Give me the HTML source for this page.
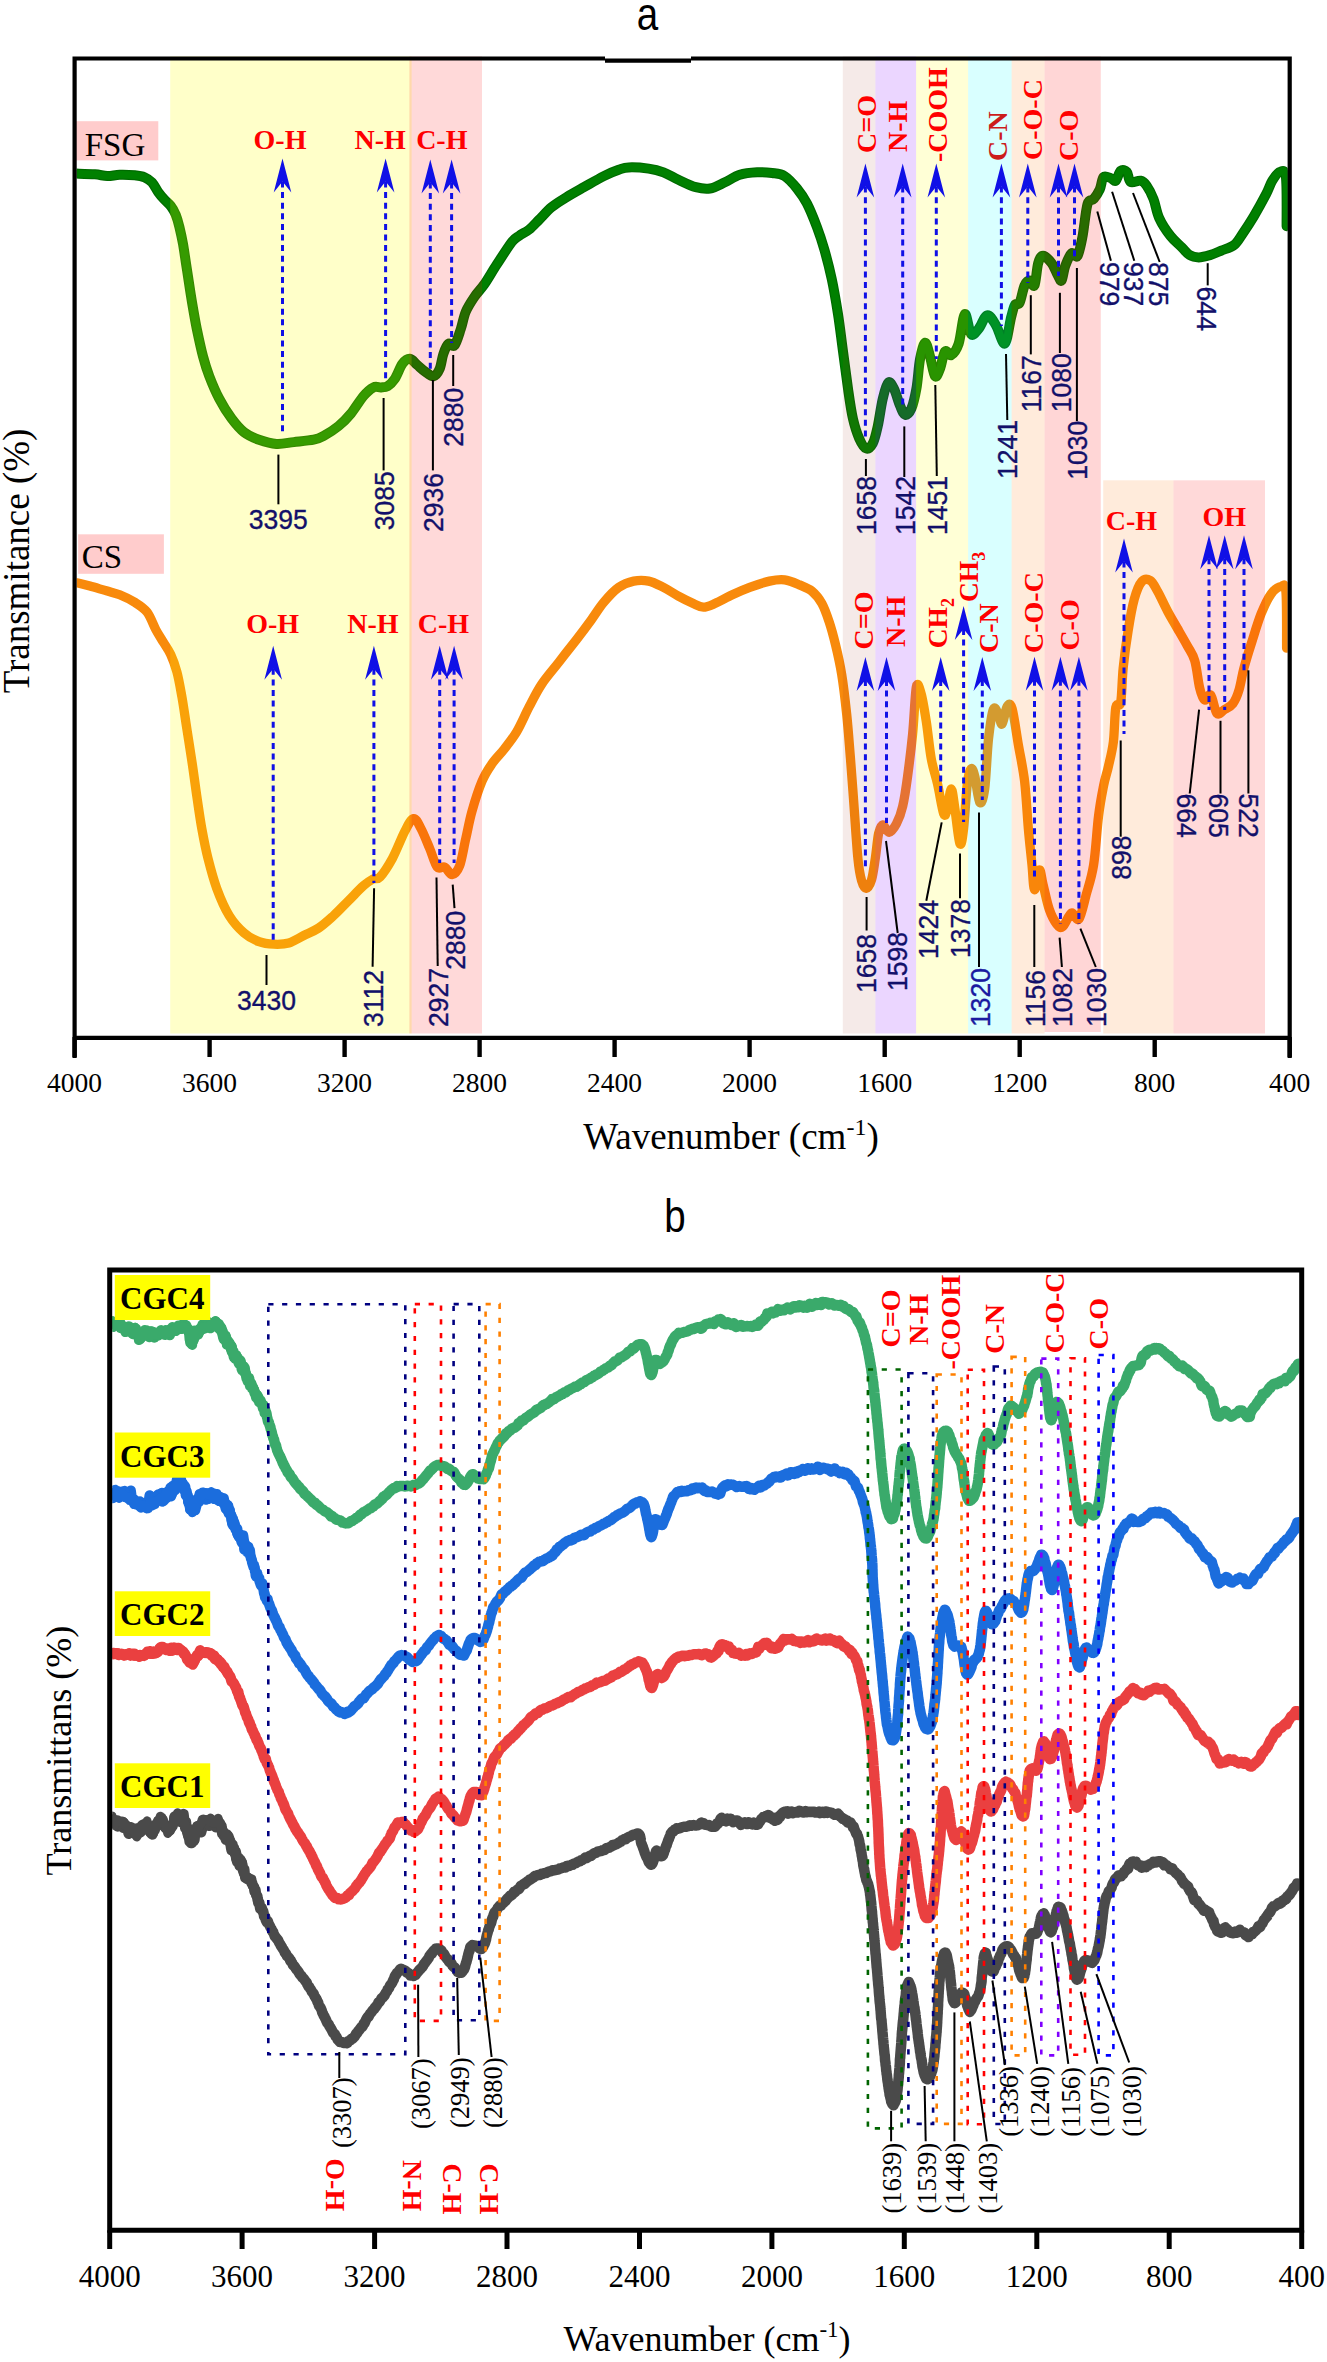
<!DOCTYPE html>
<html><head><meta charset="utf-8"><style>
html,body{margin:0;padding:0;background:#fff;}
svg{display:block;}
</style></head><body>
<svg width="1327" height="2362" viewBox="0 0 1327 2362">
<rect width="1327" height="2362" fill="#fff"/>
<clipPath id="ca"><rect x="76.7" y="60" width="1211" height="975"/></clipPath><g clip-path="url(#ca)">
<path d="M76.2,173.6 C79.3,173.7 89.7,173.9 94.9,174.3 C100.1,174.7 103.2,175.9 107.3,176.0 C111.4,176.1 115.1,174.9 119.7,174.8 C124.3,174.7 130.5,174.9 134.7,175.3 C138.8,175.7 141.7,176.1 144.6,177.3 C147.5,178.5 149.7,179.8 152.0,182.3 C154.3,184.8 156.2,189.3 158.3,192.2 C160.4,195.1 162.4,197.4 164.5,199.7 C166.6,202.0 168.8,203.4 170.7,205.9 C172.6,208.4 174.2,211.1 175.7,214.6 C177.1,218.1 178.2,222.0 179.4,227.0 C180.6,232.0 181.8,237.3 183.1,244.4 C184.3,251.5 185.4,259.8 186.9,269.3 C188.4,278.8 190.2,291.7 191.9,301.6 C193.6,311.6 195.0,319.9 196.8,329.0 C198.7,338.1 200.9,348.5 203.0,356.4 C205.1,364.3 206.6,369.2 209.3,376.2 C212.0,383.2 215.5,391.6 219.2,398.6 C222.9,405.7 227.4,412.9 231.6,418.5 C235.8,424.1 239.5,428.7 244.1,432.2 C248.7,435.7 253.6,437.8 259.0,439.7 C264.4,441.6 270.6,443.5 276.4,443.9 C282.2,444.3 287.6,442.8 293.8,442.1 C300.0,441.4 308.7,440.7 313.7,439.7 C318.7,438.7 319.5,438.2 323.7,435.9 C327.9,433.6 334.1,429.7 338.6,426.0 C343.2,422.3 346.9,418.5 351.0,413.5 C355.1,408.5 359.7,400.5 363.4,396.1 C367.1,391.8 370.5,388.8 373.4,387.4 C376.3,385.9 378.6,387.6 381.0,387.4 C383.4,387.2 385.2,387.6 387.5,386.2 C389.8,384.8 392.4,382.4 394.9,378.7 C397.4,375.0 399.9,367.1 402.4,363.8 C404.9,360.5 407.3,358.6 409.8,358.8 C412.3,359.0 414.8,362.9 417.3,365.0 C419.8,367.1 422.1,369.4 424.8,371.3 C427.5,373.2 431.0,376.6 433.5,376.2 C436.0,375.8 438.1,372.5 439.7,368.8 C441.3,365.1 441.9,358.0 443.4,353.9 C444.8,349.8 446.5,345.3 448.4,343.9 C450.3,342.4 452.5,347.7 454.6,345.2 C456.7,342.7 458.9,334.6 460.8,329.0 C462.7,323.4 463.5,317.0 465.8,311.6 C468.1,306.2 471.4,301.3 474.5,296.7 C477.6,292.1 480.7,289.6 484.4,284.2 C488.1,278.8 492.3,271.3 496.9,264.3 C501.5,257.3 508.1,246.8 511.8,242.0 C515.5,237.2 516.4,237.8 519.3,235.7 C522.2,233.6 525.9,232.2 529.2,229.5 C532.5,226.8 535.5,223.3 539.2,219.6 C542.9,215.9 547.1,210.8 551.6,207.1 C556.1,203.4 561.1,200.5 566.5,197.2 C571.9,193.9 577.7,190.7 583.9,187.2 C590.1,183.7 598.0,179.0 603.8,176.1 C609.6,173.2 614.6,171.2 618.7,169.8 C622.9,168.4 623.7,167.6 628.7,167.4 C633.7,167.2 642.8,167.8 648.6,168.6 C654.4,169.4 658.5,170.4 663.5,172.3 C668.5,174.2 673.0,177.3 678.4,179.8 C683.8,182.3 690.5,185.8 695.8,187.2 C701.1,188.6 705.1,189.3 710.0,188.5 C714.9,187.7 719.9,184.6 724.9,182.3 C729.9,180.0 734.4,176.5 739.8,174.8 C745.2,173.1 751.8,172.6 757.2,172.3 C762.6,172.0 767.5,172.4 772.1,173.0 C776.7,173.6 780.5,173.5 784.6,176.1 C788.8,178.7 793.3,183.9 797.0,188.5 C800.7,193.1 803.6,197.0 806.9,203.4 C810.2,209.8 814.0,219.3 816.9,227.0 C819.8,234.7 821.8,240.7 824.3,249.4 C826.8,258.1 829.5,268.5 831.8,279.3 C834.1,290.1 836.1,302.1 838.0,314.1 C839.9,326.1 841.3,339.0 843.0,351.4 C844.7,363.8 846.4,377.5 848.0,388.7 C849.6,399.9 851.0,410.2 852.9,418.5 C854.8,426.8 857.0,433.4 859.2,438.4 C861.4,443.4 863.8,447.6 866.1,448.4 C868.4,449.2 870.8,447.1 872.8,443.4 C874.8,439.7 876.1,433.5 877.8,426.0 C879.5,418.5 881.0,405.9 882.8,398.6 C884.5,391.4 886.4,384.1 888.3,382.5 C890.2,380.9 892.0,384.8 894.0,388.7 C896.0,392.6 898.3,401.8 900.2,406.1 C902.1,410.5 903.3,414.4 905.2,414.8 C907.1,415.2 909.5,413.0 911.4,408.6 C913.3,404.2 914.9,397.0 916.4,388.7 C917.9,380.4 918.6,366.5 920.1,358.8 C921.6,351.1 923.5,343.1 925.1,342.7 C926.8,342.3 928.4,350.8 930.0,356.4 C931.6,362.0 933.3,374.1 935.0,376.2 C936.7,378.3 938.3,372.9 940.0,368.8 C941.7,364.7 943.1,353.7 945.0,351.4 C946.9,349.1 948.9,356.4 951.2,355.1 C953.5,353.9 956.3,350.7 958.6,343.9 C960.9,337.1 962.7,315.8 964.8,314.1 C966.9,312.5 968.8,331.5 971.1,334.0 C973.4,336.5 975.8,332.1 978.5,329.0 C981.2,325.9 984.3,315.9 987.2,315.3 C990.1,314.7 993.1,320.6 996.0,325.3 C998.9,330.0 1002.3,344.8 1004.8,343.5 C1007.3,342.2 1009.4,323.8 1011.1,317.4 C1012.8,311.0 1013.4,307.6 1014.8,305.1 C1016.2,302.6 1018.1,305.9 1019.7,302.6 C1021.3,299.3 1022.9,289.1 1024.6,285.4 C1026.2,281.7 1027.9,280.5 1029.6,280.5 C1031.2,280.5 1033.1,288.3 1034.5,285.4 C1035.9,282.5 1036.8,268.1 1038.2,263.2 C1039.6,258.3 1040.8,255.8 1043.1,255.8 C1045.3,255.8 1049.2,259.9 1051.7,263.2 C1054.2,266.5 1056.2,272.6 1057.9,275.5 C1059.6,278.4 1060.4,282.1 1061.6,280.5 C1062.8,278.9 1063.6,270.2 1065.3,265.7 C1067.0,261.2 1069.5,255.1 1071.5,253.4 C1073.5,251.8 1075.8,258.7 1077.6,255.8 C1079.4,252.9 1080.9,244.7 1082.6,236.1 C1084.2,227.5 1085.7,210.3 1087.5,204.1 C1089.3,197.9 1091.5,201.6 1093.6,199.1 C1095.6,196.6 1098.1,193.0 1099.8,189.3 C1101.5,185.6 1101.7,178.8 1103.5,177.0 C1105.3,175.2 1108.9,177.6 1110.9,178.2 C1113.0,178.8 1114.2,181.9 1115.8,180.7 C1117.4,179.5 1118.8,172.2 1120.7,170.8 C1122.6,169.4 1125.2,170.2 1126.9,172.0 C1128.6,173.8 1128.3,180.5 1130.6,181.9 C1132.9,183.3 1137.8,180.1 1140.5,180.7 C1143.2,181.3 1144.4,182.5 1146.6,185.6 C1148.8,188.7 1151.4,193.6 1153.5,199.0 C1155.6,204.4 1156.3,211.7 1159.1,217.8 C1161.9,224.0 1166.6,231.0 1170.4,235.9 C1174.2,240.8 1178.5,244.0 1181.7,247.2 C1184.9,250.4 1186.8,253.4 1189.6,255.1 C1192.4,256.8 1195.3,257.4 1198.7,257.4 C1202.1,257.4 1206.2,256.2 1210.0,255.1 C1213.8,254.0 1217.3,252.3 1221.3,250.6 C1225.3,248.9 1230.5,247.8 1234.1,245.0 C1237.7,242.2 1239.4,238.4 1242.7,233.6 C1246.0,228.8 1249.9,223.0 1253.8,216.4 C1257.7,209.8 1263.0,200.1 1266.1,194.2 C1269.2,188.2 1270.0,184.4 1272.3,180.7 C1274.6,177.0 1277.4,172.6 1279.7,172.0 C1282.0,171.4 1284.8,168.0 1285.9,177.0 C1287.1,186.0 1286.5,218.0 1286.6,226.2" fill="none" stroke="#006a00" stroke-width="10" stroke-linejoin="round" stroke-linecap="round"/>
<path d="M76.2,173.6 C79.3,173.7 89.7,173.9 94.9,174.3 C100.1,174.7 103.2,175.9 107.3,176.0 C111.4,176.1 115.1,174.9 119.7,174.8 C124.3,174.7 130.5,174.9 134.7,175.3 C138.8,175.7 141.7,176.1 144.6,177.3 C147.5,178.5 149.7,179.8 152.0,182.3 C154.3,184.8 156.2,189.3 158.3,192.2 C160.4,195.1 162.4,197.4 164.5,199.7 C166.6,202.0 168.8,203.4 170.7,205.9 C172.6,208.4 174.2,211.1 175.7,214.6 C177.1,218.1 178.2,222.0 179.4,227.0 C180.6,232.0 181.8,237.3 183.1,244.4 C184.3,251.5 185.4,259.8 186.9,269.3 C188.4,278.8 190.2,291.7 191.9,301.6 C193.6,311.6 195.0,319.9 196.8,329.0 C198.7,338.1 200.9,348.5 203.0,356.4 C205.1,364.3 206.6,369.2 209.3,376.2 C212.0,383.2 215.5,391.6 219.2,398.6 C222.9,405.7 227.4,412.9 231.6,418.5 C235.8,424.1 239.5,428.7 244.1,432.2 C248.7,435.7 253.6,437.8 259.0,439.7 C264.4,441.6 270.6,443.5 276.4,443.9 C282.2,444.3 287.6,442.8 293.8,442.1 C300.0,441.4 308.7,440.7 313.7,439.7 C318.7,438.7 319.5,438.2 323.7,435.9 C327.9,433.6 334.1,429.7 338.6,426.0 C343.2,422.3 346.9,418.5 351.0,413.5 C355.1,408.5 359.7,400.5 363.4,396.1 C367.1,391.8 370.5,388.8 373.4,387.4 C376.3,385.9 378.6,387.6 381.0,387.4 C383.4,387.2 385.2,387.6 387.5,386.2 C389.8,384.8 392.4,382.4 394.9,378.7 C397.4,375.0 399.9,367.1 402.4,363.8 C404.9,360.5 407.3,358.6 409.8,358.8 C412.3,359.0 414.8,362.9 417.3,365.0 C419.8,367.1 422.1,369.4 424.8,371.3 C427.5,373.2 431.0,376.6 433.5,376.2 C436.0,375.8 438.1,372.5 439.7,368.8 C441.3,365.1 441.9,358.0 443.4,353.9 C444.8,349.8 446.5,345.3 448.4,343.9 C450.3,342.4 452.5,347.7 454.6,345.2 C456.7,342.7 458.9,334.6 460.8,329.0 C462.7,323.4 463.5,317.0 465.8,311.6 C468.1,306.2 471.4,301.3 474.5,296.7 C477.6,292.1 480.7,289.6 484.4,284.2 C488.1,278.8 492.3,271.3 496.9,264.3 C501.5,257.3 508.1,246.8 511.8,242.0 C515.5,237.2 516.4,237.8 519.3,235.7 C522.2,233.6 525.9,232.2 529.2,229.5 C532.5,226.8 535.5,223.3 539.2,219.6 C542.9,215.9 547.1,210.8 551.6,207.1 C556.1,203.4 561.1,200.5 566.5,197.2 C571.9,193.9 577.7,190.7 583.9,187.2 C590.1,183.7 598.0,179.0 603.8,176.1 C609.6,173.2 614.6,171.2 618.7,169.8 C622.9,168.4 623.7,167.6 628.7,167.4 C633.7,167.2 642.8,167.8 648.6,168.6 C654.4,169.4 658.5,170.4 663.5,172.3 C668.5,174.2 673.0,177.3 678.4,179.8 C683.8,182.3 690.5,185.8 695.8,187.2 C701.1,188.6 705.1,189.3 710.0,188.5 C714.9,187.7 719.9,184.6 724.9,182.3 C729.9,180.0 734.4,176.5 739.8,174.8 C745.2,173.1 751.8,172.6 757.2,172.3 C762.6,172.0 767.5,172.4 772.1,173.0 C776.7,173.6 780.5,173.5 784.6,176.1 C788.8,178.7 793.3,183.9 797.0,188.5 C800.7,193.1 803.6,197.0 806.9,203.4 C810.2,209.8 814.0,219.3 816.9,227.0 C819.8,234.7 821.8,240.7 824.3,249.4 C826.8,258.1 829.5,268.5 831.8,279.3 C834.1,290.1 836.1,302.1 838.0,314.1 C839.9,326.1 841.3,339.0 843.0,351.4 C844.7,363.8 846.4,377.5 848.0,388.7 C849.6,399.9 851.0,410.2 852.9,418.5 C854.8,426.8 857.0,433.4 859.2,438.4 C861.4,443.4 863.8,447.6 866.1,448.4 C868.4,449.2 870.8,447.1 872.8,443.4 C874.8,439.7 876.1,433.5 877.8,426.0 C879.5,418.5 881.0,405.9 882.8,398.6 C884.5,391.4 886.4,384.1 888.3,382.5 C890.2,380.9 892.0,384.8 894.0,388.7 C896.0,392.6 898.3,401.8 900.2,406.1 C902.1,410.5 903.3,414.4 905.2,414.8 C907.1,415.2 909.5,413.0 911.4,408.6 C913.3,404.2 914.9,397.0 916.4,388.7 C917.9,380.4 918.6,366.5 920.1,358.8 C921.6,351.1 923.5,343.1 925.1,342.7 C926.8,342.3 928.4,350.8 930.0,356.4 C931.6,362.0 933.3,374.1 935.0,376.2 C936.7,378.3 938.3,372.9 940.0,368.8 C941.7,364.7 943.1,353.7 945.0,351.4 C946.9,349.1 948.9,356.4 951.2,355.1 C953.5,353.9 956.3,350.7 958.6,343.9 C960.9,337.1 962.7,315.8 964.8,314.1 C966.9,312.5 968.8,331.5 971.1,334.0 C973.4,336.5 975.8,332.1 978.5,329.0 C981.2,325.9 984.3,315.9 987.2,315.3 C990.1,314.7 993.1,320.6 996.0,325.3 C998.9,330.0 1002.3,344.8 1004.8,343.5 C1007.3,342.2 1009.4,323.8 1011.1,317.4 C1012.8,311.0 1013.4,307.6 1014.8,305.1 C1016.2,302.6 1018.1,305.9 1019.7,302.6 C1021.3,299.3 1022.9,289.1 1024.6,285.4 C1026.2,281.7 1027.9,280.5 1029.6,280.5 C1031.2,280.5 1033.1,288.3 1034.5,285.4 C1035.9,282.5 1036.8,268.1 1038.2,263.2 C1039.6,258.3 1040.8,255.8 1043.1,255.8 C1045.3,255.8 1049.2,259.9 1051.7,263.2 C1054.2,266.5 1056.2,272.6 1057.9,275.5 C1059.6,278.4 1060.4,282.1 1061.6,280.5 C1062.8,278.9 1063.6,270.2 1065.3,265.7 C1067.0,261.2 1069.5,255.1 1071.5,253.4 C1073.5,251.8 1075.8,258.7 1077.6,255.8 C1079.4,252.9 1080.9,244.7 1082.6,236.1 C1084.2,227.5 1085.7,210.3 1087.5,204.1 C1089.3,197.9 1091.5,201.6 1093.6,199.1 C1095.6,196.6 1098.1,193.0 1099.8,189.3 C1101.5,185.6 1101.7,178.8 1103.5,177.0 C1105.3,175.2 1108.9,177.6 1110.9,178.2 C1113.0,178.8 1114.2,181.9 1115.8,180.7 C1117.4,179.5 1118.8,172.2 1120.7,170.8 C1122.6,169.4 1125.2,170.2 1126.9,172.0 C1128.6,173.8 1128.3,180.5 1130.6,181.9 C1132.9,183.3 1137.8,180.1 1140.5,180.7 C1143.2,181.3 1144.4,182.5 1146.6,185.6 C1148.8,188.7 1151.4,193.6 1153.5,199.0 C1155.6,204.4 1156.3,211.7 1159.1,217.8 C1161.9,224.0 1166.6,231.0 1170.4,235.9 C1174.2,240.8 1178.5,244.0 1181.7,247.2 C1184.9,250.4 1186.8,253.4 1189.6,255.1 C1192.4,256.8 1195.3,257.4 1198.7,257.4 C1202.1,257.4 1206.2,256.2 1210.0,255.1 C1213.8,254.0 1217.3,252.3 1221.3,250.6 C1225.3,248.9 1230.5,247.8 1234.1,245.0 C1237.7,242.2 1239.4,238.4 1242.7,233.6 C1246.0,228.8 1249.9,223.0 1253.8,216.4 C1257.7,209.8 1263.0,200.1 1266.1,194.2 C1269.2,188.2 1270.0,184.4 1272.3,180.7 C1274.6,177.0 1277.4,172.6 1279.7,172.0 C1282.0,171.4 1284.8,168.0 1285.9,177.0 C1287.1,186.0 1286.5,218.0 1286.6,226.2" fill="none" stroke="#008000" stroke-width="7.6" stroke-linejoin="round" stroke-linecap="round"/>
<path d="M76.9,582.8 C79.1,583.3 84.8,584.7 89.9,586.1 C95.0,587.5 102.3,589.7 107.3,591.1 C112.3,592.5 115.1,592.9 119.7,594.8 C124.3,596.7 130.1,599.4 134.7,602.3 C139.3,605.2 143.6,607.7 147.1,612.2 C150.6,616.8 153.1,624.6 155.8,629.6 C158.5,634.6 160.8,638.0 163.3,642.1 C165.8,646.2 168.4,649.5 170.7,654.5 C173.0,659.5 175.0,664.9 176.9,671.9 C178.8,678.9 180.2,687.3 181.9,696.8 C183.6,706.3 185.2,718.3 186.9,729.1 C188.6,739.9 190.2,750.2 191.9,761.4 C193.6,772.6 195.2,785.0 196.8,796.2 C198.5,807.4 199.9,818.2 201.8,828.6 C203.7,839.0 205.5,848.5 208.0,858.4 C210.5,868.3 213.2,878.8 216.7,888.3 C220.2,897.8 224.6,908.1 229.2,915.6 C233.8,923.1 239.1,928.6 244.1,933.0 C249.1,937.4 254.0,939.8 259.0,941.7 C264.0,943.6 268.9,944.0 273.9,944.2 C278.9,944.4 283.8,944.5 288.8,943.0 C293.8,941.5 298.8,938.0 303.8,935.5 C308.8,933.0 313.7,931.3 318.7,928.0 C323.7,924.7 328.6,920.1 333.6,915.6 C338.6,911.1 343.5,905.7 348.5,900.7 C353.5,895.7 359.3,889.4 363.4,885.8 C367.5,882.2 370.2,880.5 373.0,879.0 C375.8,877.5 376.8,880.4 380.0,877.0 C383.2,873.6 388.2,866.0 392.4,858.4 C396.5,850.8 401.4,837.7 404.9,831.1 C408.4,824.5 410.9,819.0 413.6,818.6 C416.3,818.2 418.3,823.6 421.0,828.6 C423.7,833.6 427.0,842.1 429.7,848.5 C432.4,854.9 434.7,864.0 437.2,867.1 C439.7,870.2 442.2,865.9 444.7,867.1 C447.2,868.4 449.6,874.8 452.1,874.6 C454.6,874.4 457.3,871.9 459.6,865.9 C461.9,859.9 463.7,847.6 465.8,838.5 C467.9,829.4 469.3,820.7 472.0,811.2 C474.7,801.7 478.7,789.2 482.0,781.3 C485.3,773.4 488.2,769.3 491.9,763.9 C495.6,758.5 500.2,754.4 504.3,749.0 C508.4,743.6 512.6,738.6 516.8,731.6 C520.9,724.6 525.1,714.6 529.2,706.7 C533.3,698.8 536.6,691.8 541.6,684.3 C546.6,676.8 553.2,669.5 559.0,662.0 C564.8,654.5 571.1,646.6 576.5,639.6 C581.9,632.6 586.9,625.9 591.4,619.7 C595.9,613.5 599.2,607.7 603.8,602.3 C608.3,596.9 613.7,590.9 618.7,587.4 C623.7,583.9 628.7,582.1 633.7,581.1 C638.7,580.1 643.6,580.1 648.6,581.1 C653.6,582.1 658.5,584.9 663.5,587.4 C668.5,589.9 673.4,593.4 678.4,596.1 C683.4,598.8 689.1,601.6 693.3,603.5 C697.4,605.4 699.7,607.2 703.3,607.2 C706.9,607.2 710.1,605.6 714.9,603.5 C719.7,601.4 726.5,597.5 732.3,594.8 C738.1,592.1 743.5,589.7 749.7,587.4 C755.9,585.1 763.8,582.4 769.6,581.1 C775.4,579.9 779.6,579.3 784.6,579.9 C789.6,580.5 795.0,583.0 799.5,584.9 C804.0,586.8 808.2,588.0 811.9,591.1 C815.6,594.2 819.0,598.3 821.9,603.5 C824.8,608.7 827.0,615.4 829.3,622.2 C831.6,629.1 833.4,635.9 835.5,644.6 C837.6,653.3 839.8,662.8 841.7,674.4 C843.6,686.0 845.2,700.1 846.7,714.2 C848.2,728.3 849.2,743.1 850.5,758.9 C851.8,774.6 853.0,792.1 854.2,808.7 C855.4,825.3 856.7,846.4 857.9,858.4 C859.1,870.4 860.2,875.8 861.6,880.8 C863.0,885.8 864.4,888.5 866.1,888.3 C867.8,888.1 870.1,884.6 871.6,879.6 C873.1,874.6 874.1,866.1 875.3,858.4 C876.5,850.7 877.4,839.1 878.6,833.5 C879.9,827.9 881.1,825.0 882.8,824.8 C884.5,824.6 886.7,832.5 889.0,832.3 C891.3,832.1 894.2,828.0 896.5,823.6 C898.8,819.2 900.9,814.1 902.7,806.2 C904.6,798.3 906.0,788.4 907.6,776.4 C909.2,764.4 911.1,749.0 912.6,734.1 C914.1,719.2 915.0,693.4 916.4,686.8 C917.8,680.2 919.6,688.5 921.3,694.3 C922.9,700.1 924.6,710.8 926.3,721.6 C928.0,732.4 929.4,748.6 931.3,759.0 C933.2,769.4 935.4,774.7 937.5,783.8 C939.6,792.9 942.1,809.6 943.7,813.7 C945.4,817.9 946.1,812.9 947.4,808.7 C948.6,804.6 950.0,788.8 951.2,788.8 C952.5,788.8 953.5,799.6 954.9,808.7 C956.3,817.8 958.4,840.2 959.9,843.5 C961.4,846.8 962.4,838.6 963.6,828.6 C964.8,818.6 966.0,793.8 967.3,783.8 C968.5,773.8 969.9,770.1 971.1,768.9 C972.4,767.7 973.3,770.8 974.8,776.4 C976.2,782.0 978.1,800.4 979.8,802.5 C981.4,804.6 983.2,799.4 984.7,788.8 C986.2,778.2 987.0,752.3 988.5,739.0 C990.0,725.7 991.8,713.3 993.4,709.2 C995.0,705.1 996.9,711.7 998.4,714.2 C999.9,716.7 1000.6,725.4 1002.1,724.1 C1003.6,722.8 1005.4,709.1 1007.1,706.5 C1008.8,703.9 1010.2,702.1 1012.1,708.5 C1014.0,714.9 1016.3,732.9 1018.4,745.0 C1020.5,757.1 1022.9,767.4 1024.6,781.2 C1026.2,795.0 1027.1,814.0 1028.3,828.0 C1029.5,842.0 1031.0,854.7 1032.0,865.0 C1033.0,875.3 1033.3,888.8 1034.5,889.6 C1035.7,890.4 1038.0,870.7 1039.4,869.9 C1040.8,869.1 1041.4,878.1 1043.1,884.7 C1044.8,891.3 1047.0,902.8 1049.3,909.4 C1051.6,916.0 1054.5,921.2 1056.7,924.1 C1059.0,927.0 1060.3,928.5 1062.8,926.6 C1065.3,924.8 1068.8,914.2 1071.5,913.0 C1074.2,911.8 1076.5,922.3 1078.9,919.2 C1081.4,916.1 1083.8,903.6 1086.2,894.6 C1088.7,885.6 1091.5,878.1 1093.6,865.0 C1095.7,851.9 1096.9,828.9 1098.6,815.7 C1100.2,802.6 1101.9,794.3 1103.5,786.1 C1105.1,777.9 1106.8,773.8 1108.4,766.4 C1110.1,759.0 1112.2,751.6 1113.4,741.8 C1114.6,731.9 1114.6,713.9 1115.8,707.3 C1117.0,700.7 1119.5,709.0 1120.7,702.4 C1121.9,695.8 1122.0,679.8 1123.2,667.9 C1124.4,656.0 1126.2,642.4 1128.1,630.9 C1129.9,619.4 1132.0,607.1 1134.3,598.9 C1136.6,590.7 1139.0,584.7 1141.7,581.6 C1144.4,578.5 1147.6,578.8 1150.3,580.4 C1153.0,582.0 1154.8,586.4 1157.7,591.5 C1160.6,596.6 1164.3,605.1 1167.6,611.2 C1170.9,617.4 1174.1,622.6 1177.4,628.4 C1180.7,634.1 1184.4,640.4 1187.3,645.7 C1190.2,651.1 1192.7,653.5 1194.7,660.5 C1196.8,667.5 1198.0,681.0 1199.6,687.6 C1201.2,694.2 1202.7,698.7 1204.5,699.9 C1206.3,701.1 1208.6,692.8 1210.7,695.0 C1212.8,697.2 1214.7,710.9 1216.9,713.4 C1219.2,715.9 1221.5,711.3 1224.2,709.7 C1226.9,708.1 1230.4,706.9 1232.9,703.6 C1235.4,700.3 1237.2,696.0 1239.0,690.0 C1240.8,684.0 1241.9,675.7 1244.0,667.9 C1246.1,660.1 1248.5,652.2 1251.4,643.2 C1254.3,634.2 1257.9,621.8 1261.2,613.6 C1264.5,605.4 1267.8,598.4 1271.1,593.9 C1274.4,589.4 1278.4,586.9 1280.9,586.5 C1283.4,586.1 1285.0,581.2 1285.9,591.5 C1286.9,601.8 1286.5,638.7 1286.6,648.1" fill="none" stroke="#f88a0c" stroke-width="9.3" stroke-linejoin="round" stroke-linecap="round"/>
</g>
<rect x="170.2" y="56.4" width="241.4" height="977.1" fill="#ffff00" fill-opacity="0.21"/>
<rect x="409.4" y="56.4" width="72.6" height="977.1" fill="#ff0000" fill-opacity="0.15"/>
<rect x="842.8" y="56.4" width="32.6" height="977.1" fill="#a03020" fill-opacity="0.1"/>
<rect x="875.4" y="56.4" width="40.7" height="977.1" fill="#8000ff" fill-opacity="0.16"/>
<rect x="916.1" y="56.4" width="52.0" height="977.1" fill="#ffff00" fill-opacity="0.16"/>
<rect x="968.1" y="56.4" width="43.5" height="977.1" fill="#00ffff" fill-opacity="0.15"/>
<rect x="1011.6" y="56.4" width="33.0" height="977.1" fill="#ff7000" fill-opacity="0.14"/>
<rect x="1044.6" y="56.4" width="56.2" height="975.6" fill="#ff0000" fill-opacity="0.16"/>
<rect x="1103.2" y="480.3" width="70.3" height="553.2" fill="#ff7000" fill-opacity="0.14"/>
<rect x="1173.5" y="480.3" width="91.5" height="553.2" fill="#ff0000" fill-opacity="0.15"/>
<rect x="73.0" y="121.2" width="85.3" height="39.2" fill="#ff0000" fill-opacity="0.2"/>
<rect x="78.1" y="534.3" width="85.8" height="39.5" fill="#ff0000" fill-opacity="0.2"/>
<line x1="282.5" y1="181.5" x2="282.5" y2="435.0" stroke="#1010e6" stroke-width="3" stroke-dasharray="6 4.6"/>
<path d="M282.5,158.5 L291.3,192.5 L282.5,181.5 L273.7,192.5 Z" fill="#1010e6"/>
<line x1="385.6" y1="181.5" x2="385.6" y2="382.0" stroke="#1010e6" stroke-width="3" stroke-dasharray="6 4.6"/>
<path d="M385.6,158.5 L394.4,192.5 L385.6,181.5 L376.8,192.5 Z" fill="#1010e6"/>
<line x1="430.3" y1="182.5" x2="430.3" y2="371.0" stroke="#1010e6" stroke-width="3" stroke-dasharray="6 4.6"/>
<path d="M430.3,159.5 L439.1,193.5 L430.3,182.5 L421.5,193.5 Z" fill="#1010e6"/>
<line x1="451.6" y1="182.5" x2="451.6" y2="343.0" stroke="#1010e6" stroke-width="3" stroke-dasharray="6 4.6"/>
<path d="M451.6,159.5 L460.4,193.5 L451.6,182.5 L442.8,193.5 Z" fill="#1010e6"/>
<line x1="865.4" y1="186.6" x2="865.4" y2="441.0" stroke="#1010e6" stroke-width="3" stroke-dasharray="6 4.6"/>
<path d="M865.4,163.6 L874.2,197.6 L865.4,186.6 L856.6,197.6 Z" fill="#1010e6"/>
<line x1="902.7" y1="186.6" x2="902.7" y2="407.0" stroke="#1010e6" stroke-width="3" stroke-dasharray="6 4.6"/>
<path d="M902.7,163.6 L911.5,197.6 L902.7,186.6 L893.9,197.6 Z" fill="#1010e6"/>
<line x1="936.3" y1="186.6" x2="936.3" y2="359.0" stroke="#1010e6" stroke-width="3" stroke-dasharray="6 4.6"/>
<path d="M936.3,163.6 L945.1,197.6 L936.3,186.6 L927.5,197.6 Z" fill="#1010e6"/>
<line x1="1001.4" y1="186.6" x2="1001.4" y2="326.0" stroke="#1010e6" stroke-width="3" stroke-dasharray="6 4.6"/>
<path d="M1001.4,163.6 L1010.2,197.6 L1001.4,186.6 L992.6,197.6 Z" fill="#1010e6"/>
<line x1="1027.8" y1="186.6" x2="1027.8" y2="283.0" stroke="#1010e6" stroke-width="3" stroke-dasharray="6 4.6"/>
<path d="M1027.8,163.6 L1036.6,197.6 L1027.8,186.6 L1019.0,197.6 Z" fill="#1010e6"/>
<line x1="1058.5" y1="186.6" x2="1058.5" y2="276.0" stroke="#1010e6" stroke-width="3" stroke-dasharray="6 4.6"/>
<path d="M1058.5,163.6 L1067.3,197.6 L1058.5,186.6 L1049.7,197.6 Z" fill="#1010e6"/>
<line x1="1074.5" y1="186.6" x2="1074.5" y2="260.0" stroke="#1010e6" stroke-width="3" stroke-dasharray="6 4.6"/>
<path d="M1074.5,163.6 L1083.3,197.6 L1074.5,186.6 L1065.7,197.6 Z" fill="#1010e6"/>
<line x1="273.2" y1="668.8" x2="273.2" y2="940.0" stroke="#1010e6" stroke-width="3" stroke-dasharray="6 4.6"/>
<path d="M273.2,645.8 L282.0,679.8 L273.2,668.8 L264.4,679.8 Z" fill="#1010e6"/>
<line x1="373.9" y1="668.8" x2="373.9" y2="883.0" stroke="#1010e6" stroke-width="3" stroke-dasharray="6 4.6"/>
<path d="M373.9,645.8 L382.7,679.8 L373.9,668.8 L365.1,679.8 Z" fill="#1010e6"/>
<line x1="439.7" y1="668.8" x2="439.7" y2="863.0" stroke="#1010e6" stroke-width="3" stroke-dasharray="6 4.6"/>
<path d="M439.7,645.8 L448.5,679.8 L439.7,668.8 L430.9,679.8 Z" fill="#1010e6"/>
<line x1="454.1" y1="668.8" x2="454.1" y2="863.0" stroke="#1010e6" stroke-width="3" stroke-dasharray="6 4.6"/>
<path d="M454.1,645.8 L462.9,679.8 L454.1,668.8 L445.3,679.8 Z" fill="#1010e6"/>
<line x1="865.4" y1="680.0" x2="865.4" y2="869.0" stroke="#1010e6" stroke-width="3" stroke-dasharray="6 4.6"/>
<path d="M865.4,657.0 L874.2,691.0 L865.4,680.0 L856.6,691.0 Z" fill="#1010e6"/>
<line x1="886.5" y1="680.0" x2="886.5" y2="823.0" stroke="#1010e6" stroke-width="3" stroke-dasharray="6 4.6"/>
<path d="M886.5,657.0 L895.3,691.0 L886.5,680.0 L877.7,691.0 Z" fill="#1010e6"/>
<line x1="940.7" y1="680.0" x2="940.7" y2="794.0" stroke="#1010e6" stroke-width="3" stroke-dasharray="6 4.6"/>
<path d="M940.7,657.0 L949.5,691.0 L940.7,680.0 L931.9,691.0 Z" fill="#1010e6"/>
<line x1="963.6" y1="629.0" x2="963.6" y2="822.0" stroke="#1010e6" stroke-width="3" stroke-dasharray="6 4.6"/>
<path d="M963.6,606.0 L972.4,640.0 L963.6,629.0 L954.8,640.0 Z" fill="#1010e6"/>
<line x1="982.3" y1="680.0" x2="982.3" y2="800.0" stroke="#1010e6" stroke-width="3" stroke-dasharray="6 4.6"/>
<path d="M982.3,657.0 L991.1,691.0 L982.3,680.0 L973.5,691.0 Z" fill="#1010e6"/>
<line x1="1034.5" y1="679.8" x2="1034.5" y2="881.0" stroke="#1010e6" stroke-width="3" stroke-dasharray="6 4.6"/>
<path d="M1034.5,656.8 L1043.3,690.8 L1034.5,679.8 L1025.7,690.8 Z" fill="#1010e6"/>
<line x1="1060.4" y1="679.8" x2="1060.4" y2="924.0" stroke="#1010e6" stroke-width="3" stroke-dasharray="6 4.6"/>
<path d="M1060.4,656.8 L1069.2,690.8 L1060.4,679.8 L1051.6,690.8 Z" fill="#1010e6"/>
<line x1="1078.9" y1="679.8" x2="1078.9" y2="924.0" stroke="#1010e6" stroke-width="3" stroke-dasharray="6 4.6"/>
<path d="M1078.9,656.8 L1087.7,690.8 L1078.9,679.8 L1070.1,690.8 Z" fill="#1010e6"/>
<line x1="1124.0" y1="561.5" x2="1124.0" y2="734.0" stroke="#1010e6" stroke-width="3" stroke-dasharray="6 4.6"/>
<path d="M1124.0,538.5 L1132.8,572.5 L1124.0,561.5 L1115.2,572.5 Z" fill="#1010e6"/>
<line x1="1209.0" y1="558.3" x2="1209.0" y2="710.0" stroke="#1010e6" stroke-width="3" stroke-dasharray="6 4.6"/>
<path d="M1209.0,535.3 L1217.8,569.3 L1209.0,558.3 L1200.2,569.3 Z" fill="#1010e6"/>
<line x1="1224.7" y1="558.3" x2="1224.7" y2="710.0" stroke="#1010e6" stroke-width="3" stroke-dasharray="6 4.6"/>
<path d="M1224.7,535.3 L1233.5,569.3 L1224.7,558.3 L1215.9,569.3 Z" fill="#1010e6"/>
<line x1="1244.0" y1="558.3" x2="1244.0" y2="673.0" stroke="#1010e6" stroke-width="3" stroke-dasharray="6 4.6"/>
<path d="M1244.0,535.3 L1252.8,569.3 L1244.0,558.3 L1235.2,569.3 Z" fill="#1010e6"/>
<text x="280.0" y="148.9" font-family="'Liberation Serif', serif" font-size="28" font-weight="bold" fill="#ff0000" text-anchor="middle" >O-H</text>
<text x="380.2" y="148.9" font-family="'Liberation Serif', serif" font-size="28" font-weight="bold" fill="#ff0000" text-anchor="middle" >N-H</text>
<text x="441.8" y="148.9" font-family="'Liberation Serif', serif" font-size="28" font-weight="bold" fill="#ff0000" text-anchor="middle" >C-H</text>
<text x="272.7" y="633.4" font-family="'Liberation Serif', serif" font-size="28" font-weight="bold" fill="#ff0000" text-anchor="middle" >O-H</text>
<text x="373.0" y="633.4" font-family="'Liberation Serif', serif" font-size="28" font-weight="bold" fill="#ff0000" text-anchor="middle" >N-H</text>
<text x="443.4" y="633.4" font-family="'Liberation Serif', serif" font-size="28" font-weight="bold" fill="#ff0000" text-anchor="middle" >C-H</text>
<text x="1131.4" y="530.1" font-family="'Liberation Serif', serif" font-size="28" font-weight="bold" fill="#ff0000" text-anchor="middle" >C-H</text>
<text x="1224.2" y="525.5" font-family="'Liberation Serif', serif" font-size="28" font-weight="bold" fill="#ff0000" text-anchor="middle" >OH</text>
<text x="875.6" y="153.0" font-family="'Liberation Serif', serif" font-size="28" font-weight="bold" fill="#ff0000" text-anchor="start" transform="rotate(-90 875.6 153.0)" >C=O</text>
<text x="907.3" y="152.0" font-family="'Liberation Serif', serif" font-size="28" font-weight="bold" fill="#ff0000" text-anchor="start" transform="rotate(-90 907.3 152.0)" >N-H</text>
<text x="947.3" y="162.0" font-family="'Liberation Serif', serif" font-size="28" font-weight="bold" fill="#ff0000" text-anchor="start" transform="rotate(-90 947.3 162.0)" >-COOH</text>
<text x="1006.8" y="161.0" font-family="'Liberation Serif', serif" font-size="28" font-weight="bold" fill="#cc1c1c" text-anchor="start" transform="rotate(-90 1006.8 161.0)" >C-N</text>
<text x="1041.8" y="160.0" font-family="'Liberation Serif', serif" font-size="28" font-weight="bold" fill="#ff0000" text-anchor="start" transform="rotate(-90 1041.8 160.0)" >C-O-C</text>
<text x="1077.5" y="161.0" font-family="'Liberation Serif', serif" font-size="28" font-weight="bold" fill="#ff0000" text-anchor="start" transform="rotate(-90 1077.5 161.0)" >C-O</text>
<text x="873.3" y="649.5" font-family="'Liberation Serif', serif" font-size="28" font-weight="bold" fill="#ff0000" text-anchor="start" transform="rotate(-90 873.3 649.5)" >C=O</text>
<text x="904.5" y="647.0" font-family="'Liberation Serif', serif" font-size="28" font-weight="bold" fill="#ff0000" text-anchor="start" transform="rotate(-90 904.5 647.0)" >N-H</text>
<text x="997.8" y="653.0" font-family="'Liberation Serif', serif" font-size="28" font-weight="bold" fill="#ff0000" text-anchor="start" transform="rotate(-90 997.8 653.0)" >C-N</text>
<text x="946.6" y="648.3" font-family="'Liberation Serif', serif" font-size="27.5" font-weight="bold" fill="#ff0000" transform="rotate(-90 946.6 648.3)">CH<tspan font-size="18" dy="7">2</tspan></text>
<text x="977.7" y="602" font-family="'Liberation Serif', serif" font-size="27.5" font-weight="bold" fill="#ff0000" transform="rotate(-90 977.7 602)">CH<tspan font-size="18" dy="7">3</tspan></text>
<text x="1043.1" y="653.0" font-family="'Liberation Serif', serif" font-size="28" font-weight="bold" fill="#ff0000" text-anchor="start" transform="rotate(-90 1043.1 653.0)" >C-O-C</text>
<text x="1079.5" y="650.6" font-family="'Liberation Serif', serif" font-size="28" font-weight="bold" fill="#ff0000" text-anchor="start" transform="rotate(-90 1079.5 650.6)" >C-O</text>
<text x="115.0" y="156.0" font-family="'Liberation Serif', serif" font-size="33" font-weight="normal" fill="#000" text-anchor="middle" >FSG</text>
<text x="102.0" y="568.0" font-family="'Liberation Serif', serif" font-size="33" font-weight="normal" fill="#000" text-anchor="middle" >CS</text>
<path d="M74.6,58.5 L605,58.5 M605,60.6 L691,60.6 M691,58.5 L1289.7,58.5 M74.6,56.5 L74.6,1058 M1289.7,56.5 L1289.7,1058 M72.5,1037.8 L1291.8,1037.8" stroke="#000" stroke-width="4.2" fill="none"/>
<line x1="74.6" y1="1037.0" x2="74.6" y2="1057.0" stroke="#000" stroke-width="4.4" />
<line x1="209.6" y1="1037.0" x2="209.6" y2="1057.0" stroke="#000" stroke-width="4.4" />
<line x1="344.6" y1="1037.0" x2="344.6" y2="1057.0" stroke="#000" stroke-width="4.4" />
<line x1="479.6" y1="1037.0" x2="479.6" y2="1057.0" stroke="#000" stroke-width="4.4" />
<line x1="614.6" y1="1037.0" x2="614.6" y2="1057.0" stroke="#000" stroke-width="4.4" />
<line x1="749.6" y1="1037.0" x2="749.6" y2="1057.0" stroke="#000" stroke-width="4.4" />
<line x1="884.7" y1="1037.0" x2="884.7" y2="1057.0" stroke="#000" stroke-width="4.4" />
<line x1="1019.7" y1="1037.0" x2="1019.7" y2="1057.0" stroke="#000" stroke-width="4.4" />
<line x1="1154.7" y1="1037.0" x2="1154.7" y2="1057.0" stroke="#000" stroke-width="4.4" />
<line x1="1289.7" y1="1037.0" x2="1289.7" y2="1057.0" stroke="#000" stroke-width="4.4" />
<text x="74.6" y="1092.0" font-family="'Liberation Serif', serif" font-size="27.5" font-weight="normal" fill="#000" text-anchor="middle" >4000</text>
<text x="209.6" y="1092.0" font-family="'Liberation Serif', serif" font-size="27.5" font-weight="normal" fill="#000" text-anchor="middle" >3600</text>
<text x="344.6" y="1092.0" font-family="'Liberation Serif', serif" font-size="27.5" font-weight="normal" fill="#000" text-anchor="middle" >3200</text>
<text x="479.6" y="1092.0" font-family="'Liberation Serif', serif" font-size="27.5" font-weight="normal" fill="#000" text-anchor="middle" >2800</text>
<text x="614.6" y="1092.0" font-family="'Liberation Serif', serif" font-size="27.5" font-weight="normal" fill="#000" text-anchor="middle" >2400</text>
<text x="749.6" y="1092.0" font-family="'Liberation Serif', serif" font-size="27.5" font-weight="normal" fill="#000" text-anchor="middle" >2000</text>
<text x="884.7" y="1092.0" font-family="'Liberation Serif', serif" font-size="27.5" font-weight="normal" fill="#000" text-anchor="middle" >1600</text>
<text x="1019.7" y="1092.0" font-family="'Liberation Serif', serif" font-size="27.5" font-weight="normal" fill="#000" text-anchor="middle" >1200</text>
<text x="1154.7" y="1092.0" font-family="'Liberation Serif', serif" font-size="27.5" font-weight="normal" fill="#000" text-anchor="middle" >800</text>
<text x="1289.7" y="1092.0" font-family="'Liberation Serif', serif" font-size="27.5" font-weight="normal" fill="#000" text-anchor="middle" >400</text>
<text transform="translate(278.3 529.4) scale(0.945 1)" font-family="'Liberation Sans', sans-serif" font-size="28.1" fill="#12106a" stroke="#12106a" stroke-width="0.35" text-anchor="middle">3395</text>
<text transform="translate(266.4 1009.5) scale(0.945 1)" font-family="'Liberation Sans', sans-serif" font-size="28.1" fill="#12106a" stroke="#12106a" stroke-width="0.35" text-anchor="middle">3430</text>
<text transform="translate(393.6 530.3) rotate(-90) scale(0.945 1)" font-family="'Liberation Sans', sans-serif" font-size="28.1" fill="#12106a" stroke="#12106a" stroke-width="0.35">3085</text>
<text transform="translate(443.3 532.0) rotate(-90) scale(0.945 1)" font-family="'Liberation Sans', sans-serif" font-size="28.1" fill="#12106a" stroke="#12106a" stroke-width="0.35">2936</text>
<text transform="translate(462.7 446.7) rotate(-90) scale(0.945 1)" font-family="'Liberation Sans', sans-serif" font-size="28.1" fill="#12106a" stroke="#12106a" stroke-width="0.35">2880</text>
<text transform="translate(876.0 535.0) rotate(-90) scale(0.945 1)" font-family="'Liberation Sans', sans-serif" font-size="28.1" fill="#12106a" stroke="#12106a" stroke-width="0.35">1658</text>
<text transform="translate(915.0 535.0) rotate(-90) scale(0.945 1)" font-family="'Liberation Sans', sans-serif" font-size="28.1" fill="#12106a" stroke="#12106a" stroke-width="0.35">1542</text>
<text transform="translate(947.3 535.0) rotate(-90) scale(0.945 1)" font-family="'Liberation Sans', sans-serif" font-size="28.1" fill="#12106a" stroke="#12106a" stroke-width="0.35">1451</text>
<text transform="translate(1017.4 479.0) rotate(-90) scale(0.945 1)" font-family="'Liberation Sans', sans-serif" font-size="28.1" fill="#12106a" stroke="#12106a" stroke-width="0.35">1241</text>
<text transform="translate(1041.4 412.3) rotate(-90) scale(0.945 1)" font-family="'Liberation Sans', sans-serif" font-size="28.1" fill="#12106a" stroke="#12106a" stroke-width="0.35">1167</text>
<text transform="translate(1071.0 412.3) rotate(-90) scale(0.945 1)" font-family="'Liberation Sans', sans-serif" font-size="28.1" fill="#12106a" stroke="#12106a" stroke-width="0.35">1080</text>
<text transform="translate(1087.0 479.8) rotate(-90) scale(0.945 1)" font-family="'Liberation Sans', sans-serif" font-size="28.1" fill="#12106a" stroke="#12106a" stroke-width="0.35">1030</text>
<text transform="translate(1100.1 262.0) rotate(90) scale(0.945 1)" font-family="'Liberation Sans', sans-serif" font-size="28.1" fill="#12106a" stroke="#12106a" stroke-width="0.35">979</text>
<text transform="translate(1124.1 262.0) rotate(90) scale(0.945 1)" font-family="'Liberation Sans', sans-serif" font-size="28.1" fill="#12106a" stroke="#12106a" stroke-width="0.35">937</text>
<text transform="translate(1149.4 262.0) rotate(90) scale(0.945 1)" font-family="'Liberation Sans', sans-serif" font-size="28.1" fill="#12106a" stroke="#12106a" stroke-width="0.35">875</text>
<text transform="translate(1197.4 286.6) rotate(90) scale(0.945 1)" font-family="'Liberation Sans', sans-serif" font-size="28.1" fill="#12106a" stroke="#12106a" stroke-width="0.35">644</text>
<text transform="translate(383.3 1027.0) rotate(-90) scale(0.945 1)" font-family="'Liberation Sans', sans-serif" font-size="28.1" fill="#12106a" stroke="#12106a" stroke-width="0.35">3112</text>
<text transform="translate(447.8 1027.0) rotate(-90) scale(0.945 1)" font-family="'Liberation Sans', sans-serif" font-size="28.1" fill="#12106a" stroke="#12106a" stroke-width="0.35">2927</text>
<text transform="translate(465.2 969.7) rotate(-90) scale(0.945 1)" font-family="'Liberation Sans', sans-serif" font-size="28.1" fill="#12106a" stroke="#12106a" stroke-width="0.35">2880</text>
<text transform="translate(876.4 993.0) rotate(-90) scale(0.945 1)" font-family="'Liberation Sans', sans-serif" font-size="28.1" fill="#12106a" stroke="#12106a" stroke-width="0.35">1658</text>
<text transform="translate(907.0 991.0) rotate(-90) scale(0.945 1)" font-family="'Liberation Sans', sans-serif" font-size="28.1" fill="#12106a" stroke="#12106a" stroke-width="0.35">1598</text>
<text transform="translate(937.5 959.0) rotate(-90) scale(0.945 1)" font-family="'Liberation Sans', sans-serif" font-size="28.1" fill="#12106a" stroke="#12106a" stroke-width="0.35">1424</text>
<text transform="translate(970.3 958.0) rotate(-90) scale(0.945 1)" font-family="'Liberation Sans', sans-serif" font-size="28.1" fill="#12106a" stroke="#12106a" stroke-width="0.35">1378</text>
<text transform="translate(989.5 1027.0) rotate(-90) scale(0.945 1)" font-family="'Liberation Sans', sans-serif" font-size="28.1" fill="#1a1aa0" stroke="#1a1aa0" stroke-width="0.35">1320</text>
<text transform="translate(1044.9 1027.0) rotate(-90) scale(0.945 1)" font-family="'Liberation Sans', sans-serif" font-size="28.1" fill="#12106a" stroke="#12106a" stroke-width="0.35">1156</text>
<text transform="translate(1071.6 1027.0) rotate(-90) scale(0.945 1)" font-family="'Liberation Sans', sans-serif" font-size="28.1" fill="#12106a" stroke="#12106a" stroke-width="0.35">1082</text>
<text transform="translate(1105.5 1027.0) rotate(-90) scale(0.945 1)" font-family="'Liberation Sans', sans-serif" font-size="28.1" fill="#12106a" stroke="#12106a" stroke-width="0.35">1030</text>
<text transform="translate(1130.8 879.8) rotate(-90) scale(0.945 1)" font-family="'Liberation Sans', sans-serif" font-size="28.1" fill="#12106a" stroke="#12106a" stroke-width="0.35">898</text>
<text transform="translate(1177.2 793.5) rotate(90) scale(0.945 1)" font-family="'Liberation Sans', sans-serif" font-size="28.1" fill="#12106a" stroke="#12106a" stroke-width="0.35">664</text>
<text transform="translate(1209.2 793.5) rotate(90) scale(0.945 1)" font-family="'Liberation Sans', sans-serif" font-size="28.1" fill="#12106a" stroke="#12106a" stroke-width="0.35">605</text>
<text transform="translate(1238.8 793.5) rotate(90) scale(0.945 1)" font-family="'Liberation Sans', sans-serif" font-size="28.1" fill="#12106a" stroke="#12106a" stroke-width="0.35">522</text>
<line x1="278.4" y1="454.6" x2="278.4" y2="504.3" stroke="#000" stroke-width="2" />
<line x1="383.6" y1="398.0" x2="383.6" y2="470.4" stroke="#000" stroke-width="2" />
<line x1="432.9" y1="380.0" x2="432.9" y2="470.4" stroke="#000" stroke-width="2" />
<line x1="453.2" y1="355.0" x2="453.2" y2="386.0" stroke="#000" stroke-width="2" />
<line x1="865.9" y1="459.0" x2="865.9" y2="476.0" stroke="#000" stroke-width="2" />
<line x1="904.3" y1="426.4" x2="904.3" y2="477.0" stroke="#000" stroke-width="2" />
<line x1="935.3" y1="385.0" x2="936.8" y2="476.0" stroke="#000" stroke-width="2" />
<line x1="1006.0" y1="354.0" x2="1007.3" y2="420.0" stroke="#000" stroke-width="2" />
<line x1="1030.8" y1="295.2" x2="1030.8" y2="354.4" stroke="#000" stroke-width="2" />
<line x1="1059.9" y1="292.8" x2="1059.9" y2="353.0" stroke="#000" stroke-width="2" />
<line x1="1076.9" y1="268.0" x2="1076.9" y2="421.0" stroke="#000" stroke-width="2" />
<line x1="1097.3" y1="211.5" x2="1110.9" y2="260.7" stroke="#000" stroke-width="2" />
<line x1="1112.1" y1="191.7" x2="1134.3" y2="260.7" stroke="#000" stroke-width="2" />
<line x1="1133.0" y1="193.0" x2="1159.7" y2="262.0" stroke="#000" stroke-width="2" />
<line x1="1207.7" y1="263.2" x2="1207.7" y2="285.4" stroke="#000" stroke-width="2" />
<line x1="266.5" y1="955.0" x2="266.5" y2="985.0" stroke="#000" stroke-width="2" />
<line x1="374.1" y1="888.3" x2="372.6" y2="966.7" stroke="#000" stroke-width="2" />
<line x1="436.5" y1="877.5" x2="437.7" y2="966.0" stroke="#000" stroke-width="2" />
<line x1="452.7" y1="884.7" x2="454.5" y2="908.2" stroke="#000" stroke-width="2" />
<line x1="866.6" y1="897.0" x2="866.6" y2="930.5" stroke="#000" stroke-width="2" />
<line x1="886.0" y1="841.0" x2="897.7" y2="933.0" stroke="#000" stroke-width="2" />
<line x1="941.7" y1="822.4" x2="926.3" y2="900.7" stroke="#000" stroke-width="2" />
<line x1="960.0" y1="853.4" x2="960.0" y2="898.2" stroke="#000" stroke-width="2" />
<line x1="979.0" y1="812.4" x2="979.0" y2="967.0" stroke="#000" stroke-width="2" />
<line x1="1034.3" y1="905.0" x2="1034.3" y2="967.0" stroke="#000" stroke-width="2" />
<line x1="1059.6" y1="937.7" x2="1061.9" y2="967.0" stroke="#000" stroke-width="2" />
<line x1="1080.4" y1="928.6" x2="1095.8" y2="967.0" stroke="#000" stroke-width="2" />
<line x1="1120.7" y1="740.5" x2="1120.7" y2="836.7" stroke="#000" stroke-width="2" />
<line x1="1199.1" y1="709.7" x2="1189.7" y2="793.5" stroke="#000" stroke-width="2" />
<line x1="1220.5" y1="720.8" x2="1220.5" y2="793.5" stroke="#000" stroke-width="2" />
<line x1="1248.4" y1="670.3" x2="1248.4" y2="793.5" stroke="#000" stroke-width="2" />
<text transform="translate(647.5 29.5) scale(0.82 1)" font-family="'Liberation Sans', sans-serif" font-size="47" text-anchor="middle">a</text>
<text x="731" y="1149.2" font-family="'Liberation Serif', serif" font-size="37" text-anchor="middle">Wavenumber (cm<tspan font-size="24" dy="-14">-1</tspan><tspan dy="14">)</tspan></text>
<text x="28.9" y="561.0" font-family="'Liberation Serif', serif" font-size="37" font-weight="normal" fill="#000" text-anchor="middle" transform="rotate(-90 28.9 561.0)" >Transmitance (%)</text>
<clipPath id="cb"><rect x="112.2" y="1272.5" width="1187" height="955"/></clipPath><g clip-path="url(#cb)">
<path d="M112.5,1325.2 L113.2,1326.7 L114.1,1324.9 L115.2,1323.0 L116.5,1322.1 L117.7,1324.4 L119.0,1323.5 L120.1,1322.7 L121.4,1326.1 L122.6,1327.5 L123.9,1329.2 L125.1,1327.2 L126.4,1328.6 L127.6,1329.1 L128.9,1326.4 L130.2,1329.3 L131.5,1329.7 L132.8,1333.9 L134.0,1331.1 L135.1,1329.9 L135.9,1332.8 L136.6,1332.5 L137.2,1334.8 L137.9,1334.0 L138.5,1335.7 L139.1,1338.6 L139.8,1339.4 L140.4,1338.7 L141.3,1335.6 L142.1,1336.7 L142.9,1335.3 L143.8,1335.1 L144.7,1333.3 L145.7,1334.1 L146.8,1332.3 L148.0,1332.5 L149.2,1334.0 L150.5,1331.4 L151.8,1332.2 L153.2,1332.4 L154.4,1337.4 L155.7,1335.0 L157.1,1335.5 L158.4,1335.5 L159.8,1333.6 L161.1,1330.3 L162.3,1334.0 L163.6,1332.5 L164.9,1334.1 L166.2,1330.4 L167.4,1330.7 L168.6,1333.9 L169.8,1335.1 L171.1,1329.7 L172.4,1327.3 L173.6,1328.6 L174.9,1330.1 L176.1,1329.1 L177.3,1328.7 L178.6,1325.7 L179.9,1327.4 L181.1,1328.8 L182.3,1326.2 L183.4,1323.5 L184.3,1324.4 L185.3,1328.3 L186.2,1325.4 L187.1,1328.5 L187.9,1328.6 L188.6,1331.3 L189.0,1332.6 L189.4,1334.5 L189.8,1339.2 L190.1,1339.7 L190.4,1342.6 L190.7,1341.6 L191.0,1341.2 L191.3,1343.2 L191.7,1337.5 L192.2,1340.8 L192.6,1341.6 L193.1,1338.1 L193.6,1339.1 L194.2,1336.4 L194.7,1330.7 L195.4,1332.4 L196.1,1331.0 L196.9,1330.7 L197.7,1330.8 L198.6,1333.1 L199.5,1331.1 L200.5,1329.6 L201.5,1329.5 L202.5,1324.7 L203.6,1328.8 L204.8,1325.2 L206.0,1326.7 L207.2,1323.8 L208.4,1322.9 L209.5,1323.5 L210.5,1328.1 L211.9,1326.9 L213.2,1323.7 L214.4,1323.1 L215.4,1321.3 L216.5,1323.1 L217.3,1323.2 L218.1,1326.4 L218.8,1324.1 L219.5,1326.1 L220.3,1326.6 L221.0,1327.9 L221.6,1331.8 L222.1,1332.7 L222.7,1334.8 L223.3,1337.5 L223.9,1339.2 L224.5,1335.5 L225.0,1338.7 L225.6,1335.9 L226.4,1339.0 L227.1,1344.6 L227.9,1342.9 L228.6,1342.5 L229.4,1344.1 L230.1,1345.3 L230.6,1346.3 L231.1,1345.8 L231.5,1350.1 L232.0,1352.1 L232.5,1351.4 L233.0,1353.1 L233.5,1355.1 L234.0,1357.3 L234.6,1357.5 L235.3,1358.8 L236.0,1358.0 L236.7,1356.6 L237.5,1357.7 L238.3,1361.7 L239.1,1363.6 L239.8,1363.3 L240.6,1362.6 L241.2,1364.6 L241.7,1368.7 L242.3,1370.2 L242.9,1367.5 L243.5,1368.6 L244.0,1366.9 L244.6,1367.8 L245.1,1371.4 L245.7,1373.1 L246.2,1376.2 L246.7,1378.6 L247.3,1379.4 L247.9,1381.5 L248.5,1379.2 L249.0,1377.9 L249.6,1381.4 L250.1,1386.0 L250.6,1385.1 L251.2,1383.4 L251.8,1385.5 L252.3,1388.6 L252.8,1387.0 L253.4,1389.7 L253.9,1389.4 L254.5,1392.6 L255.1,1393.8 L255.7,1394.4 L256.2,1397.5 L256.8,1395.8 L257.4,1395.5 L258.0,1399.5 L258.6,1397.8 L259.2,1402.1 L259.8,1401.3 L260.4,1400.3 L261.1,1402.3 L261.7,1404.0 L262.1,1405.2 L262.6,1405.7 L263.0,1408.2 L263.4,1405.1 L263.8,1407.0 L264.3,1408.8 L264.7,1413.0 L265.2,1409.9 L265.6,1411.9 L266.1,1412.2 L266.5,1413.8 L267.0,1417.1 L267.5,1418.8 L268.0,1421.7 L268.5,1421.5 L268.8,1422.2 L269.1,1423.5 L269.4,1424.5 L269.7,1425.1 L270.1,1426.5 L270.4,1427.0 L270.7,1429.0 L271.0,1429.8 L271.3,1430.7 L271.7,1432.0 L272.0,1433.5 L272.3,1435.1 L272.7,1435.8 L273.0,1436.7 L273.3,1438.2 L273.7,1439.0 L274.1,1439.7 L274.4,1441.8 L274.8,1442.8 L275.2,1444.6 L275.6,1445.1 L276.0,1445.3 L276.4,1447.4 L276.8,1448.8 L277.2,1450.5 L277.7,1451.5 L278.1,1452.5 L278.6,1453.7 L279.1,1454.6 L279.6,1455.8 L280.2,1456.4 L280.7,1458.1 L281.2,1458.9 L281.7,1460.1 L282.3,1461.7 L282.8,1463.0 L283.4,1463.5 L283.9,1465.5 L284.5,1465.9 L285.1,1467.3 L285.7,1468.6 L286.3,1469.4 L286.9,1470.3 L287.5,1472.0 L288.1,1472.8 L288.7,1473.6 L289.3,1473.7 L289.9,1474.7 L290.6,1476.6 L291.4,1477.6 L292.1,1478.1 L292.9,1479.1 L293.6,1480.3 L294.4,1481.7 L295.2,1482.7 L296.0,1483.9 L296.8,1484.3 L297.6,1485.7 L298.4,1486.2 L299.2,1487.1 L300.0,1488.8 L300.9,1489.3 L301.7,1490.0 L302.5,1490.7 L303.3,1491.5 L304.1,1493.1 L304.9,1494.1 L305.7,1494.7 L306.6,1495.4 L307.6,1496.6 L308.5,1497.2 L309.4,1498.2 L310.3,1499.1 L311.3,1499.8 L312.2,1501.2 L313.1,1502.3 L314.1,1503.0 L315.0,1502.6 L315.9,1504.4 L316.8,1505.1 L317.8,1505.4 L318.7,1506.1 L319.6,1507.3 L320.6,1508.3 L321.5,1508.9 L322.5,1509.4 L323.5,1510.1 L324.5,1511.1 L325.6,1511.7 L326.6,1512.0 L327.7,1512.8 L328.7,1513.7 L329.8,1514.7 L330.8,1516.3 L331.8,1515.8 L332.8,1516.8 L333.8,1517.4 L334.7,1518.1 L335.6,1519.1 L336.5,1519.7 L337.4,1519.7 L338.8,1520.1 L340.1,1520.4 L341.3,1521.4 L342.4,1522.6 L343.6,1522.6 L344.7,1523.2 L345.8,1523.4 L347.1,1523.2 L348.4,1523.2 L349.3,1522.6 L350.3,1521.7 L351.2,1521.0 L352.2,1521.1 L353.2,1520.2 L354.2,1519.5 L355.2,1519.1 L356.3,1517.8 L357.3,1517.8 L358.4,1516.9 L359.5,1515.5 L360.5,1514.5 L361.6,1514.3 L362.7,1512.9 L363.6,1512.2 L364.6,1511.8 L365.6,1511.3 L366.5,1510.6 L367.5,1510.1 L368.5,1509.2 L369.5,1508.5 L370.5,1508.4 L371.5,1507.7 L372.5,1506.5 L373.5,1506.5 L374.5,1504.6 L375.5,1504.2 L376.5,1503.9 L377.5,1503.3 L378.5,1502.3 L379.4,1501.2 L380.4,1500.7 L381.3,1499.6 L382.3,1498.9 L383.2,1496.7 L384.2,1496.6 L385.2,1495.5 L386.1,1495.1 L387.1,1494.3 L388.0,1493.4 L389.0,1492.1 L389.9,1491.4 L390.8,1490.4 L391.7,1489.7 L392.6,1489.0 L393.5,1488.1 L394.3,1488.5 L395.7,1487.7 L397.1,1486.1 L398.4,1486.6 L399.8,1485.9 L401.0,1486.0 L402.3,1486.0 L403.5,1486.1 L404.7,1486.4 L405.9,1486.3 L407.0,1485.7 L408.4,1485.9 L409.7,1486.0 L410.9,1486.5 L412.2,1485.8 L413.3,1485.1 L414.4,1485.0 L415.5,1485.2 L416.5,1484.4 L417.7,1483.8 L418.8,1483.6 L419.7,1482.8 L420.7,1482.1 L421.6,1480.9 L422.6,1479.7 L423.4,1479.0 L424.1,1478.1 L424.9,1477.1 L425.6,1476.3 L426.4,1475.3 L427.3,1474.3 L428.2,1473.3 L429.1,1471.8 L430.0,1470.6 L430.9,1470.3 L431.8,1469.3 L432.8,1468.4 L433.8,1467.0 L434.9,1466.4 L436.0,1465.7 L437.2,1465.1 L438.4,1465.0 L439.4,1464.7 L440.4,1465.3 L441.5,1466.1 L442.7,1465.9 L443.8,1466.4 L445.0,1466.5 L446.2,1467.6 L447.4,1468.9 L448.6,1468.5 L449.8,1469.3 L450.9,1470.7 L452.0,1471.3 L452.9,1471.9 L453.7,1471.8 L454.6,1473.3 L455.5,1474.9 L456.4,1476.5 L457.3,1477.5 L458.1,1478.1 L459.0,1479.0 L459.8,1479.6 L460.6,1480.8 L461.4,1482.6 L462.2,1483.3 L463.0,1483.4 L463.7,1484.7 L464.4,1484.1 L465.4,1484.8 L466.2,1483.9 L467.0,1483.1 L467.8,1482.0 L468.5,1480.6 L469.2,1479.5 L469.9,1477.7 L470.6,1476.3 L471.4,1475.1 L472.3,1474.2 L473.4,1474.3 L474.5,1475.3 L475.7,1476.1 L476.9,1477.1 L478.1,1478.6 L479.3,1478.8 L480.5,1479.1 L481.6,1478.6 L482.5,1478.7 L483.4,1479.2 L484.3,1478.2 L485.0,1476.9 L485.7,1475.8 L486.3,1473.7 L487.0,1472.4 L487.6,1470.7 L488.2,1468.8 L488.6,1468.8 L488.9,1468.2 L489.2,1466.8 L489.5,1465.7 L489.8,1464.0 L490.1,1463.1 L490.4,1462.1 L490.7,1461.2 L491.0,1460.0 L491.4,1458.4 L491.8,1456.7 L492.2,1455.1 L492.7,1453.8 L493.2,1453.2 L493.6,1452.2 L494.1,1451.0 L494.6,1450.5 L495.1,1449.2 L495.6,1447.9 L496.2,1446.6 L496.8,1445.6 L497.4,1444.1 L498.0,1442.9 L498.7,1442.3 L499.4,1441.1 L500.1,1440.1 L500.9,1439.7 L501.7,1438.4 L502.5,1438.0 L503.2,1436.8 L504.1,1436.4 L504.9,1435.4 L505.8,1433.6 L506.7,1433.6 L507.7,1432.6 L508.6,1431.0 L509.6,1430.7 L510.6,1430.2 L511.6,1428.9 L512.6,1428.2 L513.6,1427.9 L514.6,1427.6 L515.6,1426.9 L516.6,1426.2 L517.6,1425.4 L518.5,1423.2 L519.5,1422.7 L520.4,1422.3 L521.4,1420.6 L522.3,1420.9 L523.3,1420.5 L524.2,1419.3 L525.2,1418.5 L526.2,1417.5 L527.2,1417.1 L528.2,1416.4 L529.2,1415.7 L530.2,1414.5 L531.2,1414.2 L532.3,1413.3 L533.4,1413.0 L534.5,1412.1 L535.6,1410.6 L536.5,1409.7 L537.5,1409.6 L538.5,1408.9 L539.4,1408.6 L540.4,1408.1 L541.5,1407.2 L542.5,1405.8 L543.5,1405.1 L544.6,1405.0 L545.6,1403.9 L546.7,1404.0 L547.7,1403.1 L548.8,1402.5 L549.9,1401.4 L550.9,1400.8 L552.0,1399.1 L553.1,1399.1 L554.1,1399.0 L555.2,1398.0 L556.2,1397.2 L557.3,1396.8 L558.3,1396.4 L559.4,1395.4 L560.5,1395.3 L561.5,1393.9 L562.6,1394.1 L563.7,1392.8 L564.8,1392.2 L565.8,1392.5 L566.9,1391.3 L568.0,1390.3 L569.1,1390.2 L570.1,1389.4 L571.2,1388.7 L572.3,1388.2 L573.4,1387.7 L574.4,1387.0 L575.5,1386.4 L576.6,1386.8 L577.7,1385.7 L578.7,1385.6 L579.8,1384.2 L580.9,1384.1 L582.0,1382.9 L583.1,1382.4 L584.2,1382.2 L585.3,1381.3 L586.4,1380.0 L587.5,1379.7 L588.6,1379.3 L589.7,1379.0 L590.8,1377.9 L591.9,1377.4 L593.0,1376.9 L594.1,1375.6 L595.2,1375.4 L596.3,1374.6 L597.4,1374.3 L598.4,1373.6 L599.5,1372.9 L600.5,1371.4 L601.5,1371.3 L602.5,1370.8 L603.5,1369.9 L604.6,1369.3 L605.7,1368.3 L606.8,1368.0 L607.8,1367.6 L608.8,1366.9 L609.8,1365.8 L610.8,1365.7 L611.8,1364.9 L612.8,1363.4 L613.7,1362.7 L614.7,1361.4 L615.7,1361.0 L616.6,1360.8 L617.6,1360.4 L618.6,1359.1 L619.6,1357.7 L620.6,1357.3 L621.6,1357.3 L622.6,1356.4 L623.6,1356.0 L624.7,1355.2 L625.8,1354.6 L626.9,1353.5 L628.0,1352.0 L629.2,1351.4 L630.3,1351.4 L631.4,1349.7 L632.5,1348.1 L633.6,1348.6 L634.7,1347.7 L635.7,1346.5 L636.7,1345.8 L637.6,1344.8 L638.5,1345.1 L639.3,1344.8 L640.1,1344.3 L640.8,1344.2 L642.0,1344.2 L643.0,1345.3 L643.7,1345.8 L644.3,1347.4 L644.7,1348.0 L645.1,1349.3 L645.5,1350.9 L645.9,1352.6 L646.4,1354.5 L646.7,1355.9 L647.0,1357.3 L647.3,1357.8 L647.6,1359.9 L647.8,1361.1 L648.1,1363.1 L648.4,1364.2 L648.6,1365.3 L648.9,1367.3 L649.2,1368.9 L649.4,1369.9 L649.7,1371.2 L649.9,1372.4 L650.2,1373.5 L650.5,1373.5 L650.7,1374.0 L651.0,1374.8 L651.4,1375.0 L651.8,1374.2 L652.1,1372.6 L652.5,1372.3 L652.9,1370.4 L653.3,1368.3 L653.6,1367.4 L654.0,1365.8 L654.4,1364.1 L654.8,1362.7 L655.1,1361.4 L655.5,1360.1 L656.6,1360.0 L657.7,1361.5 L658.8,1363.3 L660.0,1363.9 L660.8,1363.1 L661.7,1362.6 L662.5,1362.1 L663.4,1361.2 L664.5,1359.6 L665.6,1357.1 L666.0,1356.4 L666.4,1356.2 L666.8,1355.3 L667.3,1354.4 L667.7,1352.4 L668.2,1351.4 L668.6,1350.7 L669.1,1348.5 L669.6,1347.2 L670.1,1345.6 L670.6,1345.3 L671.1,1343.9 L671.6,1342.4 L672.1,1341.3 L672.7,1340.1 L673.2,1339.4 L673.7,1338.7 L674.2,1337.8 L674.7,1336.8 L675.8,1335.7 L676.8,1334.8 L677.8,1334.4 L678.9,1332.8 L680.0,1333.0 L681.1,1332.9 L682.3,1332.7 L683.5,1332.3 L684.9,1331.9 L685.9,1331.8 L686.9,1331.5 L688.0,1331.1 L689.0,1330.3 L690.2,1329.7 L691.3,1329.5 L692.5,1328.8 L693.7,1328.9 L694.9,1328.5 L696.1,1327.8 L697.4,1327.2 L698.7,1327.4 L700.0,1327.1 L701.0,1328.8 L702.1,1328.1 L703.2,1326.1 L704.3,1325.4 L705.5,1324.3 L706.7,1323.9 L707.9,1323.7 L709.1,1323.6 L710.3,1322.8 L711.5,1323.4 L712.6,1323.2 L713.8,1324.0 L715.0,1321.3 L716.1,1321.8 L717.3,1321.0 L718.3,1319.6 L719.4,1320.1 L720.7,1319.2 L722.0,1320.4 L723.2,1323.4 L724.4,1323.5 L725.5,1324.2 L726.7,1324.3 L727.8,1322.3 L729.0,1323.6 L730.1,1324.1 L731.3,1324.9 L732.6,1324.1 L733.8,1323.2 L735.2,1326.5 L736.4,1326.9 L737.6,1326.4 L738.8,1325.7 L740.1,1326.1 L741.5,1325.1 L742.8,1326.7 L744.2,1326.6 L745.5,1326.4 L746.9,1326.1 L748.3,1326.2 L749.6,1326.4 L750.9,1326.0 L752.1,1326.9 L753.3,1326.4 L754.5,1325.8 L755.6,1324.7 L756.8,1325.7 L757.9,1325.7 L759.0,1324.6 L760.0,1321.6 L761.0,1321.2 L762.0,1321.5 L762.9,1320.2 L763.8,1320.1 L764.7,1318.1 L765.6,1317.8 L766.5,1316.9 L767.3,1313.6 L768.2,1313.7 L769.1,1313.6 L770.5,1312.7 L771.8,1311.8 L773.0,1313.4 L774.3,1312.3 L775.5,1312.5 L776.7,1310.7 L777.9,1309.2 L779.2,1309.9 L780.4,1310.7 L781.6,1309.7 L782.8,1310.2 L783.9,1310.3 L785.0,1309.0 L786.2,1308.6 L787.4,1307.7 L788.7,1308.7 L790.1,1309.4 L791.7,1308.3 L792.7,1307.0 L793.8,1306.3 L794.8,1306.3 L796.0,1307.2 L797.1,1306.0 L798.3,1307.3 L799.6,1305.4 L800.8,1305.7 L802.1,1306.8 L803.3,1307.5 L804.6,1305.8 L805.9,1306.1 L807.2,1307.6 L808.5,1306.9 L809.8,1303.8 L811.0,1304.7 L812.1,1306.7 L813.4,1304.4 L814.6,1305.2 L815.8,1302.9 L817.1,1305.1 L818.4,1303.8 L819.7,1304.7 L820.9,1305.0 L822.2,1302.0 L823.4,1302.0 L824.6,1303.5 L825.8,1302.4 L827.0,1303.3 L828.1,1302.8 L829.2,1304.6 L830.2,1303.7 L831.7,1303.2 L833.1,1304.4 L834.4,1305.5 L835.7,1304.9 L836.9,1305.2 L838.1,1305.7 L839.2,1305.3 L840.4,1304.8 L841.5,1306.4 L842.6,1306.5 L843.7,1306.0 L844.8,1308.1 L845.9,1308.8 L847.0,1309.2 L848.1,1309.0 L849.2,1309.8 L850.2,1311.2 L851.2,1312.1 L852.2,1311.8 L853.2,1312.3 L854.1,1314.1 L855.0,1315.3 L855.7,1316.8 L856.3,1316.3 L857.0,1318.5 L857.6,1320.6 L858.2,1321.4 L858.7,1321.7 L859.3,1323.2 L859.8,1322.6 L860.4,1324.1 L860.9,1326.4 L861.4,1326.6 L861.9,1327.7 L862.4,1329.8 L862.9,1330.8 L863.3,1331.7 L863.6,1332.5 L863.9,1334.6 L864.3,1335.1 L864.6,1336.2 L864.9,1336.6 L865.2,1338.6 L865.5,1339.7 L865.8,1341.1 L866.1,1342.7 L866.4,1343.6 L866.7,1344.1 L867.0,1345.2 L867.2,1346.8 L867.5,1348.7 L867.8,1349.3 L868.1,1350.7 L868.3,1352.1 L868.6,1353.8 L868.8,1354.4 L869.0,1355.8 L869.2,1357.2 L869.4,1358.1 L869.6,1359.1 L869.8,1360.4 L870.0,1361.6 L870.2,1363.1 L870.4,1363.4 L870.6,1365.2 L870.7,1366.0 L870.9,1366.7 L871.1,1368.0 L871.3,1369.0 L871.5,1370.6 L871.6,1372.4 L871.8,1372.6 L872.0,1374.0 L872.2,1376.1 L872.4,1377.3 L872.5,1379.0 L872.7,1379.7 L872.9,1381.4 L873.1,1381.9 L873.2,1383.3 L873.4,1385.1 L873.5,1386.6 L873.6,1388.0 L873.8,1388.6 L873.9,1389.1 L874.0,1390.3 L874.2,1390.8 L874.3,1393.0 L874.4,1394.4 L874.6,1394.8 L874.7,1396.8 L874.8,1397.0 L874.9,1398.6 L875.1,1399.4 L875.2,1400.1 L875.3,1402.0 L875.5,1402.8 L875.6,1404.8 L875.7,1405.5 L875.9,1406.9 L876.0,1408.0 L876.1,1409.4 L876.3,1410.5 L876.4,1412.2 L876.5,1413.6 L876.7,1414.7 L876.8,1415.8 L876.9,1417.9 L877.1,1418.4 L877.2,1419.6 L877.3,1421.3 L877.5,1422.5 L877.6,1423.1 L877.7,1424.5 L877.8,1425.7 L877.9,1426.6 L878.0,1428.2 L878.2,1429.0 L878.3,1430.4 L878.4,1431.3 L878.5,1433.5 L878.6,1434.4 L878.7,1435.8 L878.8,1437.0 L878.9,1438.4 L879.1,1439.4 L879.2,1441.0 L879.3,1442.1 L879.4,1442.3 L879.5,1444.3 L879.6,1445.2 L879.7,1447.3 L879.8,1448.5 L880.0,1449.6 L880.1,1449.9 L880.2,1451.1 L880.3,1452.6 L880.4,1454.3 L880.5,1455.4 L880.6,1457.9 L880.7,1458.9 L880.9,1459.9 L881.0,1460.7 L881.1,1462.0 L881.2,1463.3 L881.3,1464.4 L881.4,1465.7 L881.5,1467.3 L881.6,1467.5 L881.8,1469.1 L881.9,1470.7 L882.0,1471.0 L882.1,1472.3 L882.2,1473.3 L882.4,1474.5 L882.5,1476.7 L882.7,1477.9 L882.8,1479.8 L883.0,1481.1 L883.2,1482.2 L883.3,1483.7 L883.5,1484.9 L883.6,1485.7 L883.8,1488.0 L883.9,1489.3 L884.1,1490.9 L884.2,1491.1 L884.4,1493.1 L884.5,1494.5 L884.7,1495.4 L884.9,1495.7 L885.0,1497.4 L885.2,1498.4 L885.3,1499.6 L885.5,1500.8 L885.7,1501.5 L885.8,1502.7 L886.0,1503.8 L886.2,1505.4 L886.3,1505.9 L886.5,1507.5 L886.7,1507.3 L887.2,1509.5 L887.8,1512.0 L888.3,1512.9 L888.9,1515.0 L889.5,1516.5 L890.1,1517.2 L890.7,1518.0 L891.2,1519.2 L891.8,1518.9 L892.3,1518.8 L892.6,1518.6 L893.0,1518.5 L893.3,1516.7 L893.6,1515.8 L893.9,1515.0 L894.2,1514.4 L894.5,1513.8 L894.8,1512.8 L895.1,1511.1 L895.4,1510.2 L895.7,1508.2 L896.0,1506.6 L896.3,1504.3 L896.6,1502.9 L896.9,1500.4 L897.0,1500.1 L897.2,1499.2 L897.3,1498.7 L897.4,1496.9 L897.5,1495.2 L897.7,1494.7 L897.8,1493.5 L897.9,1491.9 L898.1,1490.2 L898.2,1489.6 L898.3,1487.5 L898.4,1486.4 L898.6,1485.8 L898.7,1484.1 L898.8,1482.9 L899.0,1481.6 L899.1,1480.3 L899.2,1479.1 L899.4,1477.6 L899.5,1475.8 L899.6,1473.9 L899.7,1472.7 L899.9,1471.3 L900.0,1470.4 L900.1,1469.5 L900.2,1468.3 L900.4,1466.4 L900.5,1465.4 L900.6,1464.2 L900.7,1462.9 L900.8,1462.5 L900.9,1461.4 L901.1,1460.4 L901.2,1458.8 L901.3,1457.2 L901.4,1456.9 L901.9,1454.9 L902.3,1452.5 L902.7,1450.9 L903.1,1449.7 L903.5,1449.3 L903.9,1448.8 L904.3,1449.3 L904.8,1448.8 L905.3,1448.7 L905.8,1449.6 L906.4,1450.2 L907.0,1451.1 L907.6,1452.3 L908.1,1453.6 L908.7,1455.5 L909.3,1457.9 L909.5,1458.6 L909.7,1458.6 L909.9,1460.6 L910.0,1461.2 L910.2,1462.1 L910.4,1463.2 L910.6,1464.3 L910.8,1465.3 L911.0,1466.8 L911.2,1468.6 L911.4,1469.6 L911.5,1471.1 L911.7,1471.7 L911.9,1473.7 L912.1,1474.5 L912.3,1476.4 L912.5,1477.4 L912.7,1478.7 L912.9,1479.8 L913.0,1481.0 L913.2,1482.7 L913.4,1483.9 L913.6,1485.5 L913.8,1487.4 L914.0,1488.0 L914.1,1489.2 L914.3,1490.5 L914.5,1491.6 L914.6,1493.0 L914.8,1494.5 L915.0,1496.1 L915.1,1496.9 L915.3,1498.2 L915.4,1499.5 L915.6,1501.3 L915.7,1502.0 L915.9,1503.5 L916.1,1505.1 L916.2,1506.4 L916.4,1507.2 L916.6,1508.1 L916.7,1508.9 L916.9,1510.5 L917.1,1511.9 L917.3,1512.7 L917.5,1514.6 L917.7,1515.7 L917.9,1516.6 L918.1,1517.5 L918.3,1518.8 L918.7,1520.2 L919.0,1522.1 L919.4,1523.4 L919.8,1525.5 L920.3,1526.2 L920.7,1527.6 L921.1,1530.2 L921.6,1531.6 L922.0,1533.2 L922.4,1533.5 L922.9,1534.9 L923.3,1536.1 L923.8,1537.0 L924.2,1537.2 L924.7,1538.2 L925.1,1538.3 L925.7,1537.7 L926.4,1538.6 L927.0,1537.6 L927.7,1537.0 L928.3,1535.3 L929.0,1533.7 L929.6,1532.8 L930.2,1531.4 L930.8,1529.1 L931.4,1527.4 L931.9,1525.0 L932.1,1523.6 L932.4,1523.8 L932.6,1522.4 L932.8,1522.0 L933.0,1521.4 L933.2,1520.2 L933.4,1519.6 L933.6,1518.3 L933.8,1517.1 L933.9,1515.8 L934.1,1514.8 L934.3,1513.6 L934.5,1511.9 L934.6,1510.9 L934.8,1509.5 L935.0,1509.4 L935.2,1507.9 L935.3,1505.6 L935.5,1504.4 L935.7,1502.0 L935.9,1500.9 L936.0,1500.1 L936.2,1498.1 L936.4,1496.7 L936.5,1495.2 L936.6,1494.4 L936.7,1493.3 L936.8,1491.3 L936.9,1490.3 L937.0,1490.3 L937.1,1488.5 L937.2,1487.8 L937.3,1487.0 L937.4,1485.1 L937.5,1484.1 L937.6,1482.6 L937.7,1480.8 L937.8,1479.8 L937.9,1478.5 L938.0,1476.6 L938.1,1475.2 L938.2,1473.5 L938.3,1472.4 L938.4,1471.2 L938.5,1469.5 L938.6,1467.6 L938.7,1467.1 L938.8,1466.2 L938.9,1464.2 L939.0,1462.9 L939.1,1461.3 L939.2,1459.2 L939.3,1459.4 L939.4,1457.9 L939.5,1455.9 L939.6,1455.4 L939.7,1454.2 L939.8,1453.3 L939.9,1452.0 L940.0,1450.7 L940.1,1449.9 L940.2,1448.3 L940.3,1447.2 L940.4,1445.7 L940.5,1444.6 L940.6,1444.1 L940.7,1443.4 L940.8,1442.0 L940.9,1441.7 L941.4,1439.2 L941.8,1436.1 L942.3,1434.4 L942.7,1433.9 L943.2,1432.2 L943.7,1431.8 L944.1,1431.6 L944.6,1431.1 L945.0,1430.8 L945.5,1430.8 L946.3,1430.7 L947.0,1431.3 L947.8,1431.8 L948.5,1433.8 L949.3,1435.2 L950.0,1437.8 L950.4,1439.3 L950.8,1440.2 L951.2,1440.0 L951.5,1441.9 L951.9,1443.1 L952.3,1444.0 L952.7,1445.1 L953.1,1447.2 L953.5,1448.2 L954.0,1449.5 L954.5,1450.9 L955.0,1452.3 L955.5,1452.1 L956.1,1454.1 L956.7,1454.6 L957.3,1455.6 L957.9,1457.0 L958.5,1458.0 L959.1,1458.1 L959.7,1460.0 L960.3,1461.3 L960.8,1462.4 L961.3,1464.0 L961.6,1464.6 L961.8,1466.5 L962.0,1468.1 L962.3,1468.7 L962.5,1469.8 L962.7,1470.7 L962.9,1472.2 L963.1,1473.5 L963.3,1475.3 L963.5,1477.5 L963.7,1478.9 L963.9,1480.3 L964.1,1480.9 L964.3,1482.7 L964.4,1483.6 L964.6,1484.7 L964.8,1486.5 L965.0,1487.6 L965.2,1489.7 L965.4,1490.2 L965.6,1490.8 L965.8,1491.9 L966.3,1493.4 L966.9,1495.8 L967.4,1498.0 L967.9,1498.8 L968.4,1499.5 L969.0,1500.8 L969.6,1500.4 L970.3,1500.6 L970.8,1500.1 L971.3,1500.0 L971.9,1499.0 L972.5,1498.7 L973.1,1497.9 L973.7,1497.4 L974.3,1495.5 L974.9,1494.3 L975.5,1491.9 L976.1,1490.3 L976.6,1488.9 L977.1,1486.4 L977.3,1485.9 L977.5,1484.8 L977.6,1484.3 L977.8,1483.4 L978.0,1482.0 L978.1,1481.2 L978.3,1479.6 L978.4,1478.5 L978.6,1477.5 L978.7,1476.3 L978.9,1475.0 L979.0,1474.1 L979.1,1472.0 L979.3,1470.5 L979.4,1468.5 L979.6,1467.9 L979.7,1466.1 L979.8,1464.7 L980.0,1463.4 L980.1,1462.5 L980.2,1461.0 L980.4,1459.7 L980.5,1458.5 L980.7,1457.2 L980.8,1456.1 L981.0,1454.6 L981.1,1453.5 L981.3,1452.2 L981.4,1452.0 L981.6,1451.3 L981.9,1449.5 L982.3,1447.6 L982.7,1445.5 L983.0,1444.2 L983.4,1441.9 L983.8,1439.8 L984.2,1438.7 L984.6,1438.5 L985.0,1437.3 L985.4,1436.7 L985.8,1435.0 L986.2,1434.6 L986.6,1434.4 L986.9,1433.8 L987.3,1433.1 L987.8,1433.4 L988.3,1433.5 L988.8,1435.3 L989.3,1435.9 L989.7,1437.4 L990.2,1439.4 L990.7,1440.8 L991.2,1443.1 L991.8,1444.1 L992.4,1444.0 L993.2,1444.7 L994.2,1444.5 L995.1,1443.2 L996.2,1442.8 L997.2,1441.7 L998.1,1439.7 L999.1,1437.9 L999.9,1436.7 L1000.3,1436.2 L1000.7,1435.5 L1001.0,1434.6 L1001.4,1432.7 L1001.7,1430.7 L1002.0,1429.3 L1002.3,1429.2 L1002.6,1428.2 L1002.9,1427.0 L1003.2,1425.3 L1003.5,1423.9 L1003.9,1422.8 L1004.2,1421.7 L1004.5,1420.4 L1004.9,1418.9 L1005.4,1417.2 L1005.8,1416.3 L1006.3,1414.9 L1006.8,1414.1 L1007.3,1411.9 L1007.8,1409.9 L1008.3,1408.5 L1008.8,1408.0 L1009.3,1407.9 L1009.9,1406.6 L1010.5,1405.6 L1011.1,1405.6 L1012.0,1406.1 L1012.9,1406.8 L1013.9,1407.8 L1014.9,1409.1 L1016.0,1410.0 L1017.0,1411.3 L1018.0,1412.5 L1018.9,1413.8 L1019.8,1412.4 L1020.4,1412.2 L1021.0,1412.0 L1021.6,1411.1 L1022.1,1410.1 L1022.6,1409.0 L1023.1,1407.4 L1023.6,1406.6 L1024.1,1405.6 L1024.6,1403.7 L1025.1,1402.4 L1025.5,1401.2 L1026.0,1399.2 L1026.3,1398.2 L1026.6,1396.6 L1026.9,1396.4 L1027.2,1395.6 L1027.4,1393.7 L1027.7,1393.1 L1027.9,1391.6 L1028.1,1389.1 L1028.4,1388.3 L1028.7,1387.1 L1028.9,1386.0 L1029.2,1384.9 L1029.5,1383.3 L1029.8,1382.7 L1030.2,1381.5 L1030.6,1381.1 L1031.0,1379.6 L1031.8,1377.2 L1032.7,1377.3 L1033.8,1376.1 L1034.8,1374.1 L1036.0,1373.4 L1037.1,1372.6 L1038.1,1372.8 L1039.2,1372.0 L1040.1,1372.4 L1040.9,1371.9 L1041.7,1372.5 L1042.3,1372.4 L1042.9,1372.5 L1043.5,1373.8 L1043.9,1374.6 L1044.4,1376.1 L1044.9,1376.9 L1045.4,1378.9 L1045.9,1381.6 L1046.1,1383.4 L1046.2,1384.0 L1046.4,1384.1 L1046.5,1384.4 L1046.7,1387.2 L1046.8,1388.4 L1047.0,1389.1 L1047.2,1391.2 L1047.3,1392.8 L1047.5,1394.8 L1047.6,1395.8 L1047.8,1396.8 L1047.9,1398.7 L1048.1,1399.5 L1048.2,1401.2 L1048.4,1402.5 L1048.6,1404.1 L1048.7,1405.4 L1048.9,1406.7 L1049.0,1408.2 L1049.2,1410.2 L1049.4,1411.5 L1049.5,1412.7 L1049.7,1414.1 L1049.9,1415.4 L1050.0,1416.3 L1050.2,1417.8 L1050.4,1418.1 L1050.5,1418.6 L1050.7,1418.7 L1050.9,1419.6 L1051.3,1420.3 L1051.7,1418.4 L1052.1,1418.7 L1052.5,1417.1 L1052.9,1416.2 L1053.3,1414.5 L1053.7,1412.2 L1054.1,1410.1 L1054.6,1408.5 L1055.0,1408.0 L1055.4,1405.2 L1055.8,1403.7 L1056.3,1402.6 L1056.7,1401.9 L1057.1,1402.2 L1057.5,1402.8 L1057.9,1402.5 L1058.3,1403.0 L1058.8,1403.4 L1059.2,1404.9 L1059.6,1405.5 L1060.0,1406.8 L1060.4,1407.8 L1060.8,1409.6 L1061.2,1410.8 L1061.6,1411.9 L1062.1,1414.5 L1062.5,1415.1 L1062.9,1417.3 L1063.3,1419.0 L1063.5,1419.7 L1063.7,1421.7 L1063.9,1422.4 L1064.1,1423.0 L1064.3,1423.7 L1064.5,1425.2 L1064.7,1426.3 L1064.9,1427.3 L1065.1,1428.3 L1065.3,1430.3 L1065.5,1431.2 L1065.8,1432.2 L1066.0,1433.0 L1066.2,1434.2 L1066.4,1436.1 L1066.6,1437.0 L1066.8,1438.7 L1067.0,1439.9 L1067.2,1441.3 L1067.4,1442.6 L1067.6,1443.7 L1067.8,1444.9 L1068.0,1446.3 L1068.2,1447.9 L1068.4,1450.0 L1068.6,1451.0 L1068.8,1451.3 L1068.9,1453.6 L1069.1,1454.3 L1069.3,1455.1 L1069.5,1456.5 L1069.7,1457.7 L1069.9,1459.0 L1070.0,1460.2 L1070.2,1461.4 L1070.4,1463.1 L1070.5,1464.7 L1070.7,1465.4 L1070.8,1467.1 L1071.0,1468.2 L1071.2,1469.6 L1071.3,1470.5 L1071.5,1471.6 L1071.6,1473.0 L1071.8,1473.7 L1071.9,1475.1 L1072.1,1475.9 L1072.2,1477.8 L1072.4,1479.0 L1072.5,1480.4 L1072.7,1481.3 L1072.8,1482.2 L1073.0,1484.0 L1073.2,1484.8 L1073.3,1485.9 L1073.5,1487.2 L1073.6,1488.5 L1073.8,1489.6 L1074.0,1490.2 L1074.1,1491.1 L1074.3,1493.0 L1074.5,1493.7 L1074.7,1495.1 L1075.0,1496.3 L1075.2,1498.4 L1075.5,1499.9 L1075.8,1501.1 L1076.0,1502.0 L1076.3,1504.6 L1076.6,1505.6 L1076.8,1506.7 L1077.1,1508.2 L1077.4,1509.4 L1077.7,1511.2 L1077.9,1512.4 L1078.2,1513.4 L1078.5,1515.2 L1078.8,1515.9 L1079.1,1516.4 L1079.3,1518.0 L1079.6,1518.7 L1079.9,1519.2 L1080.2,1519.5 L1080.4,1520.3 L1080.7,1520.8 L1081.2,1521.1 L1081.7,1520.7 L1082.2,1520.6 L1082.7,1519.4 L1083.2,1517.6 L1083.7,1515.9 L1084.2,1513.7 L1084.7,1511.4 L1085.3,1510.4 L1085.8,1509.6 L1086.3,1507.9 L1086.9,1507.2 L1087.8,1507.2 L1088.7,1507.8 L1089.7,1509.8 L1090.7,1511.0 L1091.7,1513.4 L1092.7,1515.1 L1093.6,1515.4 L1094.4,1515.1 L1094.8,1514.3 L1095.2,1514.4 L1095.6,1513.6 L1096.0,1512.2 L1096.4,1511.4 L1096.7,1510.9 L1097.1,1509.7 L1097.4,1508.7 L1097.7,1507.4 L1098.1,1506.4 L1098.4,1504.4 L1098.7,1503.0 L1099.1,1501.3 L1099.4,1499.5 L1099.5,1498.0 L1099.7,1497.2 L1099.8,1497.1 L1100.0,1495.3 L1100.1,1493.9 L1100.3,1492.9 L1100.4,1491.4 L1100.6,1490.2 L1100.7,1489.2 L1100.9,1488.1 L1101.0,1487.4 L1101.2,1485.5 L1101.3,1484.4 L1101.5,1483.4 L1101.6,1481.9 L1101.8,1481.0 L1101.9,1480.4 L1102.1,1478.0 L1102.2,1476.4 L1102.4,1475.1 L1102.5,1473.8 L1102.7,1472.4 L1102.8,1471.5 L1103.0,1470.8 L1103.1,1470.0 L1103.3,1467.9 L1103.4,1465.6 L1103.6,1465.4 L1103.7,1463.9 L1103.9,1462.4 L1104.0,1461.7 L1104.2,1460.2 L1104.3,1458.9 L1104.5,1457.4 L1104.6,1456.7 L1104.8,1455.6 L1105.0,1453.7 L1105.2,1452.3 L1105.3,1451.7 L1105.5,1449.9 L1105.7,1448.6 L1105.8,1447.1 L1106.0,1446.0 L1106.2,1445.2 L1106.4,1443.9 L1106.5,1442.9 L1106.7,1441.7 L1106.9,1439.4 L1107.1,1438.6 L1107.2,1437.6 L1107.4,1435.8 L1107.6,1435.3 L1107.7,1434.1 L1107.9,1432.8 L1108.1,1431.9 L1108.3,1431.1 L1108.4,1430.0 L1108.6,1428.4 L1108.8,1427.3 L1109.0,1427.2 L1109.1,1425.1 L1109.3,1424.2 L1109.5,1422.8 L1109.8,1422.0 L1110.0,1420.5 L1110.2,1419.0 L1110.4,1417.2 L1110.6,1416.9 L1110.8,1415.1 L1111.0,1413.5 L1111.2,1412.3 L1111.5,1411.5 L1111.7,1410.0 L1111.9,1408.8 L1112.1,1408.1 L1112.4,1406.0 L1112.6,1404.9 L1112.9,1404.1 L1113.1,1403.6 L1113.4,1402.7 L1113.7,1401.0 L1114.0,1399.4 L1114.3,1398.8 L1114.9,1397.3 L1115.5,1397.0 L1116.2,1396.1 L1116.9,1394.8 L1117.7,1392.9 L1118.4,1391.6 L1119.2,1391.6 L1120.0,1391.5 L1120.7,1390.6 L1121.5,1389.2 L1122.3,1388.5 L1123.0,1385.6 L1123.5,1386.3 L1124.0,1386.1 L1124.5,1384.4 L1125.0,1383.0 L1125.5,1381.4 L1125.9,1380.8 L1126.4,1378.5 L1126.9,1377.1 L1127.4,1376.4 L1127.9,1374.1 L1128.4,1373.8 L1128.9,1373.0 L1129.4,1371.6 L1129.8,1370.1 L1130.3,1370.5 L1130.8,1368.5 L1131.2,1367.8 L1131.7,1367.6 L1133.0,1365.9 L1134.4,1366.0 L1135.7,1365.4 L1136.9,1365.5 L1138.1,1365.2 L1139.2,1365.0 L1139.8,1363.4 L1140.4,1363.3 L1140.8,1362.5 L1141.3,1360.0 L1141.7,1357.9 L1142.2,1356.5 L1142.7,1355.6 L1143.3,1355.7 L1144.1,1354.7 L1145.0,1355.1 L1146.0,1354.4 L1147.1,1351.3 L1148.2,1350.5 L1149.4,1349.8 L1150.6,1350.5 L1151.8,1349.9 L1153.0,1349.5 L1154.1,1348.1 L1155.3,1349.6 L1156.5,1348.0 L1157.6,1348.5 L1158.7,1348.3 L1159.9,1348.7 L1161.2,1350.2 L1162.5,1350.5 L1164.0,1352.4 L1164.8,1353.1 L1165.6,1353.5 L1166.5,1354.5 L1167.4,1355.6 L1168.3,1356.5 L1169.2,1355.8 L1170.2,1357.4 L1171.1,1358.7 L1172.1,1358.8 L1173.1,1359.4 L1174.1,1361.3 L1175.1,1362.1 L1176.0,1362.6 L1177.0,1364.2 L1178.0,1364.8 L1178.9,1366.1 L1180.0,1365.6 L1181.1,1366.8 L1182.2,1365.6 L1183.3,1366.6 L1184.5,1369.0 L1185.6,1368.4 L1186.7,1369.2 L1187.8,1369.8 L1188.9,1371.0 L1190.0,1372.3 L1191.0,1373.6 L1192.0,1373.3 L1193.0,1374.0 L1193.9,1375.2 L1194.8,1376.4 L1195.7,1376.4 L1196.6,1378.2 L1197.4,1377.6 L1198.2,1379.2 L1198.9,1379.3 L1199.7,1380.6 L1200.4,1381.5 L1201.1,1384.3 L1201.8,1385.9 L1202.5,1386.3 L1203.1,1386.6 L1203.8,1385.7 L1204.9,1386.3 L1205.9,1388.3 L1206.8,1389.8 L1207.8,1390.5 L1208.7,1390.3 L1209.6,1390.8 L1210.4,1392.8 L1211.3,1396.0 L1211.7,1396.3 L1212.0,1396.5 L1212.3,1397.3 L1212.7,1398.9 L1213.0,1400.2 L1213.3,1400.3 L1213.6,1403.5 L1213.9,1404.7 L1214.2,1406.2 L1214.6,1407.0 L1214.9,1409.3 L1215.2,1410.9 L1215.5,1411.1 L1215.8,1413.1 L1216.1,1413.3 L1216.5,1413.2 L1216.8,1415.6 L1217.1,1415.5 L1217.5,1416.1 L1218.4,1416.3 L1219.3,1416.5 L1220.3,1415.5 L1221.2,1414.6 L1222.2,1413.5 L1223.2,1413.1 L1224.1,1411.7 L1225.0,1411.1 L1225.9,1411.4 L1226.8,1412.5 L1227.6,1413.9 L1228.4,1414.8 L1229.2,1414.8 L1230.1,1415.4 L1231.2,1416.6 L1232.2,1416.2 L1233.2,1415.5 L1234.3,1414.6 L1235.5,1413.4 L1236.7,1413.6 L1237.8,1412.9 L1239.0,1410.6 L1240.1,1410.6 L1241.1,1410.5 L1242.2,1410.5 L1243.1,1412.2 L1244.1,1413.2 L1245.0,1414.2 L1245.9,1414.7 L1246.8,1416.7 L1247.7,1417.1 L1248.6,1417.0 L1249.2,1416.0 L1249.8,1416.7 L1250.3,1413.1 L1250.8,1412.5 L1251.3,1411.3 L1251.8,1410.4 L1252.4,1409.5 L1253.0,1408.7 L1253.6,1407.7 L1254.3,1406.8 L1255.1,1406.5 L1256.0,1405.0 L1256.6,1403.8 L1257.3,1402.6 L1257.9,1402.0 L1258.7,1401.5 L1259.4,1399.5 L1260.2,1400.0 L1261.0,1398.2 L1261.8,1397.6 L1262.6,1394.3 L1263.5,1394.4 L1264.3,1393.4 L1265.2,1393.6 L1266.0,1392.8 L1266.9,1391.5 L1267.7,1390.7 L1268.6,1389.2 L1269.4,1387.7 L1270.2,1388.2 L1271.0,1386.2 L1272.2,1385.4 L1273.3,1384.2 L1274.5,1383.6 L1275.7,1383.4 L1276.9,1384.0 L1278.0,1382.6 L1279.2,1383.1 L1280.4,1381.2 L1281.5,1380.9 L1282.6,1380.5 L1283.7,1381.0 L1284.8,1381.2 L1285.9,1378.1 L1286.8,1378.2 L1287.7,1378.8 L1288.6,1377.2 L1289.5,1377.2 L1290.4,1376.1 L1291.3,1374.4 L1292.2,1371.8 L1293.0,1370.7 L1293.9,1371.2 L1294.7,1369.0 L1295.4,1367.4 L1296.1,1366.7 L1296.8,1367.2 L1297.4,1366.0 L1297.9,1364.1 L1298.3,1363.7" fill="none" stroke="#3aaa6b" stroke-width="10.5" stroke-linejoin="round" stroke-linecap="round"/>
<path d="M112.5,1321.0 L113.2,1321.6 L114.1,1322.0 L115.2,1323.0 L116.5,1325.5 L117.7,1322.7 L119.0,1324.4 L120.1,1325.1 L121.4,1325.1 L122.6,1326.7 L123.9,1327.8 L125.1,1332.6 L126.4,1331.0 L127.6,1330.1 L128.9,1331.1 L130.2,1328.2 L131.5,1327.7 L132.8,1329.3 L134.0,1328.3 L135.1,1327.5 L135.9,1328.5 L136.6,1328.4 L137.2,1333.5 L137.9,1336.4 L138.5,1340.5 L139.1,1337.8 L139.8,1337.4 L140.4,1337.4 L141.3,1338.2 L142.1,1336.7 L142.9,1336.4 L143.8,1333.5 L144.7,1329.9 L145.7,1333.4 L146.8,1331.3 L148.0,1333.7 L149.2,1332.5 L150.5,1333.3 L151.8,1330.9 L153.2,1331.3 L154.4,1333.7 L155.7,1334.8 L157.1,1333.8 L158.4,1333.9 L159.8,1330.6 L161.1,1332.4 L162.3,1331.7 L163.6,1330.8 L164.9,1332.6 L166.2,1331.8 L167.4,1330.6 L168.6,1330.7 L169.8,1330.5 L171.1,1330.2 L172.4,1330.3 L173.6,1328.9 L174.9,1330.3 L176.1,1331.4 L177.3,1330.6 L178.6,1327.7 L179.9,1325.8 L181.1,1326.7 L182.3,1325.9 L183.4,1328.6 L184.3,1328.0 L185.3,1328.8 L186.2,1328.1 L187.1,1329.9 L187.9,1329.2 L188.6,1329.3 L189.0,1332.7 L189.4,1332.7 L189.8,1334.5 L190.1,1338.7 L190.4,1342.2 L190.7,1341.8 L191.0,1341.5 L191.3,1343.8 L191.7,1345.0 L192.2,1344.4 L192.6,1341.1 L193.1,1339.5 L193.6,1340.4 L194.2,1336.1 L194.7,1335.6 L195.4,1336.6 L196.1,1336.1 L196.9,1332.5 L197.7,1331.2 L198.6,1330.4 L199.5,1328.1 L200.5,1328.7 L201.5,1327.0 L202.5,1328.4 L203.6,1325.8 L204.8,1325.3 L206.0,1324.9 L207.2,1325.5 L208.4,1321.3 L209.5,1325.3 L210.5,1324.5 L211.9,1324.5 L213.2,1326.1 L214.4,1324.6 L215.4,1324.7 L216.5,1324.7 L217.3,1326.3 L218.1,1327.2 L218.8,1329.0 L219.5,1328.4 L220.3,1327.4 L221.0,1330.1 L221.6,1329.3 L222.1,1331.6 L222.7,1332.7 L223.3,1330.9 L223.9,1334.0 L224.5,1334.8 L225.0,1335.2 L225.6,1335.2 L226.4,1339.6 L227.1,1342.0 L227.9,1340.5 L228.6,1340.7 L229.4,1341.8 L230.1,1342.7 L230.6,1346.2 L231.1,1345.7 L231.5,1349.4 L232.0,1346.1 L232.5,1346.8 L233.0,1352.1 L233.5,1352.8 L234.0,1351.1 L234.6,1358.0 L235.3,1358.7 L236.0,1358.9 L236.7,1354.8 L237.5,1359.5 L238.3,1360.1 L239.1,1360.7 L239.8,1361.2 L240.6,1359.9 L241.2,1360.9 L241.7,1364.7 L242.3,1367.6 L242.9,1368.9 L243.5,1369.7 L244.0,1370.4 L244.6,1371.9 L245.1,1374.0 L245.7,1374.0 L246.2,1373.5 L246.7,1375.3 L247.3,1376.4 L247.9,1376.9 L248.5,1377.7 L249.0,1380.1 L249.6,1380.6 L250.1,1381.8 L250.6,1382.5 L251.2,1384.9 L251.8,1385.3 L252.3,1386.2 L252.8,1386.4 L253.4,1387.4 L253.9,1390.1 L254.5,1390.4 L255.1,1392.6 L255.7,1393.9 L256.3,1394.8 L256.9,1395.8 L257.6,1396.9 L258.3,1398.9 L259.0,1399.6 L259.7,1399.6 L260.3,1401.0 L260.9,1403.4 L261.3,1402.8 L261.7,1403.8" fill="none" stroke="#3aaa6b" stroke-width="9" stroke-linejoin="round" stroke-linecap="round"/>
<path d="M112.5,1320.6 L113.2,1322.9 L114.1,1325.1 L115.2,1323.7 L116.5,1322.3 L117.7,1324.3 L119.0,1326.3 L120.1,1328.4 L121.4,1325.7 L122.6,1325.0 L123.9,1328.4 L125.1,1329.5 L126.4,1331.9 L127.6,1332.0 L128.9,1330.2 L130.2,1329.1 L131.5,1333.3 L132.8,1329.9 L134.0,1328.0 L135.1,1327.2 L135.9,1329.5 L136.6,1331.3 L137.2,1332.0 L137.9,1333.6 L138.5,1335.6 L139.1,1337.7 L139.8,1339.6 L140.4,1338.8 L141.3,1334.9 L142.1,1336.7 L142.9,1332.8 L143.8,1332.5 L144.7,1329.5 L145.7,1330.6 L146.8,1329.9 L148.0,1331.6 L149.2,1337.8 L150.5,1334.9 L151.8,1335.6 L153.2,1332.4 L154.4,1333.0 L155.7,1334.7 L157.1,1334.0 L158.4,1334.4 L159.8,1334.0 L161.1,1331.8 L162.3,1333.6 L163.6,1331.8 L164.9,1335.5 L166.2,1332.7 L167.4,1333.5 L168.6,1332.4 L169.8,1333.3 L171.1,1330.7 L172.4,1332.0 L173.6,1330.1 L174.9,1331.3 L176.1,1330.2 L177.3,1328.8 L178.6,1326.3 L179.9,1327.7 L181.1,1327.5 L182.3,1329.3 L183.4,1326.9 L184.3,1328.0 L185.3,1328.9 L186.2,1329.5 L187.1,1330.4 L187.9,1331.6 L188.6,1331.6 L189.0,1331.5 L189.4,1333.5 L189.8,1336.8 L190.1,1340.5 L190.4,1341.9 L190.7,1343.3 L191.0,1344.0 L191.3,1344.6 L191.7,1344.0 L192.2,1344.4 L192.6,1345.4 L193.1,1341.3 L193.6,1338.2 L194.2,1340.4 L194.7,1337.4 L195.4,1336.8 L196.1,1335.9 L196.9,1331.6 L197.7,1335.4 L198.6,1335.1 L199.5,1331.9 L200.5,1331.2 L201.5,1329.5 L202.5,1326.8 L203.6,1326.8 L204.8,1327.3 L206.0,1328.4 L207.2,1327.8 L208.4,1326.3 L209.5,1327.7 L210.5,1324.5 L211.9,1325.6 L213.2,1326.3 L214.4,1324.1 L215.4,1320.9 L216.5,1321.6 L217.3,1324.2 L218.1,1326.2 L218.8,1329.3 L219.5,1326.9 L220.3,1328.6 L221.0,1331.1 L221.6,1331.2 L222.1,1328.3 L222.7,1333.4 L223.3,1338.5 L223.9,1338.9 L224.5,1336.6 L225.0,1337.3 L225.6,1339.3 L226.4,1344.5 L227.1,1343.7 L227.9,1343.2 L228.6,1345.9 L229.4,1344.9 L230.1,1348.6 L230.6,1346.2 L231.1,1346.5 L231.5,1349.4 L232.0,1352.5 L232.5,1353.1 L233.0,1353.5 L233.5,1351.0 L234.0,1352.6 L234.6,1354.1 L235.3,1355.4 L236.0,1358.2 L236.7,1358.2 L237.5,1360.6 L238.3,1360.8 L239.1,1360.8 L239.8,1362.2 L240.6,1364.0 L241.2,1365.9 L241.7,1365.1 L242.3,1365.9 L242.9,1365.1 L243.5,1370.5 L244.0,1372.9 L244.6,1371.8 L245.1,1372.1 L245.7,1372.4 L246.2,1374.2 L246.7,1375.5 L247.3,1378.3 L247.9,1378.6 L248.5,1378.7 L249.0,1378.2 L249.6,1381.5 L250.1,1382.5 L250.6,1382.2 L251.2,1384.2 L251.8,1384.3 L252.3,1388.7 L252.8,1389.2 L253.4,1389.7 L253.9,1390.1 L254.5,1389.6 L255.1,1391.6 L255.7,1392.1 L256.3,1394.4 L256.9,1394.0 L257.6,1395.6 L258.3,1398.5 L259.0,1400.6 L259.7,1400.1 L260.3,1400.3 L260.9,1402.7 L261.3,1404.0 L261.7,1403.5" fill="none" stroke="#3aaa6b" stroke-width="9" stroke-linejoin="round" stroke-linecap="round"/>
<path d="M112.7,1498.1 L113.4,1493.2 L114.3,1494.1 L115.3,1494.0 L116.5,1495.8 L117.8,1491.4 L119.1,1492.5 L120.5,1492.3 L121.9,1491.8 L123.4,1492.4 L124.7,1493.7 L126.1,1495.0 L127.3,1494.3 L128.5,1497.5 L129.7,1496.7 L130.7,1490.8 L131.8,1499.5 L132.8,1499.4 L133.8,1499.1 L134.8,1501.9 L135.8,1503.3 L136.8,1503.8 L137.8,1502.3 L138.8,1504.5 L139.9,1501.4 L141.1,1507.4 L142.2,1503.1 L143.4,1504.0 L144.6,1504.7 L145.9,1505.2 L147.1,1504.0 L148.4,1505.0 L149.7,1495.4 L151.0,1499.6 L152.2,1500.6 L153.5,1500.0 L154.7,1504.0 L155.9,1499.3 L157.0,1499.4 L158.3,1494.5 L159.5,1497.9 L160.8,1494.3 L162.0,1492.9 L163.1,1501.3 L164.3,1500.0 L165.4,1497.5 L166.5,1496.6 L167.5,1492.0 L168.6,1490.9 L169.6,1493.5 L170.5,1487.8 L171.4,1490.8 L172.3,1486.3 L173.1,1488.4 L173.9,1485.4 L174.7,1490.4 L175.5,1489.6 L176.3,1485.1 L177.0,1479.7 L177.7,1480.0 L178.4,1481.6 L179.1,1479.8 L180.0,1482.3 L180.9,1485.2 L181.7,1484.4 L182.5,1483.9 L183.2,1487.5 L184.0,1487.2 L184.7,1490.8 L185.5,1490.5 L185.9,1495.3 L186.3,1493.3 L186.6,1491.6 L187.0,1494.7 L187.4,1495.1 L187.7,1495.5 L188.1,1498.7 L188.5,1502.8 L188.8,1498.4 L189.2,1502.7 L189.6,1504.8 L190.0,1506.3 L190.4,1509.6 L190.9,1506.2 L191.3,1510.0 L191.8,1509.2 L192.3,1509.6 L192.9,1508.6 L193.4,1507.4 L193.9,1505.8 L194.5,1506.7 L195.1,1510.1 L195.7,1507.8 L196.3,1505.6 L196.9,1503.1 L197.5,1498.8 L198.2,1499.0 L198.9,1501.8 L199.7,1494.2 L200.5,1496.0 L201.3,1496.8 L202.3,1495.1 L203.4,1495.5 L204.6,1497.0 L205.9,1499.5 L207.2,1498.2 L208.5,1498.8 L209.9,1496.0 L211.2,1496.4 L212.5,1495.2 L213.8,1495.4 L215.0,1493.9 L216.1,1496.4 L217.1,1499.5 L218.1,1497.1 L219.0,1497.7 L219.9,1499.2 L220.7,1498.9 L221.5,1501.5 L222.2,1501.3 L223.0,1498.6 L223.7,1498.6 L224.4,1503.5 L225.1,1505.8 L225.8,1508.6 L226.6,1508.5 L227.1,1508.7 L227.5,1505.2 L228.0,1511.6 L228.5,1509.0 L228.9,1513.5 L229.4,1510.6 L229.8,1511.4 L230.3,1514.4 L230.7,1514.8 L231.2,1515.1 L231.6,1519.7 L232.1,1521.6 L232.5,1522.4 L233.0,1521.7 L233.5,1521.1 L234.0,1522.5 L234.5,1523.6 L235.0,1525.9 L235.6,1529.3 L236.1,1529.1 L236.6,1528.2 L237.2,1529.0 L237.8,1534.5 L238.4,1534.5 L239.1,1535.4 L239.7,1536.5 L240.4,1538.4 L241.1,1538.8 L241.7,1542.0 L242.4,1543.1 L243.1,1535.6 L243.7,1540.0 L244.4,1549.5 L245.0,1543.6 L245.6,1545.5 L246.2,1549.1 L246.8,1548.4 L247.3,1552.0 L247.8,1547.7 L248.3,1546.8 L248.7,1549.5 L249.4,1550.3 L249.8,1550.4 L250.2,1554.5 L250.4,1555.9 L250.6,1556.5 L250.8,1556.5 L251.0,1558.2 L251.2,1558.9 L251.6,1559.1 L252.2,1562.4 L252.9,1564.7 L253.2,1565.2 L253.5,1566.9 L253.9,1565.2 L254.2,1566.7 L254.6,1567.3 L255.0,1571.2 L255.4,1571.9 L255.8,1575.5 L256.3,1576.6 L256.7,1574.5 L257.2,1573.4 L257.6,1576.3 L258.1,1576.9 L258.6,1578.1 L259.1,1577.9 L259.6,1581.3 L260.1,1582.6 L260.6,1584.3 L261.1,1585.5 L261.6,1584.8 L262.1,1583.2 L262.6,1586.6 L263.1,1588.1 L263.6,1589.6 L264.1,1593.3 L264.6,1593.7 L265.1,1597.2 L265.6,1597.0 L266.1,1598.6 L266.6,1599.5 L267.0,1601.1 L267.5,1599.0 L268.0,1601.5 L268.5,1602.8 L269.0,1603.6 L269.5,1605.3 L270.0,1606.5 L270.5,1608.1 L271.0,1609.2 L271.5,1610.2 L272.0,1610.6 L272.5,1612.7 L273.0,1614.2 L273.5,1615.2 L274.0,1616.1 L274.5,1617.5 L275.0,1617.9 L275.5,1619.4 L276.0,1620.4 L276.5,1621.1 L277.0,1622.6 L277.5,1623.8 L278.0,1625.5 L278.5,1626.5 L279.0,1626.5 L279.5,1627.1 L280.0,1628.7 L280.5,1629.9 L281.0,1630.7 L281.5,1631.5 L282.0,1632.9 L282.6,1633.8 L283.2,1635.1 L283.8,1636.9 L284.4,1638.0 L285.0,1638.7 L285.6,1639.5 L286.1,1640.9 L286.7,1642.8 L287.3,1643.3 L287.9,1645.0 L288.5,1645.3 L289.1,1646.2 L289.7,1647.6 L290.3,1648.2 L290.9,1649.3 L291.5,1649.9 L292.1,1651.5 L292.7,1652.9 L293.3,1653.3 L294.0,1654.5 L294.6,1655.3 L295.3,1655.6 L295.9,1658.3 L296.6,1659.1 L297.2,1660.1 L297.9,1660.9 L298.5,1661.7 L299.2,1663.5 L299.9,1663.2 L300.6,1664.3 L301.2,1665.3 L301.9,1666.4 L302.6,1667.8 L303.3,1668.4 L304.0,1669.0 L304.8,1669.9 L305.5,1671.5 L306.2,1672.9 L306.9,1674.0 L307.6,1675.3 L308.4,1675.6 L309.1,1676.9 L309.8,1677.9 L310.5,1678.5 L311.2,1679.2 L312.0,1680.6 L312.7,1681.1 L313.4,1682.1 L314.1,1682.7 L314.8,1684.6 L315.6,1685.3 L316.4,1686.0 L317.2,1687.1 L318.0,1688.2 L318.9,1689.4 L319.7,1689.8 L320.5,1690.8 L321.3,1692.5 L322.2,1694.0 L323.0,1694.4 L323.8,1695.6 L324.6,1696.5 L325.5,1696.7 L326.3,1698.2 L327.1,1699.0 L327.9,1700.7 L328.6,1701.4 L329.4,1702.3 L330.2,1702.5 L330.9,1703.7 L331.6,1703.8 L332.3,1705.1 L333.0,1706.5 L334.2,1706.9 L335.4,1708.5 L336.5,1710.0 L337.5,1710.4 L338.5,1711.6 L339.5,1712.1 L340.5,1712.4 L341.5,1712.1 L342.5,1712.6 L343.5,1712.6 L344.6,1714.0 L345.8,1713.5 L346.6,1713.0 L347.4,1712.0 L348.3,1712.6 L349.2,1711.2 L350.0,1711.3 L350.9,1710.7 L351.8,1709.5 L352.7,1708.3 L353.6,1707.5 L354.5,1706.0 L355.5,1705.7 L356.4,1705.3 L357.3,1704.2 L358.3,1703.2 L359.2,1701.5 L360.2,1700.7 L361.1,1699.3 L362.1,1698.4 L362.9,1698.1 L363.8,1698.2 L364.6,1696.7 L365.4,1695.7 L366.3,1694.1 L367.1,1693.8 L368.0,1692.7 L368.8,1691.6 L369.7,1690.7 L370.6,1690.4 L371.4,1689.6 L372.3,1689.1 L373.2,1688.0 L374.1,1687.2 L374.9,1686.8 L375.8,1685.9 L376.7,1684.9 L377.6,1684.2 L378.5,1682.8 L379.4,1681.2 L380.3,1680.1 L381.0,1678.9 L381.8,1678.6 L382.5,1677.6 L383.3,1676.9 L384.1,1676.1 L384.9,1674.5 L385.7,1673.6 L386.5,1673.0 L387.2,1671.5 L388.0,1670.6 L388.8,1669.1 L389.6,1667.6 L390.4,1666.6 L391.2,1664.9 L392.0,1664.6 L392.8,1663.4 L393.6,1663.0 L394.3,1661.3 L395.1,1660.6 L395.8,1659.9 L396.6,1659.0 L397.3,1658.4 L398.0,1657.3 L398.7,1656.5 L399.3,1655.8 L400.0,1655.6 L401.4,1655.1 L402.6,1655.4 L403.9,1655.6 L405.1,1656.1 L406.2,1656.8 L407.3,1657.2 L408.4,1658.6 L409.5,1660.0 L410.5,1660.3 L411.5,1661.1 L412.6,1661.9 L413.6,1661.5 L414.5,1661.4 L415.4,1660.8 L416.3,1661.2 L417.2,1660.4 L418.0,1659.5 L418.8,1657.8 L419.7,1657.1 L420.5,1655.8 L421.3,1654.8 L422.2,1653.4 L423.1,1652.5 L424.0,1651.1 L424.9,1650.4 L425.7,1650.2 L426.5,1648.3 L427.3,1646.9 L428.1,1646.3 L429.0,1645.5 L429.8,1644.0 L430.6,1643.0 L431.5,1641.9 L432.4,1640.8 L433.2,1640.1 L434.1,1638.5 L435.0,1637.9 L435.8,1637.1 L436.7,1636.1 L437.5,1636.0 L438.4,1635.2 L439.4,1635.0 L440.4,1636.1 L441.3,1636.1 L442.3,1637.7 L443.3,1638.6 L444.3,1638.9 L445.3,1639.6 L446.3,1640.0 L447.3,1641.8 L448.3,1642.5 L449.2,1644.7 L450.2,1644.8 L451.1,1646.1 L452.0,1645.9 L453.1,1647.4 L454.2,1649.3 L455.3,1650.0 L456.4,1650.9 L457.4,1652.0 L458.4,1653.3 L459.5,1654.4 L460.4,1654.7 L461.4,1654.3 L462.4,1655.1 L463.3,1655.3 L463.9,1655.6 L464.5,1654.4 L465.1,1653.3 L465.7,1651.9 L466.3,1651.1 L466.8,1650.3 L467.4,1648.1 L467.9,1646.8 L468.5,1645.0 L469.0,1643.6 L469.6,1642.4 L470.1,1641.5 L470.6,1640.0 L471.2,1639.1 L471.7,1639.0 L472.3,1638.4 L473.5,1638.0 L474.7,1638.1 L475.9,1638.5 L477.1,1639.5 L478.2,1640.6 L479.4,1641.2 L480.4,1642.0 L481.4,1641.6 L482.1,1641.3 L482.7,1640.4 L483.3,1639.7 L483.9,1638.2 L484.4,1637.0 L484.9,1635.4 L485.4,1634.9 L485.9,1633.5 L486.5,1631.9 L487.0,1630.4 L487.3,1628.9 L487.6,1628.0 L488.0,1626.8 L488.3,1625.0 L488.6,1624.2 L488.9,1622.9 L489.2,1622.5 L489.5,1620.6 L489.8,1619.2 L490.1,1618.4 L490.4,1616.9 L490.8,1615.1 L491.1,1614.2 L491.5,1612.7 L491.9,1612.5 L492.3,1610.5 L492.7,1609.3 L493.2,1607.2 L493.8,1606.6 L494.3,1606.7 L494.8,1605.2 L495.4,1603.7 L496.0,1603.0 L496.6,1601.9 L497.2,1600.9 L497.8,1601.0 L498.5,1600.2 L499.3,1599.1 L500.0,1598.1 L500.8,1596.0 L501.7,1594.2 L502.4,1594.2 L503.2,1593.5 L503.9,1592.6 L504.7,1591.7 L505.6,1591.2 L506.4,1590.5 L507.3,1589.5 L508.2,1588.8 L509.1,1587.7 L510.0,1586.8 L510.9,1586.6 L511.9,1585.4 L512.8,1585.3 L513.8,1584.2 L514.7,1583.0 L515.7,1582.5 L516.7,1581.1 L517.6,1580.2 L518.5,1579.3 L519.4,1578.6 L520.3,1578.0 L521.3,1577.8 L522.2,1576.6 L523.2,1574.9 L524.2,1573.8 L525.1,1572.5 L526.1,1572.4 L527.1,1571.9 L528.1,1570.9 L529.0,1570.1 L530.0,1569.3 L531.0,1568.4 L531.9,1567.7 L532.9,1566.8 L533.8,1565.5 L534.7,1565.4 L535.6,1565.1 L536.7,1563.3 L537.9,1562.8 L539.0,1561.8 L540.1,1561.8 L541.2,1561.1 L542.3,1561.2 L543.4,1560.9 L544.5,1559.8 L545.6,1559.1 L546.6,1558.5 L547.6,1558.4 L548.6,1557.4 L549.6,1557.3 L550.6,1556.1 L551.5,1556.2 L552.5,1555.5 L553.4,1554.0 L554.2,1553.1 L554.9,1552.6 L555.7,1551.9 L556.4,1549.8 L557.1,1549.7 L557.8,1549.5 L558.6,1548.1 L559.5,1546.7 L560.5,1546.6 L561.6,1545.6 L562.8,1544.6 L563.6,1544.3 L564.5,1543.0 L565.5,1542.4 L566.5,1541.7 L567.5,1541.1 L568.6,1540.8 L569.7,1540.1 L570.8,1540.5 L571.9,1539.9 L573.1,1539.4 L574.3,1537.9 L575.4,1537.6 L576.6,1537.2 L577.8,1536.8 L578.9,1536.4 L580.1,1535.5 L581.2,1534.7 L582.3,1534.9 L583.4,1535.2 L584.4,1534.9 L585.4,1533.5 L586.7,1532.4 L587.9,1532.0 L589.1,1531.6 L590.2,1531.6 L591.4,1530.5 L592.5,1529.5 L593.6,1529.6 L594.7,1528.5 L595.8,1527.8 L596.9,1527.7 L598.0,1527.0 L599.1,1526.1 L600.2,1525.7 L601.3,1525.2 L602.4,1524.6 L603.5,1523.8 L604.6,1523.7 L605.6,1522.9 L606.7,1522.1 L607.7,1522.0 L608.8,1520.8 L609.8,1520.6 L610.9,1520.0 L612.0,1519.0 L613.0,1518.4 L614.1,1517.1 L615.1,1516.9 L616.2,1515.9 L617.3,1515.1 L618.3,1514.9 L619.4,1513.9 L620.5,1513.5 L621.6,1513.0 L622.7,1512.7 L623.8,1511.8 L624.9,1511.2 L626.1,1509.8 L627.2,1508.9 L628.4,1508.4 L629.6,1507.9 L630.8,1506.8 L632.0,1505.6 L633.1,1504.4 L634.3,1503.6 L635.4,1503.7 L636.4,1502.6 L637.4,1502.2 L638.4,1502.1 L639.3,1501.9 L640.1,1501.3 L640.8,1502.2 L641.7,1502.0 L642.5,1502.4 L643.2,1503.4 L643.7,1503.9 L644.1,1505.3 L644.5,1506.3 L644.8,1507.3 L645.1,1508.6 L645.4,1510.5 L645.7,1512.1 L646.0,1513.6 L646.4,1514.9 L646.7,1516.0 L647.0,1517.6 L647.3,1519.2 L647.6,1520.2 L647.9,1521.7 L648.1,1522.4 L648.4,1524.0 L648.7,1525.7 L649.0,1527.2 L649.3,1529.3 L649.5,1529.9 L649.8,1531.9 L650.1,1533.4 L650.4,1535.2 L650.6,1535.3 L650.9,1536.1 L651.1,1537.0 L651.4,1537.2 L651.7,1536.4 L652.0,1535.8 L652.3,1534.6 L652.6,1533.8 L652.8,1532.7 L653.1,1531.5 L653.3,1529.6 L653.6,1527.9 L653.9,1526.2 L654.2,1523.9 L654.5,1522.7 L654.8,1521.7 L655.1,1520.3 L655.5,1519.3 L656.4,1519.4 L657.3,1520.8 L658.3,1523.0 L659.4,1523.8 L660.7,1524.8 L662.2,1524.9 L662.6,1524.4 L663.0,1523.2 L663.4,1522.1 L663.8,1521.2 L664.3,1519.9 L664.7,1518.9 L665.2,1517.9 L665.7,1516.3 L666.2,1515.3 L666.7,1514.2 L667.2,1512.3 L667.7,1511.1 L668.2,1509.3 L668.8,1508.3 L669.3,1507.2 L669.8,1505.6 L670.3,1504.3 L670.8,1503.2 L671.3,1502.1 L671.9,1500.1 L672.4,1499.1 L672.8,1497.6 L673.3,1496.2 L673.8,1496.4 L674.3,1495.8 L674.7,1495.4 L676.1,1493.6 L677.3,1492.1 L678.5,1491.7 L679.6,1491.3 L680.8,1492.0 L682.1,1490.9 L683.4,1491.5 L684.9,1491.1 L686.0,1491.3 L687.1,1491.3 L688.3,1490.3 L689.5,1490.4 L690.7,1490.1 L692.0,1488.7 L693.3,1489.3 L694.6,1488.2 L696.0,1487.6 L697.3,1488.2 L698.7,1487.7 L700.0,1488.0 L701.1,1488.1 L702.2,1487.5 L703.4,1489.9 L704.6,1490.9 L705.8,1490.4 L707.1,1491.9 L708.3,1491.5 L709.5,1491.9 L710.7,1492.0 L711.9,1491.5 L713.1,1492.4 L714.2,1492.4 L715.2,1493.7 L716.2,1493.9 L717.1,1493.4 L718.3,1494.4 L719.3,1493.4 L720.2,1493.6 L721.0,1491.0 L721.7,1489.3 L722.5,1487.6 L723.2,1487.1 L724.1,1486.0 L725.1,1485.3 L726.2,1486.3 L727.2,1485.8 L728.2,1484.4 L729.4,1484.9 L730.5,1484.6 L731.7,1484.6 L733.0,1484.8 L734.3,1485.4 L735.5,1486.2 L736.8,1487.1 L738.1,1486.7 L739.4,1486.1 L740.7,1486.6 L741.9,1486.8 L743.1,1486.8 L744.4,1486.2 L745.6,1487.0 L746.9,1486.1 L748.1,1488.5 L749.4,1489.0 L750.6,1489.3 L751.8,1488.1 L753.1,1488.7 L754.3,1489.7 L755.5,1488.8 L756.7,1487.6 L757.8,1487.8 L758.9,1485.8 L760.0,1487.4 L761.1,1487.1 L762.2,1485.0 L763.2,1485.5 L764.2,1485.5 L765.3,1484.5 L766.3,1483.6 L767.3,1483.5 L768.3,1481.9 L769.3,1481.8 L770.4,1480.0 L771.4,1478.6 L772.6,1478.1 L773.8,1477.0 L775.0,1477.5 L776.2,1476.5 L777.3,1476.8 L778.5,1476.6 L779.7,1477.5 L781.0,1477.6 L782.3,1475.5 L783.6,1474.9 L785.0,1474.4 L786.1,1473.8 L787.2,1475.4 L788.3,1475.3 L789.5,1473.9 L790.7,1472.3 L791.9,1472.2 L793.1,1472.6 L794.3,1473.9 L795.6,1471.8 L796.8,1473.2 L798.1,1471.1 L799.3,1471.8 L800.6,1470.6 L801.8,1470.7 L803.0,1468.9 L804.2,1470.7 L805.4,1470.7 L806.7,1469.7 L807.9,1468.3 L809.2,1469.4 L810.4,1469.7 L811.7,1468.5 L812.9,1469.6 L814.2,1469.4 L815.4,1468.4 L816.6,1468.2 L817.8,1466.7 L818.9,1468.8 L820.0,1469.8 L821.1,1469.1 L822.5,1468.0 L823.8,1467.8 L825.1,1468.5 L826.4,1468.4 L827.6,1469.5 L828.8,1469.0 L829.9,1470.5 L831.1,1471.5 L832.3,1470.5 L833.5,1470.2 L834.7,1468.4 L836.0,1470.5 L837.2,1471.8 L838.5,1471.3 L839.8,1473.0 L841.1,1472.4 L842.4,1471.9 L843.7,1473.8 L844.9,1474.4 L846.1,1472.8 L847.2,1473.9 L848.3,1474.2 L849.2,1475.7 L850.1,1477.0 L850.9,1477.4 L851.7,1478.7 L852.5,1480.3 L853.2,1480.5 L853.9,1480.4 L854.6,1481.3 L855.3,1483.8 L856.0,1486.2 L856.6,1486.2 L857.3,1487.4 L857.8,1487.4 L858.3,1488.2 L858.7,1490.5 L859.2,1490.7 L859.7,1492.1 L860.1,1493.2 L860.6,1494.7 L861.0,1495.6 L861.4,1496.6 L861.8,1497.6 L862.2,1498.6 L862.6,1500.4 L863.0,1502.3 L863.4,1502.3 L863.7,1504.1 L864.1,1504.8 L864.4,1505.8 L864.7,1507.0 L865.0,1508.1 L865.2,1509.2 L865.5,1510.2 L865.7,1512.2 L866.0,1512.3 L866.2,1513.4 L866.4,1514.5 L866.7,1516.0 L866.9,1516.8 L867.1,1518.3 L867.3,1519.7 L867.6,1521.7 L867.8,1522.8 L868.0,1523.7 L868.2,1525.0 L868.4,1527.0 L868.6,1527.9 L868.8,1528.6 L868.9,1529.5 L869.1,1530.7 L869.2,1532.4 L869.4,1533.0 L869.5,1534.2 L869.7,1535.6 L869.8,1536.6 L869.9,1538.4 L870.1,1539.4 L870.2,1541.0 L870.4,1542.4 L870.5,1544.1 L870.6,1545.6 L870.8,1546.0 L870.9,1546.8 L871.0,1548.0 L871.2,1549.8 L871.3,1551.3 L871.4,1552.4 L871.5,1553.6 L871.6,1555.4 L871.7,1556.6 L871.8,1557.4 L871.9,1558.6 L872.0,1558.9 L872.1,1561.1 L872.2,1562.9 L872.3,1563.6 L872.3,1564.4 L872.4,1566.0 L872.4,1566.6 L872.4,1567.7 L872.4,1569.0 L872.5,1569.8 L872.5,1571.1 L872.5,1571.2 L872.5,1571.8 L872.6,1574.0 L872.6,1575.4 L872.6,1576.6 L872.7,1577.7 L872.8,1579.2 L872.9,1580.8 L873.0,1581.8 L873.1,1583.9 L873.2,1584.5 L873.3,1586.5 L873.3,1587.2 L873.4,1588.1 L873.5,1589.4 L873.6,1590.6 L873.7,1591.7 L873.8,1592.2 L874.0,1593.4 L874.1,1594.9 L874.2,1596.0 L874.3,1597.1 L874.4,1598.0 L874.5,1599.4 L874.7,1601.2 L874.8,1601.6 L874.9,1602.5 L875.1,1603.7 L875.2,1604.9 L875.3,1607.2 L875.5,1609.1 L875.6,1610.1 L875.7,1611.1 L875.9,1612.8 L876.0,1614.2 L876.1,1614.2 L876.3,1615.9 L876.4,1618.3 L876.6,1618.9 L876.7,1619.9 L876.8,1621.1 L877.0,1623.2 L877.1,1624.0 L877.2,1625.5 L877.3,1627.1 L877.5,1628.1 L877.6,1629.2 L877.7,1629.9 L877.8,1630.9 L878.0,1632.9 L878.1,1633.5 L878.2,1635.4 L878.3,1636.9 L878.4,1638.3 L878.5,1638.9 L878.7,1639.7 L878.8,1641.1 L878.9,1642.9 L879.0,1644.0 L879.1,1645.2 L879.2,1646.1 L879.4,1647.7 L879.5,1647.9 L879.6,1649.1 L879.7,1651.4 L879.8,1652.5 L880.0,1653.8 L880.1,1654.1 L880.2,1655.4 L880.3,1656.8 L880.4,1658.2 L880.6,1660.0 L880.7,1660.8 L880.8,1662.1 L880.9,1663.0 L881.0,1664.3 L881.1,1665.8 L881.3,1667.2 L881.4,1668.6 L881.5,1669.1 L881.6,1670.8 L881.7,1672.1 L881.8,1672.8 L882.0,1674.6 L882.1,1675.3 L882.2,1676.4 L882.3,1678.0 L882.4,1679.7 L882.6,1680.5 L882.7,1682.3 L882.8,1683.4 L882.9,1684.2 L883.0,1685.9 L883.2,1687.1 L883.3,1688.1 L883.4,1689.6 L883.5,1691.5 L883.6,1692.7 L883.7,1693.7 L883.9,1695.4 L884.0,1696.0 L884.1,1697.8 L884.2,1699.6 L884.3,1700.1 L884.4,1701.2 L884.6,1702.5 L884.7,1704.0 L884.8,1705.2 L884.9,1706.6 L885.0,1707.6 L885.2,1709.2 L885.3,1710.6 L885.4,1711.8 L885.5,1712.6 L885.7,1714.1 L885.8,1714.5 L885.9,1715.6 L886.0,1716.9 L886.2,1718.5 L886.3,1719.1 L886.4,1720.3 L886.6,1721.6 L886.7,1722.8 L887.0,1724.9 L887.4,1725.9 L887.8,1727.8 L888.1,1729.6 L888.5,1731.4 L888.9,1732.8 L889.3,1734.0 L889.7,1735.2 L890.1,1735.7 L890.5,1737.3 L890.8,1738.2 L891.2,1738.6 L891.6,1739.9 L892.0,1739.9 L892.3,1739.7 L892.8,1740.2 L893.2,1740.2 L893.6,1740.0 L894.1,1739.3 L894.5,1738.7 L894.9,1737.5 L895.3,1736.4 L895.7,1734.4 L896.1,1731.7 L896.5,1728.9 L896.9,1726.4 L897.0,1725.9 L897.1,1724.3 L897.2,1724.0 L897.3,1723.0 L897.4,1722.1 L897.4,1720.8 L897.5,1719.5 L897.6,1718.6 L897.7,1717.4 L897.8,1716.4 L897.9,1715.5 L898.0,1714.4 L898.1,1713.9 L898.2,1711.9 L898.2,1710.5 L898.3,1709.4 L898.4,1708.4 L898.5,1706.5 L898.6,1704.8 L898.7,1704.0 L898.8,1702.9 L898.9,1701.7 L899.0,1700.4 L899.0,1698.2 L899.1,1697.5 L899.2,1695.9 L899.3,1695.3 L899.4,1693.2 L899.5,1690.9 L899.6,1690.0 L899.7,1688.9 L899.8,1687.7 L899.9,1686.3 L899.9,1684.7 L900.0,1682.9 L900.1,1681.9 L900.2,1680.7 L900.3,1679.4 L900.4,1678.3 L900.5,1677.1 L900.6,1675.2 L900.7,1674.2 L900.8,1673.2 L900.9,1672.3 L901.0,1672.1 L901.1,1670.7 L901.2,1669.8 L901.3,1667.8 L901.4,1667.8 L901.6,1665.7 L901.8,1664.2 L902.1,1661.9 L902.3,1660.4 L902.5,1659.2 L902.7,1657.4 L903.0,1655.8 L903.2,1654.0 L903.5,1652.4 L903.7,1651.3 L903.9,1649.9 L904.2,1648.7 L904.4,1647.2 L904.7,1646.0 L904.9,1645.3 L905.2,1644.7 L905.4,1643.1 L905.6,1641.9 L905.9,1641.3 L906.1,1640.9 L906.3,1640.1 L906.6,1639.7 L906.8,1638.8 L907.0,1637.9 L907.6,1636.5 L908.2,1637.2 L908.8,1637.8 L909.4,1638.5 L909.9,1640.4 L910.5,1641.9 L911.0,1644.9 L911.6,1647.7 L911.8,1648.6 L911.9,1648.9 L912.1,1650.3 L912.2,1651.3 L912.4,1652.6 L912.6,1652.5 L912.7,1654.2 L912.9,1655.7 L913.1,1656.4 L913.2,1658.0 L913.4,1659.0 L913.5,1660.7 L913.7,1661.5 L913.9,1662.8 L914.0,1663.7 L914.2,1666.1 L914.3,1666.7 L914.5,1667.7 L914.7,1669.0 L914.8,1670.7 L915.0,1672.2 L915.1,1673.7 L915.3,1675.5 L915.5,1676.8 L915.6,1677.1 L915.8,1678.6 L915.9,1679.8 L916.1,1681.4 L916.3,1682.5 L916.4,1684.2 L916.6,1685.2 L916.8,1687.1 L916.9,1687.5 L917.1,1689.3 L917.3,1690.7 L917.4,1691.4 L917.6,1692.3 L917.8,1693.7 L917.9,1695.5 L918.1,1697.4 L918.3,1697.8 L918.4,1699.1 L918.6,1700.1 L918.8,1702.0 L919.0,1703.2 L919.1,1704.3 L919.3,1705.8 L919.5,1706.8 L919.7,1708.4 L919.8,1708.9 L920.0,1709.7 L920.2,1710.8 L920.4,1711.8 L920.6,1713.3 L921.0,1714.6 L921.4,1716.1 L921.8,1717.7 L922.2,1719.2 L922.7,1720.2 L923.1,1722.2 L923.5,1723.8 L924.0,1725.0 L924.4,1725.7 L924.9,1727.1 L925.3,1727.9 L925.8,1728.4 L926.2,1728.9 L927.0,1729.2 L927.9,1729.4 L928.7,1729.1 L929.5,1727.6 L930.4,1726.2 L931.1,1724.1 L931.9,1721.8 L932.1,1720.1 L932.2,1720.0 L932.4,1719.4 L932.6,1718.5 L932.7,1717.7 L932.9,1716.1 L933.1,1715.6 L933.2,1714.3 L933.4,1713.2 L933.5,1712.8 L933.7,1711.3 L933.8,1710.5 L934.0,1709.0 L934.1,1707.6 L934.3,1706.2 L934.4,1704.5 L934.6,1703.5 L934.7,1702.4 L934.9,1701.6 L935.0,1700.2 L935.2,1698.9 L935.3,1696.8 L935.5,1695.2 L935.6,1694.2 L935.7,1693.0 L935.9,1691.0 L936.0,1690.2 L936.1,1688.3 L936.3,1687.1 L936.4,1685.4 L936.5,1684.8 L936.6,1683.9 L936.7,1682.9 L936.8,1681.0 L936.9,1680.0 L936.9,1679.7 L937.0,1677.9 L937.1,1676.7 L937.2,1675.3 L937.3,1673.7 L937.4,1673.2 L937.4,1672.1 L937.5,1670.0 L937.6,1668.9 L937.7,1668.2 L937.8,1666.5 L937.8,1664.9 L937.9,1663.8 L938.0,1662.5 L938.1,1660.4 L938.1,1659.0 L938.2,1658.5 L938.3,1656.7 L938.4,1655.4 L938.4,1653.9 L938.5,1653.5 L938.6,1651.3 L938.7,1650.3 L938.8,1648.9 L938.8,1647.7 L938.9,1646.1 L939.0,1644.9 L939.1,1644.0 L939.2,1643.1 L939.3,1641.3 L939.3,1640.7 L939.4,1639.4 L939.5,1638.6 L939.6,1637.6 L939.7,1636.7 L939.8,1635.8 L940.0,1634.3 L940.2,1632.5 L940.4,1630.1 L940.6,1628.0 L940.8,1626.6 L941.0,1625.8 L941.2,1623.8 L941.4,1622.4 L941.6,1622.2 L941.9,1620.4 L942.1,1619.1 L942.3,1618.1 L942.5,1617.2 L942.8,1615.8 L943.0,1614.9 L943.2,1613.3 L943.4,1613.1 L943.6,1612.7 L943.9,1611.3 L944.1,1611.6 L944.3,1611.8 L944.9,1609.7 L945.4,1610.2 L946.0,1611.7 L946.6,1612.9 L947.2,1613.9 L947.8,1615.6 L948.3,1617.7 L948.9,1620.3 L949.1,1620.7 L949.3,1621.3 L949.5,1622.8 L949.7,1623.8 L949.9,1625.9 L950.1,1626.5 L950.3,1628.1 L950.5,1629.4 L950.7,1630.3 L950.8,1631.9 L951.0,1632.8 L951.2,1634.9 L951.4,1636.0 L951.7,1637.2 L951.9,1638.2 L952.1,1640.5 L952.3,1641.7 L952.6,1642.2 L952.8,1643.3 L953.1,1644.5 L953.4,1645.3 L954.5,1646.5 L955.9,1645.7 L957.3,1646.3 L958.7,1645.5 L960.1,1646.2 L961.3,1646.9 L961.6,1648.1 L961.9,1649.4 L962.1,1650.5 L962.4,1650.7 L962.6,1652.0 L962.9,1654.0 L963.1,1654.8 L963.4,1656.6 L963.6,1657.9 L963.8,1658.8 L964.1,1661.1 L964.3,1663.0 L964.5,1664.4 L964.7,1665.7 L965.0,1667.4 L965.2,1667.6 L965.4,1669.3 L965.6,1671.2 L965.9,1672.1 L966.1,1673.1 L966.4,1673.4 L966.6,1674.1 L966.9,1673.9 L967.4,1674.6 L968.0,1674.5 L968.5,1673.6 L969.1,1672.6 L969.7,1671.3 L970.3,1669.9 L970.9,1668.5 L971.5,1667.0 L972.0,1664.2 L972.6,1663.1 L973.2,1662.3 L973.7,1660.5 L974.5,1659.5 L975.2,1659.8 L975.9,1658.5 L976.6,1658.3 L977.3,1657.4 L978.0,1655.5 L978.7,1654.0 L979.4,1650.9 L979.6,1650.5 L979.7,1650.2 L979.9,1649.4 L980.1,1648.2 L980.2,1646.7 L980.4,1645.9 L980.6,1645.0 L980.7,1643.6 L980.9,1642.3 L981.0,1640.7 L981.2,1639.2 L981.4,1637.2 L981.5,1636.4 L981.7,1634.2 L981.9,1632.5 L982.0,1630.9 L982.2,1629.4 L982.3,1628.7 L982.5,1626.9 L982.7,1625.4 L982.8,1623.9 L983.0,1622.6 L983.2,1621.8 L983.3,1620.8 L983.5,1618.9 L983.7,1618.4 L983.9,1617.1 L984.1,1615.9 L984.2,1615.4 L984.4,1614.2 L984.6,1613.5 L984.8,1612.8 L985.0,1611.8 L985.6,1610.9 L986.1,1611.0 L986.7,1611.7 L987.3,1613.1 L988.0,1614.7 L988.6,1617.2 L989.2,1618.9 L989.9,1620.9 L990.5,1622.5 L991.1,1623.3 L991.8,1624.2 L992.4,1624.0 L993.0,1623.4 L993.5,1623.6 L994.1,1622.9 L994.7,1621.9 L995.3,1621.1 L995.9,1618.9 L996.4,1617.7 L997.0,1615.5 L997.6,1614.2 L998.2,1613.4 L998.7,1611.5 L999.3,1610.1 L999.9,1609.3 L1000.6,1609.0 L1001.3,1607.7 L1001.9,1606.1 L1002.6,1605.0 L1003.3,1603.6 L1004.0,1602.2 L1004.7,1601.1 L1005.4,1600.5 L1006.0,1599.5 L1006.7,1599.2 L1007.4,1598.4 L1008.6,1598.4 L1009.9,1598.3 L1011.1,1599.4 L1012.3,1600.5 L1013.6,1600.9 L1014.8,1603.0 L1015.6,1603.6 L1016.3,1604.4 L1017.1,1605.7 L1017.9,1607.9 L1018.6,1609.8 L1019.4,1611.0 L1020.1,1611.9 L1020.9,1612.7 L1021.6,1612.5 L1022.3,1611.7 L1022.5,1611.2 L1022.7,1611.0 L1023.0,1609.3 L1023.2,1609.9 L1023.4,1608.5 L1023.6,1607.4 L1023.8,1605.8 L1024.0,1605.4 L1024.2,1603.9 L1024.4,1602.4 L1024.6,1600.7 L1024.8,1599.8 L1025.0,1598.5 L1025.2,1596.6 L1025.4,1595.8 L1025.6,1593.6 L1025.8,1592.6 L1026.0,1590.9 L1026.2,1588.7 L1026.4,1587.4 L1026.5,1586.3 L1026.7,1584.6 L1026.9,1583.4 L1027.1,1582.0 L1027.3,1580.9 L1027.5,1579.4 L1027.7,1579.1 L1027.9,1577.8 L1028.1,1577.2 L1028.3,1575.8 L1028.5,1575.0 L1029.5,1572.0 L1030.5,1571.1 L1031.5,1571.5 L1032.5,1571.4 L1033.6,1570.7 L1034.7,1569.6 L1035.2,1569.1 L1035.8,1567.8 L1036.4,1567.3 L1037.0,1565.4 L1037.6,1563.7 L1038.2,1562.3 L1038.8,1561.2 L1039.4,1558.7 L1040.0,1557.3 L1040.6,1556.2 L1041.2,1554.8 L1041.7,1554.8 L1042.2,1554.8 L1042.7,1555.4 L1043.1,1555.9 L1043.5,1556.7 L1043.9,1557.6 L1044.3,1558.3 L1044.6,1560.7 L1045.0,1561.9 L1045.3,1562.7 L1045.7,1563.7 L1046.0,1565.6 L1046.4,1567.5 L1046.7,1568.8 L1047.1,1570.3 L1047.4,1571.5 L1047.7,1572.6 L1048.0,1573.4 L1048.2,1574.9 L1048.5,1576.0 L1048.8,1578.4 L1049.1,1579.8 L1049.4,1581.6 L1049.7,1583.9 L1050.0,1584.5 L1050.2,1585.9 L1050.5,1586.8 L1050.8,1587.3 L1051.1,1589.0 L1051.5,1589.5 L1051.8,1589.8 L1052.1,1590.1 L1052.4,1589.6 L1052.6,1589.3 L1052.9,1588.8 L1053.2,1587.1 L1053.5,1586.1 L1053.8,1584.7 L1054.1,1583.6 L1054.4,1582.7 L1054.7,1579.9 L1055.0,1578.8 L1055.3,1576.7 L1055.6,1575.1 L1055.9,1573.4 L1056.2,1571.6 L1056.5,1569.6 L1056.8,1568.5 L1057.1,1567.1 L1057.4,1566.9 L1057.7,1566.0 L1058.0,1565.1 L1058.3,1564.7 L1058.7,1565.2 L1059.0,1564.7 L1059.4,1565.5 L1059.8,1566.3 L1060.2,1566.8 L1060.6,1568.4 L1061.0,1569.2 L1061.3,1571.0 L1061.7,1572.2 L1062.1,1573.3 L1062.5,1574.9 L1062.8,1577.0 L1063.2,1578.1 L1063.6,1579.6 L1063.9,1581.4 L1064.3,1583.4 L1064.6,1585.1 L1064.8,1585.5 L1065.0,1586.2 L1065.2,1587.6 L1065.4,1588.7 L1065.6,1590.1 L1065.8,1590.6 L1066.0,1591.9 L1066.2,1592.9 L1066.3,1595.1 L1066.5,1595.2 L1066.7,1596.5 L1066.9,1597.9 L1067.0,1598.7 L1067.2,1600.3 L1067.4,1601.6 L1067.6,1602.6 L1067.7,1604.1 L1067.9,1606.2 L1068.1,1607.3 L1068.3,1609.0 L1068.4,1610.4 L1068.6,1611.2 L1068.8,1612.2 L1069.0,1612.6 L1069.1,1613.6 L1069.3,1615.6 L1069.5,1617.0 L1069.7,1618.3 L1069.9,1619.2 L1070.1,1620.5 L1070.2,1621.5 L1070.4,1623.5 L1070.6,1624.7 L1070.8,1625.1 L1071.0,1626.7 L1071.2,1628.7 L1071.3,1629.4 L1071.5,1630.5 L1071.7,1631.8 L1071.9,1633.2 L1072.1,1634.7 L1072.3,1636.0 L1072.5,1637.4 L1072.6,1638.4 L1072.8,1640.0 L1073.0,1641.6 L1073.2,1642.0 L1073.4,1643.4 L1073.6,1644.6 L1073.8,1645.6 L1073.9,1646.6 L1074.1,1647.8 L1074.3,1648.5 L1074.5,1649.2 L1074.8,1650.8 L1075.2,1653.0 L1075.5,1654.4 L1075.8,1655.4 L1076.1,1657.3 L1076.4,1658.9 L1076.8,1660.9 L1077.1,1662.5 L1077.4,1663.0 L1077.7,1664.7 L1078.1,1665.5 L1078.4,1666.6 L1078.8,1666.5 L1079.1,1667.1 L1079.5,1667.3 L1079.8,1667.4 L1080.2,1665.9 L1080.6,1665.2 L1080.9,1664.2 L1081.3,1662.9 L1081.6,1661.2 L1082.0,1659.8 L1082.4,1658.4 L1082.7,1657.5 L1083.1,1655.4 L1083.5,1654.1 L1083.9,1652.1 L1084.4,1650.9 L1084.8,1649.7 L1085.2,1648.9 L1085.7,1647.7 L1086.8,1647.6 L1088.1,1649.3 L1089.4,1649.8 L1090.8,1650.5 L1092.1,1652.7 L1093.3,1652.9 L1094.4,1652.3 L1094.8,1651.0 L1095.2,1650.5 L1095.5,1649.9 L1095.8,1649.1 L1096.1,1647.8 L1096.4,1647.3 L1096.7,1645.7 L1097.0,1645.2 L1097.3,1643.8 L1097.5,1642.2 L1097.8,1640.4 L1098.0,1639.5 L1098.3,1638.2 L1098.6,1636.1 L1098.8,1635.6 L1099.1,1633.7 L1099.4,1631.5 L1099.6,1631.4 L1099.8,1629.8 L1099.9,1628.6 L1100.1,1627.2 L1100.3,1626.2 L1100.5,1625.4 L1100.7,1624.0 L1100.9,1623.2 L1101.0,1621.7 L1101.2,1620.7 L1101.4,1618.7 L1101.6,1617.9 L1101.8,1616.9 L1101.9,1616.0 L1102.1,1614.5 L1102.3,1613.3 L1102.5,1612.2 L1102.7,1610.5 L1102.8,1609.6 L1103.0,1608.4 L1103.2,1606.8 L1103.4,1605.2 L1103.6,1604.8 L1103.8,1603.7 L1103.9,1602.3 L1104.1,1601.3 L1104.3,1600.4 L1104.5,1598.6 L1104.7,1597.5 L1104.9,1596.2 L1105.1,1595.0 L1105.3,1593.5 L1105.5,1592.0 L1105.7,1591.1 L1105.9,1589.8 L1106.1,1589.0 L1106.3,1587.5 L1106.5,1586.0 L1106.7,1584.2 L1106.9,1583.2 L1107.1,1582.2 L1107.3,1580.9 L1107.5,1579.5 L1107.7,1577.4 L1107.9,1576.7 L1108.1,1576.1 L1108.3,1575.7 L1108.5,1573.8 L1108.7,1573.1 L1108.9,1571.5 L1109.1,1571.1 L1109.3,1569.9 L1109.6,1568.4 L1109.9,1567.2 L1110.2,1565.3 L1110.5,1563.8 L1110.8,1563.7 L1111.1,1561.2 L1111.4,1559.9 L1111.7,1559.9 L1111.9,1559.1 L1112.2,1557.1 L1112.5,1555.7 L1112.8,1555.1 L1113.1,1555.4 L1113.4,1554.6 L1113.7,1552.4 L1114.0,1550.8 L1114.3,1549.8 L1114.6,1547.4 L1115.0,1547.1 L1115.3,1545.8 L1115.6,1545.5 L1115.9,1543.3 L1116.2,1542.6 L1116.5,1540.9 L1116.8,1539.6 L1117.2,1540.0 L1117.5,1537.6 L1117.9,1536.6 L1118.3,1535.9 L1118.8,1536.0 L1119.3,1534.3 L1119.9,1532.4 L1120.6,1531.5 L1121.2,1531.4 L1122.0,1529.9 L1122.7,1528.7 L1123.5,1528.7 L1124.3,1525.9 L1125.2,1525.7 L1126.0,1523.6 L1126.8,1523.9 L1127.6,1523.0 L1128.4,1522.4 L1129.2,1521.6 L1130.4,1521.0 L1131.6,1518.6 L1132.7,1519.1 L1133.9,1521.9 L1135.1,1521.7 L1136.4,1521.6 L1137.7,1522.0 L1139.2,1522.0 L1140.1,1521.2 L1141.1,1521.2 L1142.2,1520.5 L1143.2,1518.9 L1144.4,1518.4 L1145.5,1518.3 L1146.7,1516.4 L1147.8,1515.9 L1148.9,1514.7 L1150.1,1514.1 L1151.1,1512.6 L1152.2,1512.9 L1153.2,1512.3 L1154.1,1513.0 L1155.5,1512.0 L1156.8,1513.2 L1158.0,1513.0 L1159.0,1511.7 L1160.1,1513.4 L1161.3,1512.9 L1162.6,1513.4 L1164.0,1513.0 L1164.8,1513.8 L1165.6,1514.1 L1166.5,1514.2 L1167.4,1514.8 L1168.3,1517.1 L1169.2,1517.2 L1170.2,1518.0 L1171.1,1518.4 L1172.1,1519.3 L1173.1,1520.1 L1174.1,1521.3 L1175.1,1522.4 L1176.0,1523.9 L1177.0,1524.4 L1178.0,1525.1 L1178.9,1525.4 L1179.7,1527.0 L1180.6,1528.0 L1181.5,1528.4 L1182.3,1528.1 L1183.2,1529.8 L1184.1,1529.5 L1185.0,1532.5 L1185.8,1533.2 L1186.7,1534.9 L1187.6,1535.0 L1188.4,1536.4 L1189.3,1538.1 L1190.1,1538.7 L1190.9,1538.2 L1191.7,1538.2 L1192.5,1539.4 L1193.2,1540.9 L1193.9,1541.0 L1194.8,1541.4 L1195.7,1543.1 L1196.6,1544.7 L1197.4,1544.8 L1198.2,1546.7 L1198.9,1548.7 L1199.7,1548.7 L1200.4,1550.2 L1201.1,1551.2 L1201.8,1552.4 L1202.5,1553.4 L1203.1,1553.4 L1203.8,1555.0 L1204.9,1557.4 L1205.8,1557.6 L1206.8,1556.7 L1207.7,1557.6 L1208.6,1559.9 L1209.5,1559.9 L1210.4,1560.9 L1211.3,1561.4 L1211.7,1561.7 L1212.2,1563.6 L1212.6,1565.3 L1213.0,1566.1 L1213.5,1568.0 L1213.9,1569.1 L1214.3,1569.2 L1214.8,1571.5 L1215.2,1573.8 L1215.7,1576.7 L1216.1,1576.0 L1216.5,1577.8 L1217.0,1579.2 L1217.4,1580.3 L1217.8,1581.1 L1218.3,1582.7 L1218.7,1583.4 L1219.8,1582.6 L1220.9,1581.7 L1222.0,1581.1 L1223.2,1578.9 L1224.2,1578.4 L1225.3,1578.1 L1226.2,1577.0 L1227.3,1577.5 L1228.1,1578.3 L1229.0,1580.2 L1229.9,1581.9 L1231.2,1581.5 L1232.2,1582.5 L1233.4,1581.1 L1234.7,1580.9 L1236.0,1580.4 L1237.3,1578.9 L1238.7,1578.5 L1239.9,1577.6 L1241.1,1578.8 L1242.3,1578.9 L1243.4,1578.6 L1244.5,1580.9 L1245.5,1581.6 L1246.5,1584.0 L1247.6,1583.7 L1248.6,1584.0 L1249.4,1582.5 L1250.2,1582.2 L1250.9,1581.6 L1251.6,1581.4 L1252.4,1580.9 L1253.2,1579.1 L1254.0,1577.4 L1255.0,1575.5 L1256.0,1574.1 L1256.6,1573.7 L1257.3,1573.8 L1258.1,1573.8 L1258.8,1571.8 L1259.6,1570.1 L1260.4,1568.7 L1261.3,1568.8 L1262.1,1568.6 L1262.9,1567.4 L1263.8,1567.0 L1264.6,1565.1 L1265.4,1563.5 L1266.2,1562.7 L1267.0,1560.9 L1267.8,1560.3 L1268.5,1559.3 L1269.4,1557.3 L1270.3,1557.2 L1271.1,1556.9 L1271.9,1556.7 L1272.7,1555.0 L1273.5,1554.7 L1274.2,1552.6 L1275.0,1552.6 L1275.8,1550.7 L1276.6,1549.8 L1277.5,1547.9 L1278.4,1548.8 L1279.2,1547.1 L1280.0,1547.0 L1280.8,1545.6 L1281.7,1544.8 L1282.6,1544.3 L1283.5,1542.2 L1284.4,1542.1 L1285.3,1540.9 L1286.1,1539.5 L1287.0,1539.8 L1287.9,1538.5 L1288.7,1538.5 L1289.5,1537.1 L1290.2,1535.7 L1290.9,1534.5 L1291.7,1533.7 L1292.4,1532.2 L1293.1,1532.0 L1293.8,1530.1 L1294.5,1530.0 L1295.1,1527.9 L1295.7,1526.6 L1296.2,1525.0 L1296.7,1525.9 L1297.2,1522.5 L1297.6,1522.8 L1298.0,1522.6 L1298.3,1522.3" fill="none" stroke="#1b6ddd" stroke-width="10.5" stroke-linejoin="round" stroke-linecap="round"/>
<path d="M112.7,1495.1 L113.4,1492.0 L114.3,1493.2 L115.3,1489.2 L116.5,1492.0 L117.8,1496.2 L119.1,1498.4 L120.5,1493.9 L121.9,1493.8 L123.4,1494.5 L124.7,1490.3 L126.1,1497.8 L127.3,1498.7 L128.5,1499.1 L129.7,1500.6 L130.7,1498.9 L131.8,1500.0 L132.8,1502.1 L133.8,1503.2 L134.8,1501.7 L135.8,1500.2 L136.8,1503.8 L137.8,1505.0 L138.8,1502.9 L139.9,1506.7 L141.1,1507.1 L142.2,1506.8 L143.4,1506.0 L144.6,1506.4 L145.9,1508.1 L147.1,1505.0 L148.4,1507.1 L149.7,1505.1 L151.0,1504.4 L152.2,1506.0 L153.5,1503.6 L154.7,1502.9 L155.9,1500.4 L157.0,1500.3 L158.3,1500.3 L159.5,1498.6 L160.8,1497.4 L162.0,1499.8 L163.1,1500.6 L164.3,1496.7 L165.4,1495.4 L166.5,1497.4 L167.5,1498.3 L168.6,1493.9 L169.6,1493.1 L170.5,1495.3 L171.4,1496.9 L172.3,1494.8 L173.1,1489.1 L173.9,1491.2 L174.7,1488.5 L175.5,1486.3 L176.3,1486.3 L177.0,1483.1 L177.7,1481.9 L178.4,1477.0 L179.1,1483.3 L180.0,1483.7 L180.9,1482.9 L181.7,1484.1 L182.5,1485.0 L183.2,1485.4 L184.0,1486.1 L184.7,1488.1 L185.5,1485.8 L185.9,1486.9 L186.3,1490.7 L186.6,1496.3 L187.0,1497.4 L187.4,1499.4 L187.7,1501.0 L188.1,1500.8 L188.5,1502.8 L188.8,1503.8 L189.2,1504.2 L189.6,1506.0 L190.0,1508.2 L190.4,1507.8 L190.9,1507.6 L191.3,1509.6 L191.8,1510.1 L192.3,1510.4 L192.9,1511.9 L193.4,1510.1 L193.9,1508.3 L194.5,1505.6 L195.1,1502.9 L195.7,1504.2 L196.3,1503.8 L196.9,1502.5 L197.5,1501.1 L198.2,1497.6 L198.9,1497.5 L199.7,1496.4 L200.5,1496.4 L201.3,1494.0 L202.3,1496.0 L203.4,1496.3 L204.6,1492.4 L205.9,1492.7 L207.2,1493.0 L208.5,1494.2 L209.9,1496.3 L211.2,1491.6 L212.5,1495.4 L213.8,1496.3 L215.0,1494.6 L216.1,1494.2 L217.1,1496.6 L218.1,1496.3 L219.0,1496.1 L219.9,1496.7 L220.7,1502.0 L221.5,1496.9 L222.2,1502.9 L223.0,1499.1 L223.7,1503.6 L224.4,1502.8 L225.1,1504.4 L225.8,1504.4 L226.6,1505.9 L227.1,1510.0 L227.5,1508.0 L228.0,1505.0 L228.5,1508.2 L228.9,1505.9 L229.4,1509.2 L229.8,1512.3 L230.3,1513.2 L230.7,1514.5 L231.2,1520.3 L231.6,1524.0 L232.1,1524.8 L232.5,1525.8 L233.0,1524.6 L233.5,1522.6 L234.0,1522.9 L234.5,1523.0 L235.0,1524.3 L235.6,1526.0 L236.1,1529.6 L236.6,1533.0 L237.2,1533.0 L237.8,1534.3 L238.4,1532.8 L239.1,1535.5 L239.7,1534.4 L240.4,1536.2 L241.1,1541.2 L241.7,1540.9 L242.4,1540.4 L243.1,1542.5 L243.7,1541.6 L244.4,1543.4 L245.0,1543.8 L245.6,1546.1 L246.2,1546.7 L246.8,1547.7 L247.3,1548.8 L247.8,1549.8 L248.3,1550.7 L248.7,1551.4 L249.4,1552.7 L250.0,1554.7 L250.6,1556.3 L251.0,1558.2 L251.4,1559.9 L251.7,1561.4 L252.0,1561.4 L252.3,1561.6 L252.5,1563.0 L252.7,1563.6 L252.9,1565.1" fill="none" stroke="#1b6ddd" stroke-width="9" stroke-linejoin="round" stroke-linecap="round"/>
<path d="M112.7,1494.1 L113.4,1495.9 L114.3,1492.7 L115.3,1491.5 L116.5,1493.7 L117.8,1497.4 L119.1,1496.3 L120.5,1493.2 L121.9,1493.2 L123.4,1494.8 L124.7,1497.6 L126.1,1497.0 L127.3,1496.5 L128.5,1496.9 L129.7,1498.2 L130.7,1497.4 L131.8,1499.1 L132.8,1500.7 L133.8,1504.5 L134.8,1503.1 L135.8,1505.1 L136.8,1502.4 L137.8,1505.5 L138.8,1505.5 L139.9,1504.4 L141.1,1505.1 L142.2,1507.1 L143.4,1505.3 L144.6,1507.1 L145.9,1508.5 L147.1,1508.9 L148.4,1508.7 L149.7,1502.8 L151.0,1503.5 L152.2,1501.4 L153.5,1503.5 L154.7,1502.2 L155.9,1501.7 L157.0,1501.7 L158.3,1499.4 L159.5,1499.5 L160.8,1497.7 L162.0,1502.1 L163.1,1498.5 L164.3,1497.7 L165.4,1493.7 L166.5,1492.4 L167.5,1492.8 L168.6,1495.5 L169.6,1495.9 L170.5,1494.6 L171.4,1491.7 L172.3,1494.7 L173.1,1489.4 L173.9,1487.1 L174.7,1488.1 L175.5,1484.9 L176.3,1485.6 L177.0,1486.6 L177.7,1484.5 L178.4,1484.4 L179.1,1483.6 L180.0,1482.1 L180.9,1477.1 L181.7,1479.7 L182.5,1483.7 L183.2,1482.8 L184.0,1485.5 L184.7,1489.0 L185.5,1493.5 L185.9,1490.3 L186.3,1491.6 L186.6,1494.3 L187.0,1496.9 L187.4,1495.1 L187.7,1501.7 L188.1,1499.9 L188.5,1504.0 L188.8,1503.9 L189.2,1505.9 L189.6,1509.9 L190.0,1510.1 L190.4,1509.7 L190.9,1507.8 L191.3,1508.1 L191.8,1506.7 L192.3,1512.7 L192.9,1507.6 L193.4,1503.2 L193.9,1509.1 L194.5,1509.6 L195.1,1505.8 L195.7,1505.8 L196.3,1501.6 L196.9,1499.6 L197.5,1500.0 L198.2,1499.1 L198.9,1496.3 L199.7,1498.7 L200.5,1497.4 L201.3,1495.4 L202.3,1491.9 L203.4,1493.1 L204.6,1492.5 L205.9,1492.8 L207.2,1494.6 L208.5,1492.7 L209.9,1493.8 L211.2,1495.4 L212.5,1495.4 L213.8,1499.4 L215.0,1493.3 L216.1,1494.7 L217.1,1493.4 L218.1,1495.4 L219.0,1501.6 L219.9,1496.2 L220.7,1497.4 L221.5,1500.2 L222.2,1500.6 L223.0,1503.0 L223.7,1499.8 L224.4,1504.3 L225.1,1502.9 L225.8,1502.8 L226.6,1507.1 L227.1,1508.8 L227.5,1507.7 L228.0,1507.7 L228.5,1509.6 L228.9,1511.3 L229.4,1512.3 L229.8,1511.8 L230.3,1509.8 L230.7,1516.9 L231.2,1517.9 L231.6,1516.3 L232.1,1515.9 L232.5,1518.2 L233.0,1520.3 L233.5,1518.5 L234.0,1525.5 L234.5,1526.8 L235.0,1526.6 L235.6,1528.5 L236.1,1529.7 L236.6,1532.4 L237.2,1532.3 L237.8,1535.1 L238.4,1537.4 L239.1,1535.3 L239.7,1535.1 L240.4,1534.9 L241.1,1536.8 L241.7,1537.3 L242.4,1539.6 L243.1,1541.7 L243.7,1543.6 L244.4,1541.6 L245.0,1544.8 L245.6,1545.4 L246.2,1546.4 L246.8,1547.1 L247.3,1546.7 L247.8,1549.0 L248.3,1548.7 L248.7,1551.6 L249.4,1552.9 L250.0,1555.7 L250.6,1556.8 L251.0,1558.1 L251.4,1559.9 L251.7,1560.1 L252.0,1562.2 L252.3,1562.1 L252.5,1563.0 L252.7,1562.9 L252.9,1564.3" fill="none" stroke="#1b6ddd" stroke-width="9" stroke-linejoin="round" stroke-linecap="round"/>
<path d="M112.2,1653.3 L112.9,1654.3 L113.8,1652.9 L114.8,1654.0 L116.0,1653.4 L117.2,1653.2 L118.6,1654.9 L120.1,1654.2 L121.6,1653.8 L123.1,1654.5 L124.1,1655.1 L125.3,1654.5 L126.5,1654.9 L127.8,1653.9 L129.1,1654.2 L130.4,1654.4 L131.8,1653.9 L133.1,1653.7 L134.4,1653.7 L135.7,1654.9 L136.9,1655.5 L138.0,1655.7 L139.1,1656.1 L140.0,1655.1 L141.7,1655.6 L143.0,1655.7 L144.1,1655.9 L145.0,1654.2 L146.0,1653.7 L147.2,1652.0 L148.3,1652.6 L149.6,1651.3 L150.9,1651.5 L152.2,1653.6 L153.5,1651.5 L154.8,1653.2 L155.9,1653.2 L156.8,1652.4 L157.8,1652.1 L158.5,1651.1 L159.0,1650.4 L159.6,1648.4 L160.5,1647.3 L161.5,1647.0 L162.6,1646.9 L163.8,1648.0 L165.1,1648.2 L166.4,1650.1 L167.7,1648.6 L168.9,1648.7 L170.1,1648.8 L171.4,1647.7 L172.6,1650.4 L173.9,1647.6 L175.1,1648.2 L176.2,1648.1 L177.3,1650.0 L178.6,1648.0 L179.8,1650.1 L180.9,1649.9 L182.1,1651.0 L183.4,1652.0 L184.1,1653.7 L184.8,1653.6 L185.6,1655.2 L186.4,1657.0 L187.2,1659.7 L188.0,1658.0 L188.8,1661.3 L189.6,1662.7 L190.4,1662.5 L191.1,1663.4 L191.8,1663.1 L192.7,1664.5 L193.4,1663.1 L194.2,1661.4 L194.9,1659.9 L195.6,1658.3 L196.3,1656.9 L197.0,1655.1 L197.8,1656.4 L199.0,1653.1 L200.2,1650.3 L201.5,1651.9 L202.7,1652.3 L203.9,1652.8 L205.1,1652.5 L206.4,1652.3 L207.5,1652.7 L208.7,1653.6 L209.8,1653.1 L211.1,1653.5 L212.0,1655.9 L212.8,1656.1 L213.8,1655.6 L214.7,1658.8 L215.6,1659.3 L216.5,1659.0 L217.4,1659.1 L218.3,1660.9 L219.3,1661.3 L220.2,1662.0 L221.1,1662.8 L222.0,1664.4 L222.9,1666.9 L223.7,1667.1 L224.4,1667.0 L225.5,1669.6 L226.4,1670.7 L227.2,1672.4 L228.0,1674.2 L228.6,1674.3 L229.1,1675.1 L229.7,1676.2 L230.2,1676.5 L230.9,1679.0 L231.6,1681.5 L232.0,1681.7 L232.4,1681.9 L232.9,1682.4 L233.3,1682.7 L233.8,1683.3 L234.3,1684.5 L234.8,1685.2 L235.4,1686.7 L236.0,1687.2 L236.8,1690.1 L237.6,1692.3 L237.9,1692.1 L238.3,1691.7 L238.6,1694.0 L239.0,1696.3 L239.3,1696.3 L239.7,1697.1 L240.1,1698.0 L240.5,1700.0 L240.9,1700.2 L241.4,1702.5 L241.8,1703.0 L242.2,1704.9 L242.7,1705.6 L243.1,1706.5 L243.6,1706.5 L244.0,1708.0 L244.5,1709.6 L245.0,1711.8 L245.4,1713.0 L245.9,1713.5 L246.4,1715.3 L246.9,1717.3 L247.4,1717.8 L247.8,1718.6 L248.3,1719.7 L248.8,1721.8 L249.3,1723.1 L249.8,1723.1 L250.2,1724.9 L250.7,1725.7 L251.2,1726.6 L251.6,1728.7 L252.1,1729.9 L252.6,1730.2 L253.0,1731.4 L253.5,1732.8 L254.0,1733.4 L254.5,1734.6 L254.9,1736.1 L255.4,1736.0 L255.9,1737.9 L256.4,1739.5 L256.9,1740.6 L257.4,1740.6 L257.9,1742.3 L258.4,1742.9 L258.9,1744.7 L259.4,1746.0 L259.9,1747.0 L260.4,1747.5 L260.9,1748.5 L261.4,1750.4 L261.9,1750.8 L262.4,1752.5 L262.8,1753.8 L263.3,1754.5 L263.8,1757.1 L264.3,1757.4 L264.8,1759.4 L265.3,1758.5 L265.8,1758.8 L266.3,1761.4 L266.7,1762.9 L267.2,1763.6 L267.6,1764.7 L268.1,1765.2 L268.6,1766.6 L269.1,1767.7 L269.5,1769.2 L270.0,1770.9 L270.5,1772.0 L270.9,1773.2 L271.4,1774.0 L271.9,1775.2 L272.4,1776.6 L272.8,1777.7 L273.3,1779.5 L273.8,1780.1 L274.2,1782.1 L274.7,1782.5 L275.2,1784.2 L275.6,1784.8 L276.1,1786.8 L276.5,1787.6 L277.0,1788.7 L277.4,1790.0 L277.9,1790.6 L278.3,1791.4 L278.8,1791.9 L279.2,1794.1 L279.6,1794.8 L280.1,1795.7 L280.5,1796.9 L280.9,1798.7 L281.5,1798.9 L282.1,1800.6 L282.6,1801.8 L283.2,1803.4 L283.7,1803.8 L284.2,1805.3 L284.7,1807.0 L285.2,1808.7 L285.7,1810.0 L286.2,1810.2 L286.7,1811.3 L287.2,1812.4 L287.7,1812.9 L288.2,1813.8 L288.7,1815.6 L289.2,1816.7 L289.7,1817.6 L290.3,1819.2 L290.8,1819.5 L291.3,1820.9 L291.9,1821.9 L292.4,1822.9 L293.0,1824.2 L293.6,1825.2 L294.2,1826.3 L294.8,1827.3 L295.4,1829.0 L296.0,1829.4 L296.6,1830.7 L297.2,1831.7 L297.9,1832.3 L298.5,1833.6 L299.1,1834.1 L299.8,1835.7 L300.4,1836.1 L301.1,1837.1 L301.7,1838.4 L302.4,1839.7 L303.0,1840.9 L303.6,1841.9 L304.3,1842.6 L304.9,1843.2 L305.6,1844.7 L306.2,1845.9 L306.9,1846.5 L307.5,1848.3 L308.0,1849.2 L308.6,1849.7 L309.1,1851.1 L309.7,1851.6 L310.2,1852.7 L310.8,1854.3 L311.4,1854.8 L311.9,1856.4 L312.5,1857.1 L313.1,1859.0 L313.6,1859.8 L314.2,1861.2 L314.7,1861.7 L315.3,1863.1 L315.9,1864.9 L316.4,1866.0 L317.0,1866.3 L317.5,1868.2 L318.0,1869.5 L318.6,1870.2 L319.1,1871.8 L319.6,1872.1 L320.1,1873.2 L320.6,1874.7 L321.1,1875.9 L321.6,1876.9 L322.1,1876.9 L322.8,1877.7 L323.6,1879.7 L324.3,1880.6 L324.9,1882.2 L325.6,1883.1 L326.2,1885.1 L326.9,1886.5 L327.5,1887.6 L328.1,1888.5 L328.7,1889.5 L329.4,1890.3 L330.0,1891.5 L330.6,1892.4 L331.2,1893.3 L331.8,1893.8 L332.4,1895.3 L333.0,1895.7 L334.2,1897.1 L335.3,1898.1 L336.4,1898.0 L337.5,1898.0 L338.6,1899.3 L339.7,1899.3 L340.8,1899.4 L342.0,1899.1 L343.2,1898.9 L344.0,1898.1 L344.9,1898.0 L345.7,1897.4 L346.5,1897.0 L347.3,1895.5 L348.1,1895.7 L349.0,1895.0 L349.9,1893.3 L350.8,1892.4 L351.7,1891.6 L352.7,1890.8 L353.8,1889.4 L354.9,1888.6 L355.5,1887.5 L356.1,1886.2 L356.7,1885.3 L357.4,1885.0 L358.0,1883.8 L358.7,1883.3 L359.4,1882.6 L360.1,1881.5 L360.9,1880.6 L361.6,1879.2 L362.3,1878.1 L363.1,1876.8 L363.8,1875.6 L364.6,1874.1 L365.3,1873.3 L366.1,1872.1 L366.8,1870.9 L367.6,1870.3 L368.3,1869.6 L369.0,1868.3 L369.7,1867.9 L370.4,1866.9 L371.1,1866.0 L371.8,1864.4 L372.5,1862.8 L373.1,1862.5 L373.9,1861.5 L374.6,1860.6 L375.4,1859.4 L376.1,1858.7 L376.9,1857.1 L377.6,1856.2 L378.3,1854.6 L379.0,1852.8 L379.7,1852.2 L380.4,1852.1 L381.1,1850.1 L381.7,1849.8 L382.4,1848.4 L383.1,1847.4 L383.7,1846.5 L384.4,1845.6 L385.0,1844.2 L385.7,1843.5 L386.3,1842.8 L387.0,1842.0 L387.6,1840.5 L388.3,1840.1 L389.1,1839.3 L389.8,1838.4 L390.5,1835.8 L391.1,1834.6 L391.8,1832.6 L392.5,1831.9 L393.1,1830.9 L393.8,1829.1 L394.4,1827.6 L395.1,1827.0 L395.8,1826.4 L396.4,1825.0 L397.1,1824.2 L397.8,1822.6 L398.5,1822.4 L399.3,1822.4 L400.0,1822.2 L401.0,1822.7 L402.0,1822.0 L403.1,1821.8 L404.2,1823.4 L405.3,1824.1 L406.4,1825.5 L407.5,1826.9 L408.6,1828.0 L409.7,1829.4 L410.8,1830.5 L411.8,1830.1 L412.8,1830.9 L413.8,1832.1 L414.7,1831.4 L415.5,1831.4 L416.3,1830.6 L417.0,1829.6 L417.7,1829.5 L418.3,1828.6 L418.9,1827.0 L419.6,1826.1 L420.2,1824.1 L420.8,1822.8 L421.4,1822.1 L422.1,1820.6 L422.7,1818.8 L423.4,1818.0 L424.1,1816.8 L424.9,1816.1 L425.6,1815.1 L426.3,1813.5 L427.0,1812.1 L427.7,1810.9 L428.5,1809.6 L429.2,1809.0 L430.0,1808.0 L430.8,1806.7 L431.6,1805.0 L432.4,1803.5 L433.2,1802.6 L433.9,1801.2 L434.7,1800.3 L435.5,1798.7 L436.2,1798.2 L437.0,1798.5 L437.7,1797.4 L438.4,1796.7 L439.3,1797.1 L440.1,1798.3 L440.9,1799.0 L441.8,1799.2 L442.5,1799.9 L443.3,1801.1 L444.1,1802.0 L444.9,1803.6 L445.7,1804.9 L446.4,1805.8 L447.2,1807.3 L448.0,1808.7 L448.9,1809.6 L449.7,1810.4 L450.6,1812.1 L451.6,1813.9 L452.6,1814.5 L453.5,1815.5 L454.5,1817.0 L455.5,1818.1 L456.5,1818.9 L457.5,1820.6 L458.5,1820.7 L459.5,1821.1 L460.4,1821.3 L461.3,1821.1 L462.2,1820.8 L462.7,1820.8 L463.1,1820.6 L463.6,1819.7 L464.0,1818.4 L464.5,1816.8 L464.9,1815.9 L465.4,1814.3 L465.8,1813.2 L466.2,1812.3 L466.6,1810.7 L467.0,1809.0 L467.5,1807.2 L467.9,1805.8 L468.3,1804.4 L468.7,1802.6 L469.1,1801.1 L469.5,1800.3 L469.9,1798.1 L470.3,1797.1 L470.7,1795.7 L471.1,1795.6 L471.5,1794.7 L471.9,1793.9 L472.3,1793.2 L473.7,1792.0 L475.1,1792.0 L476.5,1792.1 L477.8,1793.7 L479.1,1795.1 L480.3,1795.0 L481.4,1795.3 L481.9,1794.8 L482.5,1793.2 L482.9,1792.4 L483.4,1791.4 L483.8,1790.1 L484.2,1789.2 L484.6,1787.3 L485.0,1786.1 L485.4,1784.9 L485.8,1783.8 L486.2,1782.2 L486.6,1780.6 L487.0,1779.6 L487.4,1777.5 L487.7,1777.1 L488.1,1775.7 L488.4,1774.0 L488.8,1772.9 L489.1,1771.2 L489.5,1769.7 L489.8,1769.0 L490.2,1767.7 L490.6,1767.1 L490.9,1765.5 L491.3,1764.0 L491.8,1762.8 L492.2,1762.7 L492.7,1761.4 L493.3,1759.8 L493.8,1758.4 L494.4,1757.2 L495.0,1756.5 L495.6,1755.8 L496.2,1755.2 L496.9,1754.4 L497.6,1753.1 L498.3,1751.7 L499.1,1750.4 L499.9,1748.7 L500.8,1747.9 L501.7,1747.5 L502.4,1746.6 L503.2,1746.0 L503.9,1744.6 L504.7,1744.5 L505.6,1743.6 L506.4,1742.7 L507.3,1741.9 L508.2,1740.0 L509.1,1739.5 L510.0,1738.6 L510.9,1738.7 L511.9,1737.4 L512.8,1736.3 L513.8,1735.8 L514.7,1734.3 L515.7,1734.1 L516.7,1732.6 L517.6,1731.7 L518.4,1730.6 L519.2,1730.3 L520.1,1728.5 L520.9,1728.4 L521.7,1727.1 L522.6,1726.4 L523.4,1725.1 L524.3,1724.6 L525.2,1723.8 L526.0,1723.0 L526.9,1722.1 L527.8,1721.3 L528.6,1720.5 L529.5,1719.2 L530.4,1717.8 L531.3,1716.8 L532.1,1716.6 L533.0,1715.7 L533.9,1715.4 L534.7,1714.5 L535.6,1713.4 L536.7,1713.1 L537.9,1713.0 L539.0,1711.7 L540.2,1710.5 L541.3,1709.7 L542.5,1709.8 L543.6,1708.9 L544.8,1708.3 L545.9,1708.3 L547.1,1707.7 L548.2,1707.2 L549.3,1706.5 L550.4,1705.9 L551.5,1705.7 L552.6,1705.3 L553.7,1704.9 L554.9,1704.0 L556.1,1703.6 L557.2,1703.2 L558.3,1702.5 L559.5,1702.1 L560.6,1701.8 L561.7,1701.0 L562.8,1700.3 L563.9,1699.3 L565.0,1699.1 L566.1,1698.5 L567.2,1697.8 L568.4,1697.0 L569.6,1696.9 L570.7,1697.3 L571.7,1696.3 L572.8,1695.4 L573.8,1694.9 L574.9,1693.9 L576.0,1693.5 L577.1,1692.7 L578.2,1692.0 L579.3,1691.8 L580.4,1691.3 L581.6,1690.6 L582.7,1689.8 L583.9,1689.5 L585.1,1688.5 L586.3,1688.4 L587.6,1687.6 L588.6,1687.2 L589.7,1687.0 L590.8,1686.6 L591.9,1685.3 L593.1,1685.0 L594.3,1684.8 L595.4,1683.8 L596.6,1682.6 L597.8,1682.8 L599.0,1682.5 L600.2,1682.2 L601.4,1681.7 L602.6,1681.2 L603.8,1680.7 L604.9,1680.7 L606.0,1680.0 L607.1,1679.4 L608.2,1678.5 L609.2,1678.5 L610.2,1677.7 L611.5,1677.3 L612.7,1675.6 L613.8,1675.5 L615.0,1675.0 L616.1,1674.2 L617.2,1674.2 L618.2,1673.5 L619.2,1672.6 L620.2,1671.7 L621.2,1672.0 L622.2,1671.3 L623.2,1670.6 L624.2,1669.4 L625.1,1669.5 L626.1,1668.9 L627.3,1667.8 L628.6,1667.0 L629.8,1665.6 L631.0,1665.5 L632.2,1664.3 L633.4,1664.1 L634.6,1663.2 L635.7,1662.4 L636.8,1662.3 L637.8,1662.0 L638.7,1661.3 L639.6,1661.5 L640.7,1662.1 L641.6,1662.5 L642.4,1662.7 L643.2,1663.9 L643.9,1664.9 L644.5,1666.2 L645.1,1667.8 L645.8,1669.3 L646.4,1670.7 L646.8,1671.2 L647.2,1673.0 L647.6,1674.3 L648.0,1675.7 L648.3,1677.5 L648.7,1679.8 L649.0,1680.4 L649.3,1681.5 L649.7,1683.6 L650.0,1684.6 L650.3,1686.4 L650.7,1686.6 L651.0,1687.1 L651.4,1687.9 L651.8,1688.0 L652.2,1687.4 L652.6,1686.4 L653.1,1684.9 L653.5,1683.3 L653.9,1681.7 L654.3,1680.7 L654.7,1679.1 L655.2,1677.3 L655.6,1676.1 L656.1,1675.3 L656.6,1674.8 L657.8,1674.1 L659.0,1674.9 L660.4,1676.3 L661.8,1678.0 L663.4,1676.9 L663.9,1676.5 L664.5,1674.7 L665.1,1674.4 L665.7,1672.7 L666.3,1671.5 L666.9,1670.4 L667.6,1669.4 L668.2,1668.3 L668.9,1667.1 L669.5,1665.8 L670.2,1664.3 L670.9,1664.2 L671.6,1662.6 L672.2,1661.5 L672.9,1661.2 L673.6,1660.2 L674.8,1659.0 L675.9,1658.1 L677.0,1658.1 L678.1,1656.9 L679.3,1656.4 L680.5,1656.5 L681.9,1655.7 L683.3,1655.8 L684.9,1656.3 L686.0,1655.8 L687.1,1655.8 L688.3,1655.8 L689.6,1655.0 L690.9,1655.1 L692.3,1654.7 L693.7,1654.3 L695.1,1654.3 L696.5,1654.3 L697.8,1654.1 L699.1,1653.9 L700.4,1654.8 L701.5,1655.3 L702.6,1654.9 L703.6,1654.2 L705.4,1653.4 L706.8,1653.8 L708.0,1654.1 L709.1,1655.8 L710.1,1657.2 L711.3,1657.6 L712.6,1656.6 L713.4,1655.6 L714.2,1655.2 L715.0,1654.3 L715.8,1653.7 L716.7,1653.4 L717.5,1650.8 L718.4,1651.4 L719.3,1647.3 L720.2,1645.5 L721.1,1644.6 L722.0,1644.2 L722.9,1644.5 L723.9,1646.5 L724.9,1645.0 L725.8,1646.3 L726.8,1645.9 L727.8,1646.7 L728.9,1646.6 L729.9,1650.0 L730.9,1649.9 L732.0,1650.0 L733.1,1653.1 L734.2,1653.0 L735.3,1653.6 L736.4,1653.7 L737.5,1653.3 L738.7,1652.8 L739.9,1653.8 L741.1,1655.7 L742.3,1655.4 L743.6,1654.8 L744.9,1655.6 L746.2,1654.1 L747.5,1655.4 L748.7,1654.5 L749.9,1653.3 L751.1,1654.0 L752.2,1653.8 L753.3,1652.8 L754.4,1652.5 L755.4,1652.6 L756.4,1652.3 L757.4,1649.8 L758.3,1646.7 L759.2,1648.9 L760.1,1647.1 L761.0,1645.8 L761.9,1645.6 L762.8,1644.4 L763.7,1644.9 L764.6,1643.0 L765.7,1643.3 L766.9,1642.8 L768.1,1645.4 L769.2,1645.4 L770.4,1647.0 L771.5,1648.3 L772.7,1647.0 L773.8,1647.7 L774.9,1648.8 L775.9,1648.5 L776.9,1647.9 L777.7,1647.9 L778.5,1647.2 L779.3,1645.0 L780.0,1643.8 L780.8,1643.2 L781.7,1641.9 L782.6,1640.8 L783.7,1638.9 L785.0,1640.5 L785.9,1639.3 L787.0,1639.4 L788.0,1639.2 L789.2,1639.3 L790.3,1639.5 L791.6,1638.9 L792.8,1639.9 L794.1,1641.1 L795.4,1641.1 L796.7,1641.5 L798.0,1641.6 L799.3,1641.5 L800.5,1643.0 L801.8,1641.5 L803.0,1641.9 L804.2,1642.6 L805.4,1642.2 L806.7,1640.9 L807.9,1640.3 L809.2,1642.3 L810.4,1640.8 L811.7,1641.0 L812.9,1641.4 L814.2,1641.1 L815.4,1639.3 L816.6,1638.6 L817.8,1639.7 L818.9,1639.5 L820.0,1639.9 L821.1,1640.3 L822.5,1640.5 L823.8,1639.3 L825.1,1638.6 L826.4,1640.5 L827.6,1639.9 L828.8,1639.3 L829.9,1638.5 L831.1,1640.4 L832.3,1639.8 L833.5,1639.9 L834.7,1641.7 L835.8,1642.3 L836.8,1643.0 L837.9,1642.0 L839.0,1640.6 L840.1,1642.1 L841.2,1643.6 L842.3,1644.2 L843.4,1646.2 L844.5,1646.9 L845.5,1646.4 L846.5,1648.1 L847.4,1648.6 L848.3,1649.1 L849.2,1651.1 L850.0,1650.1 L850.8,1652.5 L851.5,1654.0 L852.2,1652.5 L853.0,1654.2 L853.6,1655.5 L854.3,1655.8 L854.9,1657.1 L855.5,1658.2 L856.1,1660.1 L856.7,1661.1 L857.3,1661.0 L857.7,1664.3 L858.0,1665.9 L858.4,1665.7 L858.7,1667.8 L859.1,1670.2 L859.4,1668.8 L859.7,1670.1 L860.0,1671.2 L860.3,1673.1 L860.6,1674.2 L860.9,1675.0 L861.1,1677.2 L861.4,1678.1 L861.7,1679.7 L861.9,1681.7 L862.2,1682.0 L862.5,1683.0 L862.7,1684.7 L863.0,1685.7 L863.3,1687.0 L863.5,1688.0 L863.8,1690.3 L864.0,1690.9 L864.3,1691.8 L864.5,1692.8 L864.8,1694.0 L865.0,1694.4 L865.3,1695.8 L865.5,1697.4 L865.7,1698.0 L866.0,1699.5 L866.2,1700.7 L866.4,1701.8 L866.6,1704.1 L866.9,1705.1 L867.1,1706.1 L867.3,1706.8 L867.5,1708.3 L867.7,1709.3 L867.9,1710.5 L868.0,1711.7 L868.2,1713.8 L868.3,1714.8 L868.5,1716.0 L868.7,1717.0 L868.8,1718.7 L869.0,1718.6 L869.1,1719.1 L869.3,1720.7 L869.4,1722.0 L869.6,1723.2 L869.7,1724.1 L869.9,1725.8 L870.0,1727.6 L870.1,1728.6 L870.3,1729.6 L870.4,1731.5 L870.6,1732.5 L870.7,1733.8 L870.9,1735.5 L871.0,1735.5 L871.1,1737.9 L871.2,1738.6 L871.3,1739.8 L871.4,1740.9 L871.5,1742.0 L871.6,1742.5 L871.7,1744.6 L871.8,1745.6 L871.9,1746.6 L872.0,1748.9 L872.1,1748.7 L872.2,1750.2 L872.3,1751.3 L872.4,1751.9 L872.5,1754.2 L872.6,1754.5 L872.7,1756.1 L872.8,1757.3 L872.9,1758.7 L873.0,1759.6 L873.1,1761.6 L873.2,1762.7 L873.3,1763.3 L873.4,1764.4 L873.5,1766.1 L873.6,1767.0 L873.7,1768.7 L873.8,1770.1 L873.9,1771.0 L874.0,1771.6 L874.1,1772.9 L874.2,1774.8 L874.3,1775.9 L874.4,1777.9 L874.5,1778.5 L874.6,1779.8 L874.7,1781.2 L874.8,1782.2 L874.9,1783.4 L875.0,1784.8 L875.1,1785.6 L875.2,1786.9 L875.3,1787.8 L875.4,1789.8 L875.5,1790.5 L875.6,1791.8 L875.7,1791.5 L875.8,1793.2 L875.9,1794.3 L876.0,1795.8 L876.1,1797.0 L876.2,1797.9 L876.3,1799.3 L876.4,1801.0 L876.5,1802.5 L876.6,1803.1 L876.7,1804.8 L876.8,1805.5 L876.9,1807.0 L877.0,1807.7 L877.1,1809.6 L877.2,1811.5 L877.3,1812.0 L877.3,1813.5 L877.4,1813.9 L877.5,1815.1 L877.6,1817.7 L877.7,1818.2 L877.7,1819.4 L877.8,1819.7 L877.9,1821.2 L877.9,1822.2 L878.0,1824.1 L878.0,1824.9 L878.1,1827.1 L878.2,1827.3 L878.2,1828.7 L878.3,1829.1 L878.3,1830.6 L878.4,1832.6 L878.4,1833.6 L878.5,1834.3 L878.5,1836.0 L878.6,1837.6 L878.6,1838.8 L878.7,1840.2 L878.7,1840.6 L878.7,1842.8 L878.8,1844.0 L878.8,1844.1 L878.9,1846.5 L879.0,1847.2 L879.0,1848.6 L879.1,1849.0 L879.1,1850.4 L879.2,1851.2 L879.2,1853.4 L879.3,1854.5 L879.4,1855.4 L879.4,1856.7 L879.5,1858.5 L879.6,1859.1 L879.7,1860.6 L879.7,1861.2 L879.8,1862.0 L879.9,1863.4 L880.0,1864.9 L880.1,1866.5 L880.2,1868.1 L880.3,1869.0 L880.4,1870.2 L880.6,1871.9 L880.7,1873.1 L880.8,1874.2 L880.9,1875.5 L881.1,1875.9 L881.2,1877.4 L881.3,1878.4 L881.5,1880.0 L881.6,1881.9 L881.7,1882.3 L881.9,1884.3 L882.0,1885.2 L882.1,1886.4 L882.3,1887.5 L882.4,1889.2 L882.6,1890.0 L882.7,1890.5 L882.9,1892.3 L883.0,1893.5 L883.1,1895.0 L883.3,1896.2 L883.4,1896.7 L883.6,1898.1 L883.7,1899.3 L883.9,1900.4 L884.0,1901.5 L884.1,1902.6 L884.3,1903.4 L884.4,1904.5 L884.6,1906.4 L884.8,1907.2 L885.0,1908.8 L885.2,1909.9 L885.4,1911.2 L885.5,1912.8 L885.7,1914.5 L885.9,1916.5 L886.1,1917.4 L886.3,1919.0 L886.5,1920.2 L886.7,1921.3 L886.9,1921.2 L887.1,1923.3 L887.3,1924.7 L887.5,1925.5 L887.7,1927.0 L887.9,1928.7 L888.0,1929.0 L888.2,1930.0 L888.4,1931.5 L888.6,1931.6 L888.8,1932.5 L889.0,1933.9 L889.5,1936.3 L889.9,1938.4 L890.4,1940.1 L890.8,1942.2 L891.3,1943.0 L891.7,1943.3 L892.2,1944.3 L892.6,1945.2 L893.1,1945.6 L893.5,1944.6 L893.8,1945.0 L894.2,1944.4 L894.5,1944.1 L894.9,1944.2 L895.2,1943.1 L895.6,1941.8 L895.9,1940.8 L896.3,1939.3 L896.6,1938.8 L897.0,1936.9 L897.3,1934.9 L897.7,1932.0 L898.0,1929.2 L898.1,1928.7 L898.2,1927.0 L898.3,1927.1 L898.4,1925.6 L898.5,1924.9 L898.6,1924.1 L898.7,1922.7 L898.8,1922.0 L898.9,1921.1 L899.0,1920.5 L899.1,1919.0 L899.2,1918.2 L899.3,1916.6 L899.4,1914.9 L899.5,1914.0 L899.6,1912.2 L899.7,1911.0 L899.8,1909.9 L899.9,1908.9 L900.0,1907.3 L900.1,1905.2 L900.2,1904.6 L900.3,1903.1 L900.4,1901.5 L900.5,1899.9 L900.6,1898.9 L900.7,1897.6 L900.8,1896.4 L900.9,1894.8 L901.0,1894.0 L901.1,1892.2 L901.2,1890.9 L901.3,1889.5 L901.4,1888.5 L901.5,1886.7 L901.6,1885.4 L901.7,1884.1 L901.8,1882.7 L901.9,1881.5 L902.0,1880.1 L902.1,1879.6 L902.2,1879.0 L902.3,1877.1 L902.4,1876.5 L902.5,1874.8 L902.7,1873.3 L902.8,1871.9 L903.0,1870.7 L903.1,1869.4 L903.3,1867.1 L903.4,1865.5 L903.6,1864.6 L903.7,1863.2 L903.9,1862.8 L904.0,1860.8 L904.2,1859.0 L904.4,1858.3 L904.5,1855.7 L904.7,1854.2 L904.8,1854.7 L905.0,1852.7 L905.1,1851.5 L905.3,1850.3 L905.4,1848.8 L905.6,1847.9 L905.7,1846.4 L905.9,1846.1 L906.0,1845.3 L906.2,1844.3 L906.3,1842.8 L906.5,1841.3 L906.6,1840.8 L906.7,1839.9 L906.9,1839.6 L907.0,1838.3 L907.9,1834.5 L908.7,1833.1 L909.5,1833.2 L910.4,1834.6 L910.6,1834.6 L910.9,1835.2 L911.1,1837.1 L911.4,1837.9 L911.6,1838.1 L911.9,1840.0 L912.2,1840.6 L912.4,1841.7 L912.7,1842.6 L913.0,1844.8 L913.3,1845.9 L913.5,1847.2 L913.8,1848.3 L914.1,1849.6 L914.4,1851.6 L914.6,1853.3 L914.9,1855.5 L915.1,1855.7 L915.2,1856.7 L915.4,1858.3 L915.5,1859.5 L915.7,1860.1 L915.9,1861.9 L916.0,1863.0 L916.2,1864.3 L916.3,1865.3 L916.5,1866.8 L916.7,1867.6 L916.8,1868.8 L917.0,1870.5 L917.1,1871.7 L917.3,1873.0 L917.5,1874.6 L917.6,1875.6 L917.8,1876.9 L917.9,1877.2 L918.1,1878.7 L918.3,1880.6 L918.4,1881.4 L918.6,1882.8 L918.8,1884.2 L919.0,1885.3 L919.1,1886.9 L919.3,1888.0 L919.5,1888.8 L919.7,1890.6 L919.9,1891.5 L920.2,1892.6 L920.4,1894.3 L920.6,1896.0 L920.9,1897.2 L921.1,1898.2 L921.3,1899.6 L921.6,1901.3 L921.8,1903.0 L922.0,1904.9 L922.3,1905.6 L922.5,1906.7 L922.8,1907.1 L923.0,1909.3 L923.3,1910.6 L923.5,1911.4 L923.8,1912.0 L924.0,1912.0 L924.3,1913.9 L924.6,1914.4 L924.8,1915.8 L925.1,1916.4 L926.2,1918.0 L927.4,1918.1 L928.6,1918.1 L929.8,1916.1 L930.9,1914.8 L931.9,1911.5 L932.1,1910.3 L932.3,1909.6 L932.4,1908.6 L932.6,1908.1 L932.8,1906.8 L933.0,1905.5 L933.1,1904.7 L933.3,1903.7 L933.5,1902.7 L933.6,1901.8 L933.8,1900.8 L933.9,1899.3 L934.1,1898.4 L934.2,1895.6 L934.4,1894.7 L934.5,1893.9 L934.6,1891.8 L934.8,1890.6 L934.9,1889.5 L935.1,1887.5 L935.2,1886.3 L935.3,1885.4 L935.5,1883.9 L935.6,1883.2 L935.7,1882.4 L935.9,1880.4 L936.0,1878.5 L936.1,1877.4 L936.3,1876.1 L936.4,1874.5 L936.6,1873.5 L936.7,1872.3 L936.8,1871.2 L937.0,1870.5 L937.1,1869.6 L937.3,1868.3 L937.4,1866.8 L937.5,1865.8 L937.7,1864.6 L937.8,1863.6 L937.9,1862.0 L938.0,1860.0 L938.2,1860.1 L938.3,1858.8 L938.4,1857.6 L938.5,1856.7 L938.7,1855.6 L938.8,1854.3 L938.9,1853.8 L939.0,1852.2 L939.2,1850.8 L939.3,1849.1 L939.4,1847.8 L939.5,1846.7 L939.7,1845.1 L939.8,1843.7 L939.9,1842.2 L940.0,1841.5 L940.1,1840.0 L940.1,1838.9 L940.2,1837.6 L940.3,1836.6 L940.4,1835.8 L940.5,1834.4 L940.6,1832.5 L940.6,1831.4 L940.7,1830.4 L940.8,1829.0 L940.9,1827.5 L941.0,1825.4 L941.1,1823.9 L941.1,1822.4 L941.2,1821.0 L941.3,1819.9 L941.4,1818.5 L941.5,1816.9 L941.6,1815.8 L941.6,1814.0 L941.7,1812.6 L941.8,1811.4 L941.9,1809.5 L942.0,1808.2 L942.1,1806.7 L942.2,1805.5 L942.2,1804.7 L942.3,1803.6 L942.4,1802.7 L942.5,1801.7 L942.6,1800.1 L942.7,1800.1 L942.8,1799.4 L942.8,1797.5 L942.9,1796.6 L943.0,1795.9 L943.1,1795.6 L943.2,1795.2 L943.9,1792.2 L944.6,1791.0 L945.4,1794.4 L946.2,1797.1 L947.0,1800.5 L947.2,1800.6 L947.4,1801.6 L947.6,1802.9 L947.7,1803.5 L947.9,1805.1 L948.1,1806.1 L948.3,1807.8 L948.5,1808.7 L948.8,1810.5 L949.0,1810.8 L949.2,1813.0 L949.4,1814.3 L949.6,1815.4 L949.8,1817.2 L950.0,1818.3 L950.2,1820.0 L950.4,1821.5 L950.6,1822.9 L950.8,1824.7 L951.0,1825.8 L951.2,1827.3 L951.4,1827.9 L951.6,1828.5 L951.8,1829.4 L952.0,1830.1 L952.5,1831.9 L953.0,1834.2 L953.5,1835.5 L954.0,1837.1 L954.4,1838.2 L954.9,1838.9 L955.4,1839.2 L956.0,1839.9 L956.7,1839.6 L957.4,1838.9 L958.2,1837.2 L959.0,1835.4 L959.8,1833.3 L960.6,1832.1 L961.3,1831.5 L961.8,1831.9 L962.2,1833.3 L962.7,1834.2 L963.1,1835.5 L963.6,1836.7 L964.0,1839.0 L964.4,1840.2 L964.8,1842.0 L965.2,1843.0 L965.6,1844.5 L966.0,1844.8 L966.9,1846.5 L967.6,1849.0 L968.3,1849.6 L969.2,1849.3 L969.5,1849.0 L969.9,1848.4 L970.3,1847.3 L970.7,1845.7 L971.1,1844.5 L971.6,1843.5 L972.0,1842.5 L972.4,1841.1 L972.8,1839.6 L973.2,1837.7 L973.6,1836.4 L974.0,1835.3 L974.3,1833.7 L974.5,1832.5 L974.8,1832.0 L975.0,1831.3 L975.3,1829.9 L975.5,1828.5 L975.7,1826.8 L975.9,1825.8 L976.2,1824.3 L976.4,1823.3 L976.7,1822.3 L976.9,1821.0 L977.2,1820.0 L977.4,1817.8 L977.7,1815.9 L978.0,1815.3 L978.2,1814.4 L978.4,1812.5 L978.6,1811.4 L978.8,1809.7 L979.0,1808.5 L979.3,1807.2 L979.5,1806.0 L979.7,1803.8 L979.9,1801.9 L980.2,1800.9 L980.4,1799.2 L980.6,1798.3 L980.9,1796.0 L981.1,1794.5 L981.4,1792.3 L981.6,1792.2 L981.9,1791.5 L982.1,1790.2 L982.4,1788.8 L982.6,1787.2 L982.9,1786.5 L983.2,1786.3 L983.4,1786.9 L983.7,1786.7 L984.0,1786.2 L984.3,1786.8 L984.6,1787.7 L984.9,1788.7 L985.2,1789.3 L985.5,1790.7 L985.8,1792.8 L986.1,1794.5 L986.5,1795.9 L986.8,1798.7 L987.1,1800.0 L987.5,1801.4 L987.8,1803.5 L988.2,1805.2 L988.6,1806.4 L988.9,1808.4 L989.4,1809.6 L989.8,1810.1 L990.2,1811.0 L990.7,1811.4 L991.2,1811.1 L991.6,1811.2 L992.1,1810.4 L992.5,1809.9 L993.0,1809.5 L993.5,1808.0 L994.0,1807.1 L994.5,1805.8 L995.1,1805.1 L995.6,1803.5 L996.2,1802.9 L996.8,1801.6 L997.3,1799.3 L997.9,1797.8 L998.5,1796.1 L999.1,1794.6 L999.6,1793.4 L1000.2,1792.3 L1000.8,1791.3 L1001.3,1789.9 L1001.9,1787.5 L1002.4,1786.2 L1002.9,1785.2 L1003.5,1784.2 L1004.0,1783.6 L1004.4,1783.2 L1004.9,1782.4 L1005.9,1781.7 L1006.9,1782.6 L1007.9,1782.6 L1008.8,1783.8 L1009.7,1783.8 L1010.6,1785.4 L1011.4,1787.1 L1012.3,1788.6 L1013.1,1789.3 L1014.0,1791.1 L1014.8,1792.3 L1015.3,1792.9 L1015.7,1794.4 L1016.2,1796.1 L1016.7,1797.4 L1017.1,1799.0 L1017.6,1801.0 L1018.0,1802.3 L1018.5,1804.3 L1018.9,1806.3 L1019.4,1808.1 L1019.8,1809.7 L1020.3,1810.7 L1020.7,1812.2 L1021.1,1813.4 L1021.5,1814.9 L1021.9,1814.9 L1022.3,1816.0 L1022.7,1815.8 L1023.1,1816.5 L1023.5,1815.9 L1023.7,1815.7 L1023.9,1815.6 L1024.1,1815.5 L1024.3,1813.9 L1024.5,1813.2 L1024.6,1811.5 L1024.8,1810.9 L1025.0,1809.8 L1025.2,1809.1 L1025.3,1807.8 L1025.5,1806.5 L1025.6,1804.7 L1025.8,1803.5 L1026.0,1801.7 L1026.1,1800.6 L1026.3,1798.6 L1026.4,1797.6 L1026.6,1796.5 L1026.8,1795.7 L1026.9,1793.9 L1027.1,1792.2 L1027.2,1790.4 L1027.4,1789.0 L1027.5,1786.9 L1027.7,1785.4 L1027.8,1783.0 L1028.0,1781.8 L1028.2,1781.1 L1028.3,1778.9 L1028.5,1778.1 L1028.6,1776.9 L1028.8,1775.6 L1029.0,1774.8 L1029.2,1773.7 L1029.3,1772.4 L1029.5,1771.8 L1029.7,1770.5 L1030.9,1769.0 L1032.2,1768.4 L1033.5,1769.3 L1034.7,1769.7 L1036.0,1770.8 L1037.2,1769.4 L1037.5,1768.4 L1037.8,1767.4 L1038.1,1766.4 L1038.3,1764.8 L1038.6,1763.6 L1038.9,1762.2 L1039.1,1761.0 L1039.4,1760.0 L1039.7,1758.5 L1039.9,1756.6 L1040.2,1755.1 L1040.4,1753.2 L1040.7,1751.4 L1040.9,1749.4 L1041.2,1747.9 L1041.5,1746.6 L1041.7,1745.8 L1042.0,1744.8 L1042.3,1744.0 L1042.5,1743.5 L1042.8,1742.8 L1043.1,1741.9 L1043.4,1741.4 L1043.9,1741.3 L1044.3,1742.1 L1044.8,1742.5 L1045.3,1743.4 L1045.8,1745.2 L1046.3,1747.6 L1046.8,1749.7 L1047.3,1751.4 L1047.8,1752.3 L1048.4,1754.3 L1048.9,1756.3 L1049.4,1757.9 L1049.9,1759.2 L1050.4,1758.8 L1050.9,1759.0 L1051.3,1758.0 L1051.6,1757.7 L1052.0,1757.0 L1052.3,1756.4 L1052.7,1755.2 L1053.1,1753.1 L1053.4,1752.0 L1053.8,1750.8 L1054.1,1749.7 L1054.5,1747.4 L1054.9,1745.4 L1055.2,1743.8 L1055.6,1742.8 L1055.9,1740.9 L1056.3,1739.5 L1056.6,1738.3 L1057.0,1736.6 L1057.3,1736.2 L1057.6,1734.5 L1058.0,1734.9 L1058.3,1733.9 L1058.8,1733.4 L1059.3,1733.5 L1059.8,1733.7 L1060.3,1734.4 L1060.8,1735.3 L1061.3,1736.3 L1061.8,1738.0 L1062.2,1739.8 L1062.7,1741.1 L1063.2,1743.1 L1063.6,1744.7 L1064.1,1746.9 L1064.6,1748.8 L1064.8,1749.3 L1065.0,1750.6 L1065.2,1751.6 L1065.4,1752.4 L1065.6,1753.7 L1065.8,1755.1 L1066.0,1755.7 L1066.2,1757.0 L1066.4,1758.7 L1066.6,1759.9 L1066.8,1761.5 L1067.0,1763.5 L1067.2,1763.7 L1067.4,1765.2 L1067.6,1766.4 L1067.8,1768.4 L1068.0,1769.6 L1068.2,1770.2 L1068.4,1772.2 L1068.6,1773.3 L1068.8,1774.5 L1069.0,1775.9 L1069.2,1777.2 L1069.4,1778.1 L1069.6,1779.4 L1069.8,1781.3 L1070.0,1781.8 L1070.2,1782.8 L1070.4,1784.4 L1070.6,1784.9 L1070.8,1786.0 L1071.1,1787.9 L1071.5,1789.2 L1071.8,1790.9 L1072.2,1792.4 L1072.5,1794.2 L1072.8,1796.1 L1073.2,1797.6 L1073.5,1799.2 L1073.8,1800.6 L1074.2,1802.1 L1074.5,1802.7 L1074.8,1804.0 L1075.2,1805.6 L1075.5,1806.0 L1075.9,1806.4 L1076.3,1807.0 L1076.6,1807.0 L1077.0,1807.5 L1077.4,1807.3 L1077.8,1806.7 L1078.1,1806.3 L1078.5,1805.6 L1078.9,1803.6 L1079.3,1802.3 L1079.7,1800.9 L1080.1,1799.0 L1080.5,1798.0 L1080.9,1797.2 L1081.4,1795.3 L1081.8,1793.8 L1082.2,1791.0 L1082.6,1789.8 L1083.1,1788.2 L1083.5,1787.8 L1084.0,1786.8 L1084.4,1786.1 L1085.6,1785.7 L1086.9,1786.2 L1088.2,1787.5 L1089.5,1788.7 L1090.8,1789.6 L1092.1,1788.9 L1093.2,1789.0 L1093.6,1788.3 L1094.1,1787.0 L1094.5,1786.7 L1094.9,1785.8 L1095.3,1785.0 L1095.6,1784.5 L1096.0,1782.7 L1096.4,1782.1 L1096.7,1781.3 L1097.1,1779.3 L1097.4,1778.6 L1097.8,1776.7 L1098.1,1775.0 L1098.4,1774.0 L1098.7,1772.3 L1099.1,1769.8 L1099.4,1768.3 L1099.6,1768.0 L1099.7,1766.7 L1099.9,1765.6 L1100.1,1764.6 L1100.2,1763.6 L1100.4,1762.1 L1100.5,1760.7 L1100.7,1759.9 L1100.8,1759.1 L1101.0,1756.5 L1101.1,1755.9 L1101.3,1755.0 L1101.4,1753.0 L1101.6,1752.4 L1101.7,1750.1 L1101.9,1749.3 L1102.0,1748.4 L1102.1,1747.2 L1102.3,1744.3 L1102.4,1743.4 L1102.6,1741.8 L1102.7,1741.0 L1102.8,1740.2 L1103.0,1738.8 L1103.1,1737.9 L1103.3,1735.6 L1103.4,1734.4 L1103.6,1733.4 L1103.7,1732.8 L1103.9,1732.2 L1104.0,1730.6 L1104.2,1729.4 L1104.3,1729.2 L1104.7,1726.4 L1105.2,1725.1 L1105.6,1723.3 L1106.1,1722.2 L1106.5,1722.1 L1106.9,1720.7 L1107.4,1719.8 L1107.8,1718.8 L1108.3,1718.4 L1108.8,1718.2 L1109.3,1717.1 L1109.9,1715.0 L1110.5,1714.3 L1111.2,1714.2 L1111.8,1711.6 L1112.5,1710.6 L1113.2,1709.0 L1113.9,1708.0 L1114.7,1706.7 L1115.5,1705.4 L1116.4,1705.7 L1117.3,1704.8 L1118.2,1702.5 L1119.2,1702.0 L1120.2,1701.6 L1121.2,1700.7 L1122.2,1700.7 L1123.2,1699.9 L1124.2,1699.4 L1125.1,1697.3 L1125.9,1696.3 L1126.8,1695.3 L1127.6,1694.2 L1128.5,1693.1 L1129.3,1691.6 L1130.2,1690.9 L1131.1,1691.4 L1132.0,1689.5 L1132.9,1688.1 L1133.9,1689.0 L1134.9,1688.9 L1136.0,1690.6 L1137.0,1691.9 L1138.0,1693.5 L1139.2,1693.5 L1140.3,1692.6 L1141.6,1694.9 L1142.9,1695.1 L1143.9,1695.3 L1145.0,1694.2 L1146.1,1693.2 L1147.2,1692.7 L1148.4,1690.7 L1149.7,1691.6 L1150.9,1690.3 L1152.1,1689.4 L1153.3,1689.4 L1154.5,1688.2 L1155.7,1688.8 L1156.8,1687.8 L1157.8,1689.6 L1159.1,1689.5 L1160.2,1689.3 L1161.3,1689.2 L1162.4,1689.3 L1163.4,1689.4 L1164.4,1688.9 L1165.5,1690.2 L1166.6,1691.2 L1167.7,1692.4 L1169.0,1694.0 L1169.7,1693.5 L1170.4,1694.2 L1171.1,1695.3 L1171.9,1696.4 L1172.7,1698.3 L1173.4,1700.8 L1174.2,1700.2 L1175.0,1701.2 L1175.8,1701.7 L1176.6,1702.7 L1177.4,1704.7 L1178.3,1704.9 L1179.1,1706.0 L1179.9,1706.6 L1180.7,1707.1 L1181.5,1709.1 L1182.3,1709.6 L1183.1,1711.7 L1183.9,1711.2 L1184.6,1712.7 L1185.3,1714.8 L1186.0,1714.5 L1186.6,1715.8 L1187.3,1717.7 L1188.0,1718.3 L1188.7,1718.4 L1189.4,1719.5 L1190.1,1721.0 L1190.8,1721.6 L1191.5,1722.7 L1192.2,1724.2 L1192.9,1724.4 L1193.6,1727.3 L1194.2,1727.3 L1194.9,1728.4 L1195.6,1729.6 L1196.2,1731.5 L1196.9,1731.5 L1197.5,1733.8 L1198.2,1735.0 L1198.8,1735.2 L1199.8,1734.7 L1200.8,1735.2 L1201.7,1736.7 L1202.7,1738.2 L1203.7,1739.6 L1204.6,1741.0 L1205.5,1741.4 L1206.4,1741.8 L1207.3,1742.7 L1208.2,1741.7 L1209.0,1744.2 L1209.8,1743.7 L1210.6,1743.9 L1211.3,1745.4 L1212.0,1746.9 L1212.7,1747.7 L1213.3,1749.6 L1213.9,1751.3 L1214.4,1753.2 L1214.9,1754.6 L1215.4,1755.3 L1215.9,1756.8 L1216.4,1758.9 L1216.9,1759.2 L1217.5,1759.9 L1218.1,1759.3 L1218.7,1761.1 L1219.8,1763.4 L1221.0,1763.2 L1222.2,1762.2 L1223.4,1762.6 L1224.7,1762.4 L1226.0,1762.0 L1227.3,1759.9 L1228.7,1759.2 L1229.9,1760.3 L1231.1,1760.6 L1232.3,1760.7 L1233.6,1759.5 L1234.9,1760.7 L1236.2,1762.1 L1237.5,1762.1 L1238.7,1763.3 L1239.9,1762.3 L1241.1,1761.9 L1242.5,1763.3 L1243.8,1763.7 L1245.0,1762.0 L1246.3,1762.4 L1247.5,1764.2 L1248.7,1764.5 L1249.9,1766.4 L1251.1,1766.6 L1252.1,1766.3 L1253.0,1764.6 L1254.0,1763.7 L1254.9,1763.6 L1255.9,1762.2 L1256.9,1761.8 L1257.8,1760.6 L1258.9,1759.8 L1259.9,1758.1 L1261.0,1756.0 L1261.6,1753.4 L1262.2,1753.0 L1262.8,1752.2 L1263.4,1752.7 L1264.1,1750.7 L1264.7,1749.9 L1265.4,1749.7 L1266.0,1749.0 L1266.7,1748.2 L1267.4,1746.8 L1268.0,1746.3 L1268.7,1743.8 L1269.4,1743.5 L1270.1,1740.8 L1270.7,1739.9 L1271.4,1739.5 L1272.1,1738.8 L1272.7,1737.4 L1273.4,1736.0 L1274.3,1734.3 L1275.2,1732.3 L1276.1,1731.2 L1277.0,1732.9 L1278.0,1730.4 L1278.9,1729.1 L1279.8,1728.1 L1280.7,1728.2 L1281.6,1727.8 L1282.5,1726.8 L1283.4,1725.5 L1284.2,1725.3 L1285.1,1723.8 L1285.9,1723.9 L1286.8,1724.1 L1287.6,1721.7 L1288.5,1720.9 L1289.4,1719.4 L1290.2,1718.2 L1291.1,1716.3 L1291.9,1716.0 L1292.6,1715.1 L1293.4,1715.1 L1294.1,1715.4 L1294.7,1712.6 L1295.3,1712.8 L1295.8,1711.3 L1297.3,1711.2 L1297.9,1712.5 L1298.3,1715.0" fill="none" stroke="#ea4040" stroke-width="10.5" stroke-linejoin="round" stroke-linecap="round"/>
<path d="M112.2,1652.7 L112.9,1652.9 L113.8,1654.1 L114.8,1653.8 L116.0,1653.6 L117.2,1654.0 L118.6,1652.9 L120.1,1653.9 L121.6,1654.5 L123.1,1654.1 L124.1,1656.2 L125.3,1654.8 L126.5,1654.5 L127.8,1654.8 L129.1,1655.5 L130.4,1656.4 L131.8,1654.4 L133.1,1654.3 L134.4,1656.2 L135.7,1655.8 L136.9,1655.7 L138.0,1656.0 L139.1,1657.3 L140.0,1656.8 L141.7,1655.7 L143.0,1654.6 L144.1,1653.9 L145.0,1653.8 L146.0,1652.9 L147.2,1652.3 L148.3,1653.7 L149.6,1654.0 L150.9,1653.1 L152.2,1654.5 L153.5,1654.0 L154.8,1653.0 L155.9,1653.3 L156.8,1653.0 L157.8,1651.4 L158.5,1651.5 L159.0,1648.7 L159.6,1648.7 L160.5,1647.6 L161.5,1648.4 L162.6,1648.6 L163.8,1649.5 L165.1,1648.0 L166.4,1649.0 L167.7,1650.5 L168.9,1650.1 L170.1,1651.5 L171.4,1651.1 L172.6,1650.7 L173.9,1649.4 L175.1,1647.5 L176.2,1648.5 L177.3,1648.8 L178.6,1649.7 L179.8,1649.5 L180.9,1649.3 L182.1,1650.5 L183.4,1651.1 L184.1,1652.2 L184.8,1653.9 L185.6,1655.5 L186.4,1657.2 L187.2,1657.8 L188.0,1659.8 L188.8,1660.7 L189.6,1660.7 L190.4,1661.5 L191.1,1662.7 L191.8,1662.8 L192.7,1662.5 L193.4,1662.6 L194.2,1660.5 L194.9,1659.5 L195.6,1657.7 L196.3,1655.8 L197.0,1655.3 L197.8,1655.6 L199.0,1654.2 L200.2,1653.2 L201.5,1654.0 L202.7,1653.6 L203.9,1653.4 L205.1,1653.7 L206.4,1653.1 L207.5,1652.7 L208.7,1653.5 L209.8,1653.6 L211.1,1653.0 L212.0,1654.9 L212.8,1655.5 L213.8,1657.4 L214.7,1657.6 L215.6,1656.9 L216.5,1658.7 L217.4,1659.8 L218.3,1662.2 L219.3,1663.3 L220.2,1664.6 L221.1,1664.5 L222.0,1665.6 L222.9,1667.5 L223.7,1667.1 L224.4,1668.4 L225.5,1670.4 L226.4,1670.5 L227.2,1671.7 L228.0,1671.4 L228.6,1674.3 L229.1,1674.3 L229.7,1676.7 L230.2,1677.7 L230.9,1677.7 L231.6,1678.8 L232.0,1679.7 L232.4,1681.0 L232.9,1683.0 L233.3,1683.2 L233.8,1684.3 L234.3,1684.0 L234.8,1685.8 L235.4,1686.8 L236.0,1688.4 L236.8,1690.3 L237.6,1693.1 L237.9,1693.7 L238.3,1694.5 L238.7,1695.1 L239.1,1695.7 L239.5,1697.3 L240.0,1698.5 L240.4,1699.4 L240.9,1700.6 L241.4,1701.5 L241.9,1702.2 L242.4,1704.2 L243.0,1704.6 L243.5,1706.6 L244.0,1707.5 L244.5,1709.2 L245.0,1711.4 L245.6,1712.8 L246.1,1714.1 L246.6,1715.2 L247.0,1716.1 L247.5,1717.8 L248.0,1719.1 L248.4,1719.9 L248.8,1720.9 L249.2,1721.9 L249.6,1722.8 L249.9,1724.0 L250.2,1725.0 L250.5,1725.4 L250.7,1726.5" fill="none" stroke="#ea4040" stroke-width="9" stroke-linejoin="round" stroke-linecap="round"/>
<path d="M112.2,1653.5 L112.9,1653.4 L113.8,1652.5 L114.8,1653.7 L116.0,1653.7 L117.2,1653.8 L118.6,1653.7 L120.1,1654.8 L121.6,1654.8 L123.1,1655.1 L124.1,1654.2 L125.3,1653.9 L126.5,1653.5 L127.8,1654.0 L129.1,1652.6 L130.4,1655.4 L131.8,1655.5 L133.1,1655.6 L134.4,1656.3 L135.7,1655.8 L136.9,1656.2 L138.0,1656.7 L139.1,1655.3 L140.0,1657.2 L141.7,1656.5 L143.0,1656.3 L144.1,1654.7 L145.0,1654.1 L146.0,1655.2 L147.2,1653.8 L148.3,1653.3 L149.6,1653.8 L150.9,1654.6 L152.2,1652.0 L153.5,1653.9 L154.8,1653.6 L155.9,1653.7 L156.8,1652.2 L157.8,1651.8 L158.5,1651.8 L159.0,1649.7 L159.6,1648.0 L160.5,1647.3 L161.5,1647.2 L162.6,1648.4 L163.8,1648.7 L165.1,1648.7 L166.4,1650.0 L167.7,1649.3 L168.9,1648.9 L170.1,1651.5 L171.4,1649.9 L172.6,1650.8 L173.9,1649.6 L175.1,1649.0 L176.2,1649.2 L177.3,1648.4 L178.6,1648.4 L179.8,1649.3 L180.9,1650.0 L182.1,1651.7 L183.4,1654.2 L184.1,1653.1 L184.8,1653.7 L185.6,1655.9 L186.4,1657.3 L187.2,1659.1 L188.0,1659.2 L188.8,1661.0 L189.6,1661.8 L190.4,1661.4 L191.1,1663.1 L191.8,1662.2 L192.7,1663.2 L193.4,1662.2 L194.2,1661.2 L194.9,1661.5 L195.6,1660.2 L196.3,1658.0 L197.0,1656.5 L197.8,1654.7 L199.0,1655.0 L200.2,1654.4 L201.5,1652.8 L202.7,1651.6 L203.9,1652.3 L205.1,1652.3 L206.4,1653.1 L207.5,1652.0 L208.7,1651.9 L209.8,1653.2 L211.1,1653.9 L212.0,1655.2 L212.8,1656.3 L213.8,1655.8 L214.7,1655.2 L215.6,1657.5 L216.5,1658.3 L217.4,1660.0 L218.3,1659.0 L219.3,1661.3 L220.2,1662.9 L221.1,1663.8 L222.0,1665.5 L222.9,1666.5 L223.7,1667.5 L224.4,1669.3 L225.5,1670.8 L226.4,1672.0 L227.2,1672.4 L228.0,1673.4 L228.6,1674.6 L229.1,1675.5 L229.7,1675.8 L230.2,1677.6 L230.9,1679.5 L231.6,1680.3 L232.0,1680.3 L232.4,1682.1 L232.9,1682.2 L233.3,1682.2 L233.8,1683.6 L234.3,1683.9 L234.8,1686.0 L235.4,1686.9 L236.0,1688.7 L236.8,1691.2 L237.6,1693.4 L237.9,1693.4 L238.3,1692.5 L238.7,1694.1 L239.1,1694.8 L239.5,1697.3 L240.0,1699.4 L240.4,1700.3 L240.9,1701.4 L241.4,1702.6 L241.9,1703.9 L242.4,1704.5 L243.0,1706.5 L243.5,1707.2 L244.0,1707.7 L244.5,1709.7 L245.0,1711.7 L245.6,1712.7 L246.1,1713.4 L246.6,1715.4 L247.0,1716.6 L247.5,1717.9 L248.0,1718.8 L248.4,1720.1 L248.8,1721.6 L249.2,1722.1 L249.6,1723.3 L249.9,1724.1 L250.2,1724.5 L250.5,1725.4 L250.7,1726.2" fill="none" stroke="#ea4040" stroke-width="9" stroke-linejoin="round" stroke-linecap="round"/>
<path d="M112.0,1819.9 L112.6,1821.2 L113.4,1819.7 L114.4,1821.4 L115.4,1823.6 L116.6,1823.5 L117.8,1826.5 L119.1,1822.2 L120.4,1823.3 L121.6,1822.3 L122.9,1822.1 L124.1,1823.8 L125.2,1825.8 L126.4,1827.4 L127.5,1828.7 L128.7,1833.8 L130.0,1832.9 L131.2,1827.3 L132.4,1830.1 L133.6,1829.6 L134.7,1830.0 L135.8,1834.6 L136.8,1832.8 L137.7,1828.2 L138.9,1831.5 L140.0,1830.5 L141.0,1827.2 L141.8,1825.7 L142.6,1825.0 L143.5,1825.4 L144.3,1824.2 L145.2,1824.8 L146.1,1829.5 L147.1,1825.7 L148.0,1825.1 L149.0,1827.1 L150.0,1831.7 L150.9,1829.6 L151.9,1834.2 L152.8,1829.1 L153.5,1827.5 L154.2,1828.5 L154.9,1826.1 L155.5,1824.8 L156.2,1825.8 L156.9,1825.8 L157.6,1823.5 L158.3,1820.9 L158.9,1823.2 L159.6,1821.4 L160.3,1819.3 L161.0,1822.2 L161.8,1819.0 L162.5,1821.4 L163.2,1824.4 L163.9,1825.0 L164.6,1824.9 L165.4,1827.9 L166.2,1827.6 L167.0,1827.6 L167.8,1826.6 L168.5,1831.3 L169.2,1828.1 L170.0,1830.2 L170.7,1828.3 L171.5,1825.2 L172.3,1825.4 L173.1,1823.5 L173.9,1821.6 L174.7,1816.6 L175.5,1817.4 L176.2,1819.0 L176.9,1818.2 L177.6,1818.9 L178.7,1820.2 L179.8,1818.5 L180.7,1822.0 L181.6,1815.9 L182.5,1817.7 L183.5,1814.0 L184.4,1821.8 L184.8,1823.1 L185.2,1828.0 L185.6,1825.7 L186.0,1822.0 L186.4,1829.3 L186.8,1826.8 L187.2,1827.0 L187.6,1830.7 L188.0,1834.8 L188.4,1834.5 L188.8,1836.9 L189.2,1833.7 L189.6,1841.7 L190.0,1840.9 L190.4,1841.4 L190.8,1843.0 L191.2,1842.6 L191.7,1842.4 L192.2,1839.3 L192.7,1839.4 L193.2,1840.0 L193.7,1840.6 L194.2,1837.1 L194.7,1835.3 L195.2,1834.2 L195.7,1833.3 L196.3,1831.1 L196.8,1828.5 L197.4,1826.2 L198.0,1828.8 L199.0,1826.9 L200.0,1825.1 L201.1,1832.2 L202.2,1828.3 L203.3,1826.6 L204.5,1824.2 L205.7,1820.5 L207.0,1824.1 L208.1,1822.5 L209.3,1822.1 L210.6,1824.3 L211.9,1825.0 L213.2,1823.5 L214.6,1822.6 L215.8,1827.3 L217.0,1825.7 L218.1,1821.7 L219.1,1824.9 L219.9,1825.1 L220.6,1825.6 L221.2,1828.0 L221.7,1828.5 L222.2,1833.7 L222.7,1832.1 L223.2,1832.5 L223.6,1835.6 L224.1,1833.3 L224.6,1836.9 L225.1,1836.3 L225.9,1839.7 L226.6,1836.8 L227.4,1839.2 L228.2,1835.9 L229.0,1838.0 L229.7,1840.3 L230.4,1843.0 L231.1,1848.1 L231.6,1850.3 L232.1,1844.4 L232.5,1844.5 L232.9,1850.1 L233.3,1851.0 L233.8,1847.9 L234.2,1852.0 L234.6,1850.5 L235.1,1851.3 L235.6,1851.2 L236.3,1854.3 L237.1,1861.8 L237.9,1860.6 L238.7,1859.5 L239.6,1865.8 L240.4,1861.6 L241.1,1861.6 L241.7,1862.2 L242.1,1864.6 L242.4,1864.6 L242.7,1869.5 L242.9,1868.1 L243.1,1870.5 L243.3,1871.5 L243.5,1870.2 L243.7,1870.2 L244.0,1873.2 L244.3,1869.6 L244.7,1874.3 L245.5,1877.0 L246.5,1878.3 L247.5,1878.4 L248.6,1879.7 L249.7,1879.1 L250.7,1881.8 L251.2,1879.4 L251.6,1883.3 L252.1,1882.6 L252.6,1885.3 L253.1,1885.5 L253.6,1886.5 L254.1,1887.1 L254.6,1891.6 L255.0,1890.1 L255.5,1890.2 L255.9,1893.3 L256.3,1895.1 L256.7,1896.1 L257.1,1895.6 L257.4,1896.6 L257.6,1899.9 L257.8,1898.4 L258.0,1901.1 L258.3,1902.9 L258.7,1903.4 L259.3,1902.5 L260.2,1908.7 L260.5,1908.0 L260.9,1908.5 L261.3,1908.2 L261.7,1907.8 L262.2,1909.4 L262.6,1911.4 L263.1,1911.0 L263.6,1913.2 L264.1,1916.3 L264.6,1916.9 L265.2,1917.0 L265.7,1919.7 L266.3,1921.1 L266.9,1922.4 L267.5,1920.8 L268.0,1921.6 L268.6,1923.7 L269.3,1924.9 L269.9,1926.0 L270.5,1927.4 L271.1,1928.3 L271.7,1929.4 L272.3,1931.4 L273.0,1931.6 L273.6,1933.3 L274.2,1934.7 L274.8,1936.2 L275.4,1936.7 L276.0,1937.7 L276.6,1938.2 L277.2,1939.4 L277.8,1939.7 L278.5,1941.1 L279.1,1942.5 L279.7,1943.6 L280.4,1944.6 L281.0,1946.2 L281.7,1946.5 L282.3,1947.9 L283.0,1948.9 L283.7,1950.1 L284.3,1951.2 L285.0,1953.0 L285.7,1953.1 L286.4,1954.8 L287.0,1956.1 L287.7,1956.6 L288.4,1957.3 L289.0,1957.9 L289.7,1959.0 L290.4,1961.1 L291.0,1960.9 L291.7,1962.5 L292.3,1963.2 L293.0,1965.1 L293.7,1965.9 L294.4,1966.2 L295.1,1967.2 L295.8,1968.5 L296.6,1969.6 L297.3,1970.2 L298.0,1971.3 L298.7,1972.2 L299.4,1973.6 L300.2,1974.6 L300.9,1975.5 L301.6,1976.1 L302.3,1977.5 L303.0,1978.1 L303.8,1978.8 L304.5,1979.8 L305.2,1980.8 L305.9,1981.8 L306.6,1982.2 L307.3,1984.2 L307.9,1985.3 L308.6,1986.5 L309.3,1987.0 L309.9,1988.2 L310.6,1989.1 L311.2,1990.1 L311.8,1991.7 L312.4,1992.1 L313.0,1993.4 L313.6,1993.6 L314.2,1995.3 L314.7,1996.4 L315.3,1997.1 L315.9,1998.3 L316.4,1998.9 L317.0,2000.2 L317.5,2001.9 L318.1,2002.2 L318.6,2004.5 L319.2,2006.0 L319.7,2006.6 L320.2,2007.2 L320.8,2008.2 L321.3,2009.3 L321.8,2010.6 L322.3,2012.9 L322.8,2013.1 L323.3,2014.6 L323.8,2015.9 L324.3,2016.2 L324.7,2017.1 L325.2,2018.4 L325.7,2018.9 L326.4,2020.9 L327.2,2022.8 L327.9,2023.5 L328.6,2024.2 L329.3,2025.8 L329.9,2027.0 L330.6,2027.8 L331.2,2029.0 L331.9,2030.2 L332.5,2031.5 L333.1,2032.8 L333.7,2033.2 L334.3,2033.6 L334.9,2034.2 L335.5,2036.3 L336.0,2036.6 L336.6,2037.1 L337.7,2039.6 L338.8,2040.6 L339.8,2042.0 L340.7,2041.9 L341.6,2042.0 L342.6,2042.3 L343.6,2042.9 L344.7,2042.9 L345.6,2042.8 L346.5,2043.2 L347.5,2042.7 L348.4,2041.2 L349.4,2040.8 L350.4,2040.2 L351.5,2038.8 L352.6,2038.8 L353.7,2037.4 L354.9,2036.3 L355.5,2034.9 L356.2,2033.6 L356.8,2033.4 L357.5,2032.4 L358.1,2031.3 L358.8,2030.5 L359.5,2029.7 L360.2,2028.7 L360.9,2027.6 L361.6,2026.7 L362.4,2026.7 L363.1,2025.3 L363.9,2023.4 L364.6,2023.1 L365.4,2021.2 L366.2,2019.4 L367.0,2018.1 L367.8,2016.6 L368.6,2016.6 L369.4,2015.0 L370.0,2013.8 L370.7,2013.1 L371.4,2012.4 L372.1,2011.2 L372.8,2010.3 L373.5,2009.6 L374.2,2009.0 L374.9,2007.5 L375.7,2006.9 L376.4,2005.9 L377.1,2005.0 L377.9,2003.6 L378.6,2002.2 L379.4,2001.9 L380.1,2000.9 L380.9,1999.5 L381.6,1998.2 L382.3,1997.7 L383.0,1997.4 L383.7,1996.0 L384.4,1995.8 L385.1,1994.2 L385.7,1993.0 L386.4,1992.1 L387.0,1991.4 L387.6,1989.6 L388.4,1988.7 L389.1,1988.0 L389.9,1985.8 L390.6,1984.9 L391.2,1984.0 L391.9,1983.2 L392.5,1982.0 L393.2,1980.2 L393.8,1979.6 L394.4,1977.4 L395.0,1975.7 L395.6,1975.6 L396.2,1974.6 L396.8,1973.0 L397.4,1972.7 L398.0,1972.1 L398.7,1971.4 L399.3,1970.4 L400.0,1969.5 L401.1,1968.8 L402.2,1969.3 L403.4,1969.8 L404.5,1970.4 L405.7,1971.1 L406.9,1972.6 L408.0,1972.9 L409.2,1973.7 L410.3,1975.5 L411.5,1975.4 L412.5,1975.4 L413.6,1975.9 L414.5,1974.6 L415.5,1975.1 L416.3,1973.7 L417.2,1972.7 L418.1,1971.6 L418.9,1970.6 L419.7,1969.6 L420.6,1969.1 L421.4,1967.8 L422.3,1967.1 L423.1,1965.9 L424.0,1964.0 L424.9,1963.1 L425.6,1962.0 L426.4,1961.0 L427.2,1960.1 L427.9,1959.1 L428.7,1958.0 L429.5,1955.9 L430.2,1955.1 L431.0,1953.9 L431.8,1953.7 L432.6,1952.2 L433.4,1951.1 L434.2,1950.2 L435.0,1949.8 L435.7,1948.7 L436.5,1948.5 L437.3,1948.4 L438.1,1948.5 L439.0,1948.8 L439.8,1949.2 L440.6,1950.1 L441.4,1950.5 L442.3,1952.5 L443.1,1953.3 L443.9,1953.7 L444.7,1955.2 L445.6,1957.0 L446.4,1958.0 L447.2,1959.1 L448.0,1959.3 L448.9,1961.5 L449.7,1962.2 L450.7,1962.4 L451.7,1963.8 L452.6,1965.8 L453.7,1967.0 L454.7,1967.4 L455.7,1968.7 L456.7,1970.2 L457.6,1972.0 L458.6,1972.3 L459.6,1972.9 L460.5,1972.8 L461.4,1972.7 L462.2,1971.9 L462.7,1971.2 L463.1,1970.4 L463.6,1969.9 L464.0,1969.7 L464.4,1968.4 L464.8,1967.6 L465.2,1966.2 L465.6,1964.6 L466.0,1962.8 L466.4,1962.2 L466.8,1960.6 L467.2,1959.1 L467.5,1958.0 L467.9,1956.3 L468.3,1954.3 L468.7,1952.7 L469.1,1951.4 L469.5,1950.9 L469.9,1948.7 L470.3,1947.0 L470.7,1946.5 L471.2,1946.1 L472.4,1945.0 L473.7,1945.3 L475.0,1945.7 L476.4,1946.0 L477.7,1946.7 L479.1,1948.1 L480.3,1948.9 L481.5,1949.0 L482.5,1947.6 L483.1,1947.3 L483.6,1945.7 L484.1,1944.2 L484.5,1944.3 L484.9,1943.2 L485.3,1941.9 L485.6,1940.8 L486.0,1939.6 L486.3,1937.7 L486.7,1936.1 L487.0,1934.8 L487.4,1933.5 L487.8,1931.9 L488.2,1930.0 L488.6,1930.1 L489.0,1928.1 L489.4,1926.7 L489.8,1925.9 L490.2,1924.6 L490.6,1923.6 L491.0,1923.2 L491.4,1921.8 L491.8,1919.9 L492.2,1918.7 L492.7,1917.4 L493.1,1916.8 L493.6,1915.0 L494.0,1913.8 L494.5,1912.4 L495.0,1912.2 L495.7,1911.2 L496.4,1910.4 L497.1,1909.5 L497.8,1907.9 L498.6,1907.2 L499.3,1906.1 L500.1,1906.2 L501.0,1905.5 L501.9,1903.8 L502.9,1903.3 L504.0,1902.3 L504.8,1901.5 L505.5,1901.0 L506.4,1899.7 L507.2,1898.8 L508.1,1897.8 L509.1,1896.9 L510.0,1895.8 L511.0,1895.7 L512.0,1894.8 L513.0,1893.6 L513.9,1892.0 L514.9,1892.4 L515.9,1891.1 L516.9,1890.1 L517.9,1889.4 L518.9,1889.1 L519.8,1887.7 L520.8,1885.8 L521.8,1885.5 L522.7,1884.9 L523.7,1884.0 L524.7,1884.0 L525.6,1882.8 L526.6,1882.2 L527.6,1881.0 L528.5,1880.8 L529.5,1879.7 L530.5,1879.5 L531.5,1878.7 L532.5,1878.1 L533.5,1877.5 L534.5,1876.2 L535.6,1875.8 L536.7,1875.6 L537.9,1875.0 L539.1,1875.1 L540.3,1874.8 L541.5,1873.8 L542.7,1873.9 L543.9,1873.2 L545.1,1873.1 L546.3,1873.1 L547.6,1872.0 L548.8,1871.5 L550.0,1871.4 L551.3,1871.1 L552.5,1870.2 L553.7,1870.5 L554.9,1870.2 L556.1,1869.9 L557.3,1869.6 L558.5,1869.5 L559.6,1868.6 L560.8,1868.5 L562.0,1868.0 L563.2,1867.6 L564.4,1867.1 L565.6,1867.4 L566.8,1865.9 L568.0,1865.8 L569.3,1866.0 L570.5,1865.3 L571.8,1864.6 L572.8,1864.8 L573.8,1863.8 L574.9,1863.4 L575.9,1863.2 L576.9,1862.4 L578.0,1861.8 L579.1,1861.4 L580.1,1861.3 L581.2,1860.1 L582.3,1859.9 L583.3,1859.3 L584.4,1858.5 L585.5,1857.5 L586.6,1858.0 L587.7,1857.3 L588.8,1856.6 L589.9,1855.8 L591.1,1855.9 L592.2,1854.7 L593.3,1853.8 L594.4,1853.2 L595.5,1853.0 L596.6,1852.7 L597.7,1851.4 L598.8,1851.5 L600.0,1851.2 L601.1,1851.1 L602.2,1850.2 L603.4,1850.2 L604.5,1850.1 L605.7,1848.7 L606.8,1848.0 L608.0,1848.0 L609.1,1847.7 L610.3,1846.8 L611.4,1846.6 L612.5,1845.1 L613.7,1845.2 L614.8,1844.8 L615.9,1844.4 L617.1,1843.7 L618.3,1843.1 L619.5,1842.1 L620.8,1841.9 L622.0,1840.1 L623.3,1839.9 L624.5,1839.0 L625.8,1839.3 L627.0,1837.8 L628.2,1837.3 L629.4,1836.7 L630.5,1836.5 L631.6,1835.7 L632.7,1834.8 L633.7,1834.6 L634.6,1834.8 L635.5,1834.6 L636.3,1833.9 L637.0,1833.5 L638.3,1833.5 L639.2,1834.5 L639.8,1835.4 L640.1,1836.5 L640.4,1837.7 L640.6,1839.5 L640.9,1841.6 L641.3,1843.4 L641.9,1844.5 L642.3,1845.8 L642.7,1846.5 L643.2,1848.2 L643.7,1849.6 L644.2,1851.0 L644.8,1852.9 L645.3,1854.1 L645.8,1855.4 L646.4,1857.0 L647.0,1857.5 L647.5,1858.8 L648.1,1860.1 L648.6,1861.7 L649.1,1862.6 L649.6,1862.9 L650.1,1863.6 L650.6,1864.4 L651.0,1864.7 L651.6,1864.6 L652.1,1863.7 L652.6,1863.3 L653.1,1861.7 L653.6,1860.4 L654.0,1858.7 L654.4,1857.2 L654.9,1856.2 L655.3,1854.2 L655.7,1852.8 L656.1,1850.9 L656.6,1850.6 L657.7,1851.3 L658.7,1852.9 L659.7,1855.4 L660.9,1856.3 L662.2,1856.1 L662.6,1855.5 L663.0,1855.1 L663.4,1853.8 L663.8,1853.1 L664.2,1851.6 L664.7,1850.1 L665.1,1849.5 L665.6,1847.4 L666.1,1845.9 L666.6,1845.5 L667.0,1843.8 L667.5,1842.4 L668.0,1840.9 L668.5,1839.5 L669.0,1838.9 L669.4,1837.2 L669.9,1836.4 L670.4,1834.9 L670.8,1833.6 L671.3,1832.8 L672.4,1831.5 L673.5,1831.4 L674.5,1829.8 L675.6,1829.4 L676.7,1828.4 L677.7,1828.7 L678.9,1828.3 L680.0,1828.2 L681.2,1827.7 L682.3,1827.1 L683.5,1826.9 L684.7,1826.7 L685.9,1826.8 L687.2,1826.3 L688.6,1826.0 L690.0,1825.3 L691.1,1825.8 L692.3,1825.5 L693.5,1825.0 L694.8,1825.6 L696.1,1825.6 L697.4,1825.2 L698.7,1825.0 L700.0,1824.3 L701.2,1822.6 L702.4,1824.1 L703.6,1823.2 L705.0,1824.8 L706.3,1824.7 L707.6,1825.3 L708.9,1825.1 L710.2,1826.0 L711.4,1826.7 L712.6,1826.4 L713.8,1826.8 L714.9,1826.7 L716.0,1825.6 L717.0,1823.3 L717.9,1823.8 L718.8,1822.3 L719.7,1820.7 L720.6,1818.9 L721.6,1817.8 L722.7,1819.7 L723.9,1820.7 L724.9,1820.7 L726.0,1821.4 L727.2,1818.5 L728.3,1820.0 L729.5,1819.0 L730.8,1818.8 L732.0,1820.9 L733.3,1822.2 L734.7,1821.3 L736.1,1820.6 L737.5,1820.5 L738.6,1821.7 L739.7,1823.2 L740.9,1824.8 L742.2,1824.1 L743.5,1822.8 L744.7,1822.3 L746.0,1823.2 L747.3,1824.1 L748.6,1822.3 L749.9,1823.6 L751.1,1823.3 L752.3,1824.4 L753.5,1822.6 L754.6,1824.1 L755.6,1824.8 L756.9,1824.7 L758.1,1824.3 L759.2,1822.4 L760.3,1821.1 L761.3,1819.0 L762.3,1818.5 L763.2,1817.1 L764.2,1817.3 L765.1,1817.1 L766.0,1816.0 L766.9,1817.0 L768.1,1815.0 L769.3,1815.4 L770.4,1818.1 L771.5,1818.1 L772.6,1819.5 L773.7,1817.7 L774.8,1820.7 L775.9,1819.8 L776.8,1819.2 L777.6,1819.9 L778.3,1818.8 L779.1,1816.2 L779.9,1817.2 L780.7,1814.9 L781.6,1814.0 L782.6,1812.8 L783.7,1812.2 L785.0,1811.7 L785.9,1811.5 L787.0,1811.3 L788.0,1813.7 L789.2,1812.6 L790.3,1812.5 L791.6,1811.5 L792.8,1813.2 L794.1,1812.8 L795.4,1812.3 L796.7,1811.7 L798.0,1812.6 L799.3,1810.9 L800.5,1811.2 L801.8,1811.6 L803.0,1812.4 L804.2,1812.4 L805.5,1811.1 L806.7,1812.3 L808.0,1811.9 L809.3,1811.7 L810.6,1812.1 L811.8,1811.9 L813.1,1811.7 L814.3,1811.7 L815.6,1812.6 L816.8,1812.4 L817.9,1812.5 L819.0,1811.8 L820.1,1813.1 L821.1,1812.7 L822.6,1811.8 L824.0,1813.1 L825.3,1811.5 L826.5,1811.5 L827.6,1812.8 L828.7,1812.3 L829.9,1812.4 L831.1,1812.6 L832.4,1813.2 L833.5,1814.1 L834.6,1814.8 L835.7,1814.3 L836.9,1814.6 L838.1,1813.8 L839.3,1815.2 L840.5,1816.8 L841.7,1817.5 L842.9,1819.1 L844.0,1818.9 L845.0,1819.7 L846.0,1821.0 L847.0,1820.3 L848.0,1822.7 L848.9,1821.8 L849.8,1823.0 L850.6,1822.6 L851.5,1824.4 L852.2,1825.1 L853.0,1827.6 L853.7,1826.6 L854.4,1829.1 L855.0,1830.5 L855.6,1831.9 L856.1,1833.3 L856.5,1834.2 L857.0,1833.7 L857.3,1835.4 L857.7,1835.6 L858.0,1836.5 L858.4,1838.0 L858.8,1839.4 L859.2,1841.0 L859.6,1844.2 L859.8,1844.7 L860.0,1844.8 L860.2,1846.0 L860.4,1847.2 L860.6,1849.5 L860.8,1850.3 L861.1,1851.1 L861.3,1852.6 L861.5,1853.0 L861.7,1855.4 L862.0,1856.5 L862.2,1857.5 L862.4,1859.4 L862.6,1860.4 L862.9,1861.5 L863.1,1863.5 L863.3,1865.5 L863.5,1866.2 L863.7,1867.4 L864.0,1868.6 L864.2,1870.0 L864.4,1870.9 L864.6,1872.2 L864.8,1872.9 L865.0,1874.1 L865.2,1875.5 L865.6,1876.4 L866.0,1878.4 L866.3,1880.2 L866.7,1880.6 L867.1,1881.4 L867.4,1882.5 L867.8,1883.4 L868.1,1883.9 L868.4,1885.5 L868.8,1886.7 L869.1,1888.2 L869.4,1889.7 L869.7,1890.9 L869.8,1891.8 L870.0,1892.5 L870.1,1894.7 L870.2,1894.9 L870.4,1896.1 L870.5,1897.5 L870.6,1898.0 L870.7,1899.0 L870.8,1900.2 L871.0,1901.7 L871.1,1902.0 L871.2,1903.4 L871.3,1904.7 L871.4,1906.0 L871.5,1906.7 L871.6,1908.5 L871.7,1909.8 L871.8,1910.5 L872.0,1911.6 L872.1,1914.0 L872.2,1914.8 L872.3,1915.6 L872.4,1917.5 L872.6,1918.6 L872.7,1920.3 L872.8,1922.1 L873.0,1923.2 L873.1,1924.3 L873.2,1926.5 L873.3,1926.7 L873.4,1927.5 L873.5,1928.9 L873.6,1930.3 L873.7,1931.3 L873.8,1932.1 L873.9,1933.8 L874.0,1934.4 L874.1,1935.4 L874.2,1937.1 L874.3,1938.6 L874.4,1939.7 L874.5,1941.1 L874.6,1942.1 L874.7,1943.4 L874.8,1944.1 L874.9,1945.2 L875.0,1946.8 L875.1,1948.4 L875.2,1949.2 L875.3,1950.2 L875.4,1951.6 L875.5,1953.4 L875.7,1954.4 L875.8,1955.5 L875.9,1956.8 L876.0,1958.0 L876.1,1959.6 L876.2,1960.6 L876.3,1962.0 L876.4,1963.2 L876.5,1964.2 L876.6,1965.7 L876.7,1967.1 L876.8,1967.7 L877.0,1969.5 L877.1,1970.9 L877.2,1972.1 L877.3,1972.9 L877.4,1974.2 L877.5,1975.9 L877.6,1976.7 L877.7,1978.5 L877.8,1979.4 L877.9,1980.8 L878.0,1980.8 L878.1,1982.9 L878.2,1984.3 L878.3,1984.9 L878.5,1986.9 L878.6,1987.9 L878.7,1988.7 L878.8,1990.8 L878.9,1992.4 L879.0,1993.6 L879.1,1994.7 L879.2,1996.0 L879.3,1996.2 L879.4,1997.7 L879.5,1999.6 L879.6,2000.7 L879.7,2001.8 L879.8,2002.8 L880.0,2003.9 L880.1,2004.9 L880.2,2006.3 L880.3,2006.6 L880.4,2008.9 L880.5,2010.2 L880.6,2010.3 L880.7,2012.2 L880.8,2013.7 L880.9,2014.9 L881.0,2016.4 L881.1,2017.8 L881.2,2018.9 L881.3,2019.2 L881.5,2019.9 L881.6,2021.4 L881.7,2023.4 L881.8,2023.7 L881.9,2025.1 L882.0,2026.3 L882.1,2027.7 L882.2,2028.3 L882.3,2030.3 L882.4,2031.5 L882.6,2033.3 L882.7,2034.4 L882.8,2035.6 L882.9,2037.3 L883.1,2038.9 L883.2,2040.0 L883.3,2040.7 L883.4,2042.3 L883.5,2043.9 L883.7,2045.3 L883.8,2046.9 L883.9,2048.1 L884.0,2048.8 L884.2,2050.8 L884.3,2051.8 L884.4,2053.0 L884.5,2054.0 L884.6,2054.7 L884.8,2055.4 L884.9,2057.5 L885.0,2059.1 L885.1,2060.7 L885.2,2061.1 L885.4,2062.3 L885.5,2063.3 L885.6,2064.8 L885.7,2065.5 L885.9,2066.5 L886.0,2067.3 L886.1,2068.8 L886.2,2070.4 L886.3,2070.8 L886.5,2071.9 L886.6,2073.7 L886.7,2074.1 L886.9,2075.0 L887.1,2076.8 L887.3,2079.1 L887.5,2080.6 L887.7,2081.7 L888.0,2083.2 L888.2,2085.4 L888.4,2086.0 L888.6,2088.2 L888.8,2089.1 L889.0,2090.7 L889.2,2091.4 L889.4,2092.4 L889.6,2094.8 L889.8,2095.4 L890.1,2095.9 L890.3,2097.3 L890.4,2097.9 L890.6,2098.6 L890.8,2099.3 L891.0,2100.2 L891.2,2101.7 L892.4,2104.1 L893.5,2105.2 L894.6,2102.9 L894.8,2103.0 L895.0,2102.2 L895.3,2102.0 L895.5,2101.2 L895.7,2100.9 L895.9,2100.1 L896.1,2099.1 L896.3,2098.1 L896.6,2096.6 L896.8,2095.1 L897.0,2093.4 L897.2,2092.1 L897.5,2090.3 L897.7,2087.9 L898.0,2085.1 L898.1,2084.5 L898.2,2084.0 L898.2,2083.3 L898.3,2081.9 L898.4,2081.3 L898.5,2079.7 L898.6,2078.8 L898.7,2077.5 L898.8,2076.9 L898.8,2075.5 L898.9,2074.3 L899.0,2073.8 L899.1,2072.8 L899.2,2070.7 L899.3,2070.2 L899.4,2069.1 L899.5,2067.9 L899.6,2066.1 L899.7,2065.4 L899.8,2063.9 L899.9,2061.8 L899.9,2059.9 L900.0,2058.8 L900.1,2058.1 L900.2,2058.1 L900.3,2055.4 L900.4,2054.3 L900.5,2052.9 L900.6,2051.5 L900.7,2050.4 L900.8,2049.2 L900.9,2047.6 L901.0,2046.8 L901.1,2045.3 L901.2,2044.1 L901.3,2042.8 L901.4,2040.7 L901.5,2040.1 L901.6,2038.1 L901.7,2037.0 L901.8,2035.6 L901.8,2034.2 L901.9,2033.2 L902.0,2031.5 L902.1,2031.0 L902.2,2029.9 L902.3,2028.5 L902.4,2027.7 L902.5,2026.8 L902.6,2025.2 L902.8,2023.0 L902.9,2022.2 L903.0,2020.9 L903.2,2020.2 L903.3,2019.1 L903.4,2017.3 L903.6,2015.5 L903.7,2013.9 L903.9,2012.1 L904.0,2010.6 L904.1,2009.0 L904.3,2007.6 L904.4,2006.1 L904.5,2005.6 L904.7,2004.8 L904.8,2001.8 L905.0,2001.1 L905.1,1999.2 L905.2,1998.1 L905.4,1997.4 L905.5,1996.4 L905.6,1996.6 L905.8,1994.9 L905.9,1993.2 L906.0,1991.7 L906.1,1991.4 L906.3,1990.2 L906.4,1989.4 L906.5,1988.2 L906.6,1988.3 L906.8,1987.6 L906.9,1987.2 L907.0,1986.0 L908.7,1981.9 L910.4,1985.9 L910.6,1986.2 L910.8,1987.4 L911.0,1987.5 L911.2,1988.5 L911.4,1989.3 L911.6,1990.8 L911.8,1991.4 L912.0,1992.9 L912.2,1993.9 L912.5,1995.2 L912.7,1996.5 L912.9,1998.8 L913.1,1999.3 L913.4,2001.3 L913.6,2002.2 L913.8,2004.8 L914.0,2005.6 L914.2,2007.1 L914.5,2007.6 L914.7,2009.9 L914.9,2011.0 L915.1,2011.7 L915.2,2012.9 L915.4,2014.7 L915.5,2015.2 L915.6,2016.4 L915.8,2018.0 L915.9,2019.3 L916.1,2019.7 L916.2,2020.5 L916.4,2022.5 L916.5,2023.9 L916.7,2025.3 L916.8,2026.7 L917.0,2027.6 L917.1,2029.0 L917.3,2029.9 L917.4,2031.1 L917.6,2032.5 L917.7,2033.6 L917.9,2034.9 L918.0,2036.9 L918.2,2037.7 L918.4,2039.2 L918.5,2040.3 L918.7,2040.8 L918.8,2042.6 L919.0,2042.9 L919.2,2044.7 L919.3,2045.8 L919.5,2046.6 L919.7,2048.5 L919.9,2049.7 L920.1,2051.9 L920.4,2052.2 L920.6,2054.5 L920.8,2056.1 L921.0,2057.4 L921.2,2058.2 L921.5,2059.4 L921.7,2060.4 L921.9,2062.6 L922.2,2064.0 L922.4,2065.9 L922.6,2067.1 L922.9,2068.5 L923.1,2068.8 L923.3,2070.4 L923.6,2071.7 L923.8,2073.1 L924.1,2072.7 L924.3,2074.5 L924.6,2074.5 L924.8,2075.6 L925.1,2076.4 L926.2,2078.8 L927.4,2079.2 L928.6,2078.6 L929.8,2076.9 L930.9,2074.6 L931.9,2071.2 L932.1,2070.9 L932.2,2070.0 L932.4,2070.0 L932.6,2068.5 L932.7,2068.2 L932.9,2067.1 L933.1,2065.8 L933.2,2065.0 L933.4,2063.3 L933.5,2062.9 L933.7,2061.9 L933.8,2060.6 L933.9,2059.6 L934.1,2058.6 L934.2,2057.7 L934.4,2056.1 L934.5,2054.5 L934.6,2053.5 L934.8,2051.4 L934.9,2051.1 L935.0,2049.4 L935.2,2048.1 L935.3,2047.2 L935.4,2045.1 L935.5,2043.6 L935.7,2042.3 L935.8,2040.5 L935.9,2039.7 L936.0,2037.4 L936.2,2036.1 L936.3,2035.0 L936.4,2033.6 L936.5,2032.3 L936.6,2031.9 L936.6,2031.1 L936.7,2029.5 L936.8,2028.5 L936.9,2026.6 L937.0,2026.0 L937.0,2024.8 L937.1,2023.7 L937.2,2022.5 L937.2,2021.1 L937.3,2019.6 L937.4,2017.7 L937.5,2016.1 L937.5,2014.9 L937.6,2014.4 L937.7,2013.1 L937.7,2011.5 L937.8,2010.0 L937.9,2009.2 L937.9,2007.7 L938.0,2007.0 L938.1,2005.1 L938.1,2003.3 L938.2,2001.4 L938.3,2000.3 L938.3,1999.6 L938.4,1997.8 L938.5,1997.1 L938.5,1996.0 L938.6,1994.1 L938.7,1993.2 L938.7,1991.4 L938.8,1990.6 L938.9,1989.3 L939.0,1988.5 L939.0,1986.8 L939.1,1985.8 L939.2,1985.0 L939.2,1983.6 L939.3,1982.5 L939.4,1981.3 L939.5,1980.9 L939.6,1979.9 L939.6,1979.1 L939.7,1978.3 L939.8,1977.3 L940.0,1975.3 L940.2,1973.0 L940.4,1971.2 L940.6,1969.7 L940.8,1967.5 L941.1,1965.8 L941.3,1964.9 L941.5,1964.1 L941.7,1962.5 L942.0,1961.0 L942.2,1960.3 L942.4,1959.1 L942.7,1958.3 L942.9,1957.2 L943.1,1956.1 L943.4,1955.5 L943.6,1955.2 L943.8,1954.6 L944.1,1953.2 L944.3,1953.7 L944.7,1952.9 L945.1,1952.5 L945.6,1952.7 L946.0,1953.9 L946.4,1954.1 L946.8,1955.5 L947.2,1957.6 L947.6,1959.7 L948.1,1962.1 L948.5,1963.7 L948.9,1965.4 L949.1,1966.1 L949.2,1967.5 L949.3,1968.5 L949.5,1969.7 L949.6,1970.5 L949.8,1971.5 L949.9,1972.8 L950.1,1974.5 L950.2,1976.1 L950.4,1978.0 L950.5,1979.3 L950.7,1980.5 L950.8,1982.3 L950.9,1982.9 L951.1,1984.3 L951.2,1986.3 L951.4,1988.0 L951.5,1989.3 L951.7,1990.0 L951.8,1991.1 L952.0,1993.0 L952.1,1994.6 L952.3,1994.9 L952.4,1996.4 L952.6,1997.7 L952.7,1999.2 L952.9,2000.3 L953.1,2000.5 L953.2,2000.8 L953.4,2001.6 L954.5,2003.2 L955.6,2002.5 L956.8,2001.1 L957.9,1998.9 L959.0,1996.3 L960.0,1995.7 L960.9,1994.5 L961.7,1992.5 L962.6,1992.6 L963.6,1993.1 L963.9,1993.5 L964.3,1994.1 L964.7,1995.7 L965.0,1997.2 L965.4,1998.0 L965.8,1998.7 L966.1,2001.4 L966.5,2002.9 L966.9,2003.7 L967.3,2006.2 L967.7,2006.4 L968.1,2008.0 L968.4,2008.8 L968.8,2009.6 L969.2,2010.6 L969.9,2011.9 L970.6,2010.5 L971.3,2010.1 L972.1,2008.1 L972.8,2006.3 L973.5,2004.9 L974.2,2002.5 L974.9,2002.1 L975.4,2000.7 L975.9,1999.4 L976.3,1998.9 L976.8,1998.2 L977.3,1997.2 L977.8,1996.7 L978.2,1996.3 L978.7,1994.7 L979.2,1993.0 L979.6,1992.1 L980.1,1990.7 L980.5,1988.2 L980.7,1987.3 L980.8,1986.0 L981.0,1984.6 L981.2,1984.1 L981.3,1983.0 L981.5,1982.1 L981.6,1981.0 L981.7,1977.9 L981.9,1976.4 L982.0,1975.3 L982.2,1974.7 L982.3,1972.7 L982.4,1971.4 L982.6,1969.2 L982.7,1968.3 L982.8,1967.0 L983.0,1965.6 L983.1,1964.0 L983.3,1962.1 L983.4,1961.4 L983.6,1959.4 L983.7,1957.9 L983.9,1956.7 L984.1,1956.0 L984.2,1955.7 L984.4,1954.7 L984.6,1954.1 L984.8,1953.4 L985.0,1953.3 L985.4,1952.9 L985.8,1952.6 L986.1,1954.7 L986.5,1955.5 L986.9,1956.9 L987.3,1958.4 L987.8,1959.7 L988.2,1961.6 L988.7,1963.8 L989.1,1966.1 L989.6,1967.6 L990.1,1968.7 L990.7,1970.0 L991.2,1970.6 L991.8,1971.3 L992.4,1971.5 L992.8,1971.1 L993.3,1971.0 L993.8,1971.1 L994.3,1969.6 L994.8,1968.0 L995.4,1967.0 L995.9,1966.5 L996.5,1964.6 L997.0,1963.8 L997.6,1962.6 L998.2,1960.7 L998.8,1958.5 L999.4,1957.6 L1000.0,1955.7 L1000.5,1954.6 L1001.1,1954.0 L1001.7,1952.3 L1002.3,1950.1 L1002.8,1949.4 L1003.4,1948.2 L1003.9,1948.4 L1004.4,1947.6 L1004.9,1946.7 L1005.9,1946.4 L1006.9,1946.3 L1007.8,1946.3 L1008.7,1946.8 L1009.6,1948.1 L1010.5,1949.2 L1011.4,1950.6 L1012.3,1952.4 L1013.1,1954.3 L1014.0,1955.2 L1014.8,1956.8 L1015.3,1957.3 L1015.8,1957.9 L1016.3,1960.2 L1016.8,1962.2 L1017.2,1963.1 L1017.7,1964.3 L1018.2,1965.6 L1018.7,1967.7 L1019.1,1969.9 L1019.6,1971.6 L1020.1,1972.4 L1020.5,1974.2 L1021.0,1974.9 L1021.4,1976.2 L1021.9,1977.4 L1022.3,1978.1 L1022.7,1977.6 L1023.1,1977.7 L1023.5,1977.7 L1023.7,1977.7 L1023.9,1977.0 L1024.1,1976.6 L1024.3,1976.3 L1024.5,1974.5 L1024.7,1973.9 L1024.9,1973.8 L1025.1,1972.2 L1025.3,1970.7 L1025.5,1969.8 L1025.6,1968.6 L1025.8,1966.9 L1026.0,1964.3 L1026.2,1963.4 L1026.3,1962.1 L1026.5,1960.8 L1026.7,1959.7 L1026.8,1957.1 L1027.0,1955.3 L1027.2,1954.1 L1027.3,1953.0 L1027.5,1951.0 L1027.7,1949.3 L1027.9,1948.2 L1028.0,1946.8 L1028.2,1945.7 L1028.4,1944.1 L1028.6,1942.9 L1028.7,1941.0 L1028.9,1940.4 L1029.1,1939.5 L1029.3,1938.4 L1029.5,1937.1 L1029.7,1937.3 L1030.7,1934.9 L1031.8,1933.3 L1032.9,1933.3 L1034.0,1934.0 L1035.1,1933.5 L1036.2,1933.7 L1037.2,1932.5 L1037.6,1931.2 L1038.0,1929.9 L1038.4,1929.3 L1038.8,1928.0 L1039.2,1926.3 L1039.6,1924.1 L1039.9,1922.5 L1040.3,1921.0 L1040.7,1919.0 L1041.0,1917.3 L1041.4,1916.2 L1041.8,1915.6 L1042.2,1914.9 L1042.6,1913.9 L1043.0,1913.7 L1043.4,1914.0 L1043.8,1913.3 L1044.3,1914.4 L1044.7,1915.0 L1045.2,1916.9 L1045.7,1917.3 L1046.1,1919.4 L1046.6,1920.5 L1047.1,1922.7 L1047.6,1924.7 L1048.0,1926.3 L1048.5,1928.3 L1049.0,1929.1 L1049.5,1930.4 L1050.0,1931.7 L1050.4,1931.9 L1050.9,1932.2 L1051.3,1931.7 L1051.6,1931.3 L1052.0,1930.1 L1052.3,1928.8 L1052.7,1927.9 L1053.1,1927.3 L1053.4,1925.8 L1053.8,1924.0 L1054.1,1922.1 L1054.5,1921.1 L1054.9,1919.5 L1055.2,1917.6 L1055.6,1916.1 L1055.9,1914.4 L1056.3,1913.3 L1056.6,1911.2 L1057.0,1910.2 L1057.3,1909.3 L1057.6,1908.5 L1058.0,1907.3 L1058.3,1906.8 L1058.9,1906.9 L1059.5,1907.6 L1060.1,1907.2 L1060.7,1908.0 L1061.2,1909.7 L1061.8,1910.6 L1062.4,1912.4 L1062.9,1914.3 L1063.5,1915.8 L1064.0,1918.4 L1064.6,1919.8 L1064.8,1920.3 L1065.1,1921.7 L1065.3,1922.8 L1065.6,1923.2 L1065.8,1924.3 L1066.1,1925.2 L1066.3,1926.5 L1066.6,1927.3 L1066.8,1928.9 L1067.1,1930.7 L1067.3,1931.4 L1067.6,1932.6 L1067.8,1933.9 L1068.1,1934.8 L1068.3,1936.4 L1068.6,1937.7 L1068.8,1938.9 L1069.1,1941.0 L1069.3,1941.8 L1069.6,1942.9 L1069.8,1943.3 L1070.1,1945.5 L1070.3,1946.8 L1070.6,1948.5 L1070.8,1949.2 L1071.0,1950.5 L1071.3,1951.8 L1071.5,1953.9 L1071.8,1955.2 L1072.0,1955.6 L1072.3,1958.2 L1072.5,1959.8 L1072.7,1960.7 L1073.0,1961.7 L1073.2,1963.2 L1073.5,1964.3 L1073.7,1966.1 L1073.9,1968.2 L1074.2,1969.5 L1074.4,1970.4 L1074.7,1972.1 L1074.9,1973.5 L1075.2,1974.6 L1075.4,1975.7 L1075.7,1977.0 L1075.9,1977.6 L1076.2,1978.5 L1076.5,1979.1 L1076.7,1979.1 L1077.0,1979.6 L1077.4,1979.5 L1077.9,1979.0 L1078.3,1978.6 L1078.7,1977.8 L1079.2,1976.7 L1079.6,1975.1 L1080.1,1972.9 L1080.5,1971.5 L1081.0,1970.1 L1081.5,1968.6 L1081.9,1966.9 L1082.4,1965.1 L1082.9,1963.6 L1083.4,1962.8 L1083.9,1961.8 L1084.4,1960.8 L1085.6,1960.1 L1086.9,1960.2 L1088.2,1960.7 L1089.5,1961.7 L1090.8,1962.3 L1092.1,1962.8 L1093.2,1961.5 L1093.6,1961.0 L1094.1,1960.7 L1094.5,1960.0 L1094.9,1958.7 L1095.3,1957.6 L1095.6,1956.8 L1096.0,1956.0 L1096.4,1955.2 L1096.7,1953.7 L1097.1,1953.1 L1097.4,1951.6 L1097.8,1949.3 L1098.1,1948.0 L1098.4,1947.0 L1098.7,1945.7 L1099.1,1943.6 L1099.4,1941.8 L1099.6,1940.9 L1099.8,1940.0 L1099.9,1938.5 L1100.1,1937.7 L1100.3,1937.0 L1100.4,1935.7 L1100.6,1934.6 L1100.8,1932.8 L1100.9,1931.9 L1101.1,1930.3 L1101.2,1929.2 L1101.4,1927.9 L1101.5,1926.0 L1101.7,1924.4 L1101.8,1923.8 L1102.0,1922.5 L1102.2,1921.1 L1102.3,1919.3 L1102.5,1918.4 L1102.6,1917.2 L1102.8,1915.3 L1102.9,1913.7 L1103.1,1913.1 L1103.2,1911.9 L1103.4,1910.3 L1103.5,1909.2 L1103.7,1908.0 L1103.8,1907.4 L1104.0,1906.4 L1104.1,1905.8 L1104.3,1904.9 L1104.7,1902.8 L1105.1,1901.5 L1105.5,1899.6 L1105.9,1897.8 L1106.3,1896.9 L1106.7,1895.7 L1107.1,1895.4 L1107.5,1895.1 L1108.0,1893.6 L1108.4,1892.7 L1108.8,1891.3 L1109.3,1891.3 L1109.9,1890.5 L1110.4,1889.3 L1111.0,1888.6 L1111.6,1887.5 L1112.2,1885.1 L1112.8,1883.8 L1113.4,1882.6 L1114.1,1882.3 L1114.8,1879.9 L1115.5,1878.7 L1116.4,1878.6 L1117.3,1877.4 L1118.2,1875.8 L1119.2,1875.3 L1120.2,1875.7 L1121.2,1876.1 L1122.2,1874.5 L1123.2,1874.3 L1124.2,1871.8 L1125.0,1871.3 L1125.8,1870.6 L1126.5,1869.1 L1127.3,1868.0 L1128.1,1868.9 L1128.9,1865.5 L1129.6,1863.7 L1130.4,1863.7 L1131.2,1863.7 L1132.1,1861.8 L1132.9,1861.4 L1133.9,1861.7 L1134.9,1862.4 L1136.0,1862.0 L1137.0,1864.1 L1138.0,1865.2 L1139.2,1865.8 L1140.3,1865.4 L1141.6,1867.7 L1142.9,1867.4 L1143.9,1866.2 L1145.0,1866.9 L1146.1,1867.1 L1147.2,1865.3 L1148.4,1865.4 L1149.7,1864.3 L1150.9,1863.7 L1152.1,1863.4 L1153.3,1861.8 L1154.5,1862.1 L1155.7,1862.5 L1156.8,1861.4 L1157.8,1861.5 L1159.1,1861.2 L1160.2,1861.3 L1161.3,1862.6 L1162.4,1862.1 L1163.4,1862.7 L1164.4,1865.2 L1165.5,1864.9 L1166.6,1865.4 L1167.7,1866.3 L1169.0,1867.1 L1169.8,1867.7 L1170.6,1869.4 L1171.4,1868.7 L1172.3,1868.3 L1173.1,1870.4 L1174.0,1871.1 L1174.9,1871.9 L1175.8,1873.0 L1176.7,1873.9 L1177.6,1874.3 L1178.5,1875.6 L1179.4,1876.6 L1180.3,1877.1 L1181.2,1878.7 L1182.1,1881.0 L1183.0,1881.7 L1183.9,1883.6 L1184.6,1883.4 L1185.3,1884.4 L1186.0,1885.1 L1186.7,1885.4 L1187.4,1886.1 L1188.1,1886.5 L1188.8,1889.0 L1189.5,1890.0 L1190.2,1891.5 L1190.9,1891.7 L1191.6,1892.3 L1192.3,1893.7 L1193.0,1896.3 L1193.7,1898.3 L1194.3,1900.2 L1195.0,1900.0 L1195.7,1900.5 L1196.3,1900.3 L1197.0,1900.5 L1197.6,1902.1 L1198.2,1903.5 L1198.8,1904.4 L1199.9,1904.9 L1200.9,1906.4 L1201.9,1907.8 L1202.9,1908.8 L1203.9,1910.7 L1204.8,1909.5 L1205.7,1910.6 L1206.6,1910.8 L1207.5,1911.2 L1208.3,1912.5 L1209.2,1912.3 L1210.0,1915.2 L1210.6,1915.9 L1211.2,1917.5 L1211.8,1918.2 L1212.4,1920.3 L1212.9,1920.1 L1213.5,1920.9 L1214.0,1924.2 L1214.6,1925.2 L1215.1,1926.8 L1215.6,1927.2 L1216.2,1927.8 L1216.7,1928.9 L1217.2,1930.8 L1217.7,1931.5 L1218.2,1931.7 L1218.7,1930.6 L1219.9,1932.4 L1221.0,1932.8 L1222.1,1932.8 L1223.2,1930.8 L1224.3,1928.1 L1225.3,1927.5 L1226.2,1928.7 L1227.3,1929.3 L1228.1,1930.6 L1229.0,1931.7 L1229.9,1932.3 L1231.2,1932.8 L1232.2,1933.0 L1233.4,1933.2 L1234.7,1931.6 L1236.0,1932.7 L1237.3,1932.7 L1238.7,1930.8 L1239.9,1929.8 L1241.1,1931.6 L1242.3,1932.1 L1243.3,1932.1 L1244.4,1932.3 L1245.3,1934.9 L1246.4,1935.8 L1247.4,1936.1 L1248.6,1937.1 L1249.5,1935.4 L1250.3,1934.8 L1251.2,1934.1 L1252.1,1934.2 L1253.1,1932.1 L1254.1,1932.2 L1255.1,1931.0 L1256.2,1930.2 L1257.3,1928.7 L1258.5,1926.1 L1259.1,1927.1 L1259.7,1927.4 L1260.4,1926.7 L1261.1,1924.6 L1261.8,1923.7 L1262.5,1923.2 L1263.3,1921.5 L1264.0,1919.6 L1264.8,1919.3 L1265.6,1918.3 L1266.3,1916.7 L1267.1,1916.6 L1267.9,1914.4 L1268.6,1913.7 L1269.4,1912.5 L1270.1,1912.4 L1270.8,1910.9 L1271.5,1909.0 L1272.2,1907.3 L1272.8,1907.6 L1273.4,1906.2 L1274.7,1906.4 L1276.0,1905.5 L1277.2,1904.3 L1278.3,1903.2 L1279.4,1902.8 L1280.4,1903.5 L1281.4,1902.7 L1282.4,1900.8 L1283.4,1900.2 L1284.4,1900.2 L1285.3,1898.6 L1286.1,1899.2 L1287.0,1896.7 L1287.8,1896.6 L1288.6,1895.1 L1289.4,1895.2 L1290.1,1894.0 L1290.9,1892.6 L1291.8,1891.5 L1292.7,1890.0 L1293.6,1887.9 L1294.5,1887.4 L1295.3,1886.4 L1296.0,1885.7 L1296.6,1884.6 L1297.1,1883.4" fill="none" stroke="#4a4a4a" stroke-width="10.5" stroke-linejoin="round" stroke-linecap="round"/>
<path d="M112.0,1815.9 L112.6,1819.8 L113.4,1821.9 L114.4,1821.6 L115.4,1824.3 L116.6,1822.1 L117.8,1823.6 L119.1,1824.6 L120.4,1825.5 L121.6,1823.2 L122.9,1828.4 L124.1,1827.2 L125.2,1828.3 L126.4,1829.4 L127.5,1826.6 L128.7,1826.3 L130.0,1829.4 L131.2,1829.6 L132.4,1829.6 L133.6,1830.3 L134.7,1832.5 L135.8,1832.2 L136.8,1828.8 L137.7,1831.0 L138.9,1832.4 L140.0,1830.9 L141.0,1832.8 L141.8,1827.2 L142.6,1825.7 L143.5,1828.7 L144.3,1826.5 L145.2,1826.6 L146.1,1826.7 L147.1,1828.0 L148.0,1828.8 L149.0,1827.0 L150.0,1833.2 L150.9,1831.5 L151.9,1832.0 L152.8,1833.4 L153.5,1833.8 L154.2,1831.8 L154.9,1827.3 L155.5,1825.0 L156.2,1827.1 L156.9,1826.0 L157.6,1826.1 L158.3,1824.9 L158.9,1820.6 L159.6,1819.8 L160.3,1823.9 L161.0,1820.4 L161.8,1818.3 L162.5,1824.6 L163.2,1823.5 L163.9,1827.0 L164.6,1823.9 L165.4,1825.2 L166.2,1828.4 L167.0,1829.5 L167.8,1830.8 L168.5,1831.2 L169.2,1830.2 L170.0,1825.3 L170.7,1828.2 L171.5,1827.8 L172.3,1824.8 L173.1,1823.1 L173.9,1816.9 L174.7,1818.7 L175.5,1819.7 L176.2,1816.6 L176.9,1816.6 L177.6,1814.8 L178.7,1818.0 L179.8,1820.8 L180.7,1817.7 L181.6,1816.9 L182.5,1816.8 L183.5,1822.5 L184.4,1824.0 L184.8,1824.1 L185.2,1824.9 L185.6,1824.1 L186.0,1824.3 L186.4,1828.2 L186.8,1827.8 L187.2,1830.6 L187.6,1832.4 L188.0,1837.5 L188.4,1836.9 L188.8,1832.6 L189.2,1837.7 L189.6,1839.4 L190.0,1841.2 L190.4,1839.9 L190.8,1841.5 L191.2,1840.1 L191.7,1838.8 L192.2,1842.0 L192.7,1838.5 L193.2,1839.7 L193.7,1841.8 L194.2,1838.7 L194.7,1834.5 L195.2,1832.1 L195.7,1828.5 L196.3,1829.4 L196.8,1828.8 L197.4,1827.4 L198.0,1828.9 L199.0,1825.1 L200.0,1826.3 L201.1,1824.9 L202.2,1823.5 L203.3,1822.0 L204.5,1820.1 L205.7,1820.1 L207.0,1820.9 L208.1,1821.3 L209.3,1826.6 L210.6,1824.1 L211.9,1823.2 L213.2,1823.4 L214.6,1822.2 L215.8,1822.1 L217.0,1822.1 L218.1,1819.6 L219.1,1821.0 L219.9,1825.7 L220.6,1822.7 L221.2,1825.7 L221.7,1827.4 L222.2,1829.0 L222.7,1833.8 L223.2,1835.0 L223.6,1835.3 L224.1,1834.4 L224.6,1834.8 L225.1,1834.2 L225.9,1834.7 L226.6,1835.9 L227.4,1834.0 L228.2,1836.2 L229.0,1842.3 L229.7,1838.6 L230.4,1842.3 L231.1,1841.3 L231.6,1844.7 L232.1,1849.0 L232.5,1847.2 L232.9,1847.2 L233.3,1848.5 L233.8,1850.6 L234.2,1852.6 L234.6,1848.8 L235.1,1855.4 L235.6,1855.8 L236.3,1859.8 L237.1,1856.0 L237.9,1857.5 L238.7,1857.7 L239.6,1857.7 L240.4,1859.2 L241.1,1859.5 L241.7,1861.2 L242.1,1863.9 L242.4,1867.6 L242.7,1868.0 L242.9,1868.9 L243.1,1867.2 L243.3,1867.6 L243.5,1871.3 L243.7,1873.4 L244.0,1873.7 L244.3,1875.5 L244.7,1877.9 L245.5,1877.8 L246.5,1879.2 L247.5,1879.0 L248.6,1878.2 L249.7,1879.2 L250.7,1880.4 L251.2,1881.4 L251.6,1883.2 L252.1,1884.9 L252.6,1886.2 L253.1,1886.8 L253.6,1887.7 L254.1,1890.2 L254.6,1889.4 L255.0,1890.9 L255.5,1892.1 L255.9,1894.5 L256.3,1894.2 L256.7,1895.8 L257.2,1896.5 L257.7,1897.8 L258.2,1899.8 L258.6,1900.4 L259.0,1902.3 L259.4,1903.9 L259.7,1904.9 L260.0,1905.7 L260.2,1907.4" fill="none" stroke="#4a4a4a" stroke-width="9" stroke-linejoin="round" stroke-linecap="round"/>
<path d="M112.0,1818.8 L112.6,1820.7 L113.4,1822.8 L114.4,1825.4 L115.4,1820.2 L116.6,1820.0 L117.8,1819.8 L119.1,1821.3 L120.4,1822.5 L121.6,1821.1 L122.9,1824.1 L124.1,1822.1 L125.2,1825.8 L126.4,1824.6 L127.5,1827.2 L128.7,1828.9 L130.0,1829.0 L131.2,1828.5 L132.4,1828.5 L133.6,1828.2 L134.7,1833.9 L135.8,1834.2 L136.8,1837.0 L137.7,1835.0 L138.9,1833.9 L140.0,1830.9 L141.0,1829.6 L141.8,1825.6 L142.6,1828.5 L143.5,1828.7 L144.3,1829.4 L145.2,1829.5 L146.1,1824.8 L147.1,1820.8 L148.0,1826.9 L149.0,1828.9 L150.0,1827.8 L150.9,1828.1 L151.9,1832.0 L152.8,1835.1 L153.5,1832.9 L154.2,1829.2 L154.9,1830.1 L155.5,1830.0 L156.2,1824.2 L156.9,1825.1 L157.6,1821.0 L158.3,1820.8 L158.9,1821.0 L159.6,1819.9 L160.3,1816.2 L161.0,1819.2 L161.8,1817.2 L162.5,1821.8 L163.2,1819.1 L163.9,1822.1 L164.6,1824.3 L165.4,1825.5 L166.2,1828.4 L167.0,1829.9 L167.8,1833.5 L168.5,1831.6 L169.2,1831.7 L170.0,1826.5 L170.7,1828.3 L171.5,1827.7 L172.3,1827.5 L173.1,1826.6 L173.9,1820.6 L174.7,1816.7 L175.5,1815.7 L176.2,1815.1 L176.9,1818.6 L177.6,1812.7 L178.7,1814.7 L179.8,1817.6 L180.7,1816.8 L181.6,1814.7 L182.5,1816.0 L183.5,1820.5 L184.4,1823.7 L184.8,1823.2 L185.2,1824.8 L185.6,1828.4 L186.0,1826.9 L186.4,1832.2 L186.8,1828.9 L187.2,1834.7 L187.6,1830.8 L188.0,1836.2 L188.4,1836.2 L188.8,1833.9 L189.2,1837.3 L189.6,1840.1 L190.0,1841.7 L190.4,1841.7 L190.8,1841.3 L191.2,1841.1 L191.7,1841.6 L192.2,1843.7 L192.7,1842.2 L193.2,1841.4 L193.7,1839.1 L194.2,1839.7 L194.7,1841.0 L195.2,1839.9 L195.7,1831.4 L196.3,1828.2 L196.8,1825.9 L197.4,1825.8 L198.0,1830.1 L199.0,1825.9 L200.0,1825.0 L201.1,1823.6 L202.2,1819.3 L203.3,1819.0 L204.5,1819.7 L205.7,1819.5 L207.0,1820.4 L208.1,1820.4 L209.3,1820.8 L210.6,1818.0 L211.9,1822.6 L213.2,1823.1 L214.6,1820.9 L215.8,1820.8 L217.0,1820.2 L218.1,1818.2 L219.1,1823.3 L219.9,1823.3 L220.6,1827.1 L221.2,1830.0 L221.7,1825.9 L222.2,1825.7 L222.7,1829.9 L223.2,1830.0 L223.6,1830.5 L224.1,1832.0 L224.6,1835.0 L225.1,1832.9 L225.9,1835.9 L226.6,1839.7 L227.4,1838.1 L228.2,1838.4 L229.0,1840.8 L229.7,1843.3 L230.4,1844.9 L231.1,1845.2 L231.6,1848.3 L232.1,1845.5 L232.5,1850.1 L232.9,1850.3 L233.3,1849.4 L233.8,1847.6 L234.2,1854.0 L234.6,1854.3 L235.1,1855.8 L235.6,1859.1 L236.3,1856.9 L237.1,1859.1 L237.9,1860.6 L238.7,1863.2 L239.6,1861.9 L240.4,1865.3 L241.1,1862.1 L241.7,1862.9 L242.1,1862.5 L242.4,1862.6 L242.7,1869.0 L242.9,1869.2 L243.1,1869.5 L243.3,1871.0 L243.5,1872.3 L243.7,1870.2 L244.0,1872.3 L244.3,1875.5 L244.7,1873.8 L245.5,1876.4 L246.5,1877.4 L247.5,1877.3 L248.6,1877.3 L249.7,1878.5 L250.7,1880.7 L251.2,1882.2 L251.6,1881.4 L252.1,1883.4 L252.6,1885.3 L253.1,1884.7 L253.6,1885.7 L254.1,1888.6 L254.6,1890.6 L255.0,1892.0 L255.5,1894.3 L255.9,1895.0 L256.3,1896.6 L256.7,1896.5 L257.2,1897.5 L257.7,1898.0 L258.2,1899.9 L258.6,1901.0 L259.0,1901.9 L259.4,1904.0 L259.7,1905.2 L260.0,1905.3 L260.2,1906.3" fill="none" stroke="#4a4a4a" stroke-width="9" stroke-linejoin="round" stroke-linecap="round"/>
</g>
<rect x="268.3" y="1304.3" width="137.0" height="750.0" fill="none" stroke="#000080" stroke-width="2.6" stroke-dasharray="5.2 8.6"/>
<rect x="414.8" y="1304.1" width="26.2" height="716.8" fill="none" stroke="#ff0000" stroke-width="2.6" stroke-dasharray="5.2 8.6"/>
<rect x="453.6" y="1304.1" width="25.7" height="716.1" fill="none" stroke="#000080" stroke-width="2.6" stroke-dasharray="5.2 8.6"/>
<rect x="485.6" y="1304.1" width="14.0" height="716.8" fill="none" stroke="#ff8000" stroke-width="2.6" stroke-dasharray="5.2 8.6"/>
<rect x="867.9" y="1369.5" width="33.7" height="758.9" fill="none" stroke="#006400" stroke-width="2.6" stroke-dasharray="5.2 8.6"/>
<rect x="908.4" y="1373.3" width="24.7" height="750.6" fill="none" stroke="#000080" stroke-width="2.6" stroke-dasharray="5.2 8.6"/>
<rect x="936.7" y="1374.5" width="24.8" height="749.4" fill="none" stroke="#ff8000" stroke-width="2.6" stroke-dasharray="5.2 8.6"/>
<rect x="967.7" y="1369.8" width="16.3" height="754.5" fill="none" stroke="#ff0000" stroke-width="2.6" stroke-dasharray="5.2 8.6"/>
<rect x="993.8" y="1366.5" width="11.0" height="757.5" fill="none" stroke="#000080" stroke-width="2.6" stroke-dasharray="5.2 8.6"/>
<rect x="1011.6" y="1356.9" width="13.6" height="698.5" fill="none" stroke="#ff8000" stroke-width="2.6" stroke-dasharray="5.2 8.6"/>
<rect x="1041.3" y="1358.6" width="16.9" height="696.8" fill="none" stroke="#8000ff" stroke-width="2.6" stroke-dasharray="5.2 8.6"/>
<rect x="1070.5" y="1358.3" width="14.5" height="696.4" fill="none" stroke="#ff0000" stroke-width="2.6" stroke-dasharray="5.2 8.6"/>
<rect x="1098.6" y="1355.0" width="14.8" height="700.4" fill="none" stroke="#0000ff" stroke-width="2.6" stroke-dasharray="5.2 8.6"/>
<rect x="114.8" y="1275.0" width="95.4" height="45.0" fill="#ffff00" />
<text x="162.3" y="1309.3" font-family="'Liberation Serif', serif" font-size="31" font-weight="bold" fill="#000" text-anchor="middle" >CGC4</text>
<rect x="114.8" y="1432.5" width="95.4" height="45.2" fill="#ffff00" />
<text x="162.3" y="1467.0" font-family="'Liberation Serif', serif" font-size="31" font-weight="bold" fill="#000" text-anchor="middle" >CGC3</text>
<rect x="114.8" y="1591.3" width="95.4" height="44.7" fill="#ffff00" />
<text x="162.3" y="1625.3" font-family="'Liberation Serif', serif" font-size="31" font-weight="bold" fill="#000" text-anchor="middle" >CGC2</text>
<rect x="114.8" y="1763.3" width="95.4" height="44.7" fill="#ffff00" />
<text x="162.3" y="1797.3" font-family="'Liberation Serif', serif" font-size="31" font-weight="bold" fill="#000" text-anchor="middle" >CGC1</text>
<text x="900.1" y="1347.5" font-family="'Liberation Serif', serif" font-size="28" font-weight="bold" fill="#ff0000" text-anchor="start" transform="rotate(-90 900.1 1347.5)" >C=O</text>
<text x="927.8" y="1345.0" font-family="'Liberation Serif', serif" font-size="28" font-weight="bold" fill="#ff0000" text-anchor="start" transform="rotate(-90 927.8 1345.0)" >N-H</text>
<text x="959.6" y="1369.5" font-family="'Liberation Serif', serif" font-size="28" font-weight="bold" fill="#ff0000" text-anchor="start" transform="rotate(-90 959.6 1369.5)" >-COOH</text>
<text x="1003.9" y="1353.8" font-family="'Liberation Serif', serif" font-size="28" font-weight="bold" fill="#ff0000" text-anchor="start" transform="rotate(-90 1003.9 1353.8)" >C-N</text>
<text x="1063.8" y="1353.3" font-family="'Liberation Serif', serif" font-size="28" font-weight="bold" fill="#ff0000" text-anchor="start" transform="rotate(-90 1063.8 1353.3)" >C-O-C</text>
<text x="1107.8" y="1349.4" font-family="'Liberation Serif', serif" font-size="28" font-weight="bold" fill="#ff0000" text-anchor="start" transform="rotate(-90 1107.8 1349.4)" >C-O</text>
<text x="325.5" y="2158.3" font-family="'Liberation Serif', serif" font-size="28" font-weight="bold" fill="#ff0000" text-anchor="start" transform="rotate(90 325.5 2158.3)" >O-H</text>
<text x="402.6" y="2160.0" font-family="'Liberation Serif', serif" font-size="28" font-weight="bold" fill="#ff0000" text-anchor="start" transform="rotate(90 402.6 2160.0)" >N-H</text>
<text x="442.9" y="2163.3" font-family="'Liberation Serif', serif" font-size="28" font-weight="bold" fill="#ff0000" text-anchor="start" transform="rotate(90 442.9 2163.3)" >C-H</text>
<text x="479.8" y="2163.3" font-family="'Liberation Serif', serif" font-size="28" font-weight="bold" fill="#ff0000" text-anchor="start" transform="rotate(90 479.8 2163.3)" >C-H</text>
<text x="350.9" y="2148.0" font-family="'Liberation Serif', serif" font-size="26.5" font-weight="normal" fill="#000" text-anchor="start" transform="rotate(-90 350.9 2148.0)" >(3307)</text>
<text x="429.8" y="2129.0" font-family="'Liberation Serif', serif" font-size="26.5" font-weight="normal" fill="#000" text-anchor="start" transform="rotate(-90 429.8 2129.0)" >(3067)</text>
<text x="469.4" y="2128.0" font-family="'Liberation Serif', serif" font-size="26.5" font-weight="normal" fill="#000" text-anchor="start" transform="rotate(-90 469.4 2128.0)" >(2949)</text>
<text x="502.1" y="2128.0" font-family="'Liberation Serif', serif" font-size="26.5" font-weight="normal" fill="#000" text-anchor="start" transform="rotate(-90 502.1 2128.0)" >(2880)</text>
<text x="901.1" y="2213.6" font-family="'Liberation Serif', serif" font-size="26.5" font-weight="normal" fill="#000" text-anchor="start" transform="rotate(-90 901.1 2213.6)" >(1639)</text>
<text x="936.2" y="2213.6" font-family="'Liberation Serif', serif" font-size="26.5" font-weight="normal" fill="#000" text-anchor="start" transform="rotate(-90 936.2 2213.6)" >(1539)</text>
<text x="964.4" y="2213.6" font-family="'Liberation Serif', serif" font-size="26.5" font-weight="normal" fill="#000" text-anchor="start" transform="rotate(-90 964.4 2213.6)" >(1448)</text>
<text x="997.2" y="2213.6" font-family="'Liberation Serif', serif" font-size="26.5" font-weight="normal" fill="#000" text-anchor="start" transform="rotate(-90 997.2 2213.6)" >(1403)</text>
<text x="1017.6" y="2136.8" font-family="'Liberation Serif', serif" font-size="26.5" font-weight="normal" fill="#000" text-anchor="start" transform="rotate(-90 1017.6 2136.8)" >(1336)</text>
<text x="1049.3" y="2136.8" font-family="'Liberation Serif', serif" font-size="26.5" font-weight="normal" fill="#000" text-anchor="start" transform="rotate(-90 1049.3 2136.8)" >(1240)</text>
<text x="1079.7" y="2136.8" font-family="'Liberation Serif', serif" font-size="26.5" font-weight="normal" fill="#000" text-anchor="start" transform="rotate(-90 1079.7 2136.8)" >(1156)</text>
<text x="1109.1" y="2136.8" font-family="'Liberation Serif', serif" font-size="26.5" font-weight="normal" fill="#000" text-anchor="start" transform="rotate(-90 1109.1 2136.8)" >(1075)</text>
<text x="1140.8" y="2136.8" font-family="'Liberation Serif', serif" font-size="26.5" font-weight="normal" fill="#000" text-anchor="start" transform="rotate(-90 1140.8 2136.8)" >(1030)</text>
<line x1="339.3" y1="2052.0" x2="339.3" y2="2078.0" stroke="#000" stroke-width="2" />
<line x1="418.1" y1="1984.7" x2="418.4" y2="2057.0" stroke="#000" stroke-width="2" />
<line x1="457.2" y1="1977.9" x2="458.8" y2="2055.0" stroke="#000" stroke-width="2" />
<line x1="480.3" y1="1957.6" x2="491.6" y2="2057.0" stroke="#000" stroke-width="2" />
<line x1="891.1" y1="2110.8" x2="891.1" y2="2141.3" stroke="#000" stroke-width="2" />
<line x1="924.6" y1="2085.9" x2="925.7" y2="2141.3" stroke="#000" stroke-width="2" />
<line x1="954.4" y1="2012.4" x2="954.4" y2="2141.3" stroke="#000" stroke-width="2" />
<line x1="969.8" y1="2021.5" x2="986.8" y2="2141.3" stroke="#000" stroke-width="2" />
<line x1="992.4" y1="1980.5" x2="1004.9" y2="2065.0" stroke="#000" stroke-width="2" />
<line x1="1024.8" y1="1986.7" x2="1037.2" y2="2063.8" stroke="#000" stroke-width="2" />
<line x1="1052.1" y1="1941.9" x2="1068.3" y2="2063.8" stroke="#000" stroke-width="2" />
<line x1="1080.7" y1="1991.7" x2="1097.4" y2="2063.8" stroke="#000" stroke-width="2" />
<line x1="1096.4" y1="1974.2" x2="1129.2" y2="2062.5" stroke="#000" stroke-width="2" />
<path d="M109.7,1270.0 L1301.7,1270.0 L1301.7,2230.3 L109.7,2230.3 Z" stroke="#000" stroke-width="5" fill="none"/>
<line x1="109.7" y1="2230.3" x2="109.7" y2="2249.0" stroke="#000" stroke-width="5" />
<line x1="242.1" y1="2230.3" x2="242.1" y2="2249.0" stroke="#000" stroke-width="5" />
<line x1="374.6" y1="2230.3" x2="374.6" y2="2249.0" stroke="#000" stroke-width="5" />
<line x1="507.0" y1="2230.3" x2="507.0" y2="2249.0" stroke="#000" stroke-width="5" />
<line x1="639.5" y1="2230.3" x2="639.5" y2="2249.0" stroke="#000" stroke-width="5" />
<line x1="771.9" y1="2230.3" x2="771.9" y2="2249.0" stroke="#000" stroke-width="5" />
<line x1="904.3" y1="2230.3" x2="904.3" y2="2249.0" stroke="#000" stroke-width="5" />
<line x1="1036.8" y1="2230.3" x2="1036.8" y2="2249.0" stroke="#000" stroke-width="5" />
<line x1="1169.2" y1="2230.3" x2="1169.2" y2="2249.0" stroke="#000" stroke-width="5" />
<line x1="1301.7" y1="2230.3" x2="1301.7" y2="2249.0" stroke="#000" stroke-width="5" />
<text x="109.7" y="2287.0" font-family="'Liberation Serif', serif" font-size="31" font-weight="normal" fill="#000" text-anchor="middle" >4000</text>
<text x="242.1" y="2287.0" font-family="'Liberation Serif', serif" font-size="31" font-weight="normal" fill="#000" text-anchor="middle" >3600</text>
<text x="374.6" y="2287.0" font-family="'Liberation Serif', serif" font-size="31" font-weight="normal" fill="#000" text-anchor="middle" >3200</text>
<text x="507.0" y="2287.0" font-family="'Liberation Serif', serif" font-size="31" font-weight="normal" fill="#000" text-anchor="middle" >2800</text>
<text x="639.5" y="2287.0" font-family="'Liberation Serif', serif" font-size="31" font-weight="normal" fill="#000" text-anchor="middle" >2400</text>
<text x="771.9" y="2287.0" font-family="'Liberation Serif', serif" font-size="31" font-weight="normal" fill="#000" text-anchor="middle" >2000</text>
<text x="904.3" y="2287.0" font-family="'Liberation Serif', serif" font-size="31" font-weight="normal" fill="#000" text-anchor="middle" >1600</text>
<text x="1036.8" y="2287.0" font-family="'Liberation Serif', serif" font-size="31" font-weight="normal" fill="#000" text-anchor="middle" >1200</text>
<text x="1169.2" y="2287.0" font-family="'Liberation Serif', serif" font-size="31" font-weight="normal" fill="#000" text-anchor="middle" >800</text>
<text x="1301.7" y="2287.0" font-family="'Liberation Serif', serif" font-size="31" font-weight="normal" fill="#000" text-anchor="middle" >400</text>
<text transform="translate(675 1232) scale(0.82 1)" font-family="'Liberation Sans', sans-serif" font-size="47" text-anchor="middle">b</text>
<text x="707" y="2351" font-family="'Liberation Serif', serif" font-size="36" text-anchor="middle">Wavenumber (cm<tspan font-size="23" dy="-14">-1</tspan><tspan dy="14">)</tspan></text>
<text x="70.7" y="1750.7" font-family="'Liberation Serif', serif" font-size="36" font-weight="normal" fill="#000" text-anchor="middle" transform="rotate(-90 70.7 1750.7)" >Transmittans (%)</text>
</svg>
</body></html>
